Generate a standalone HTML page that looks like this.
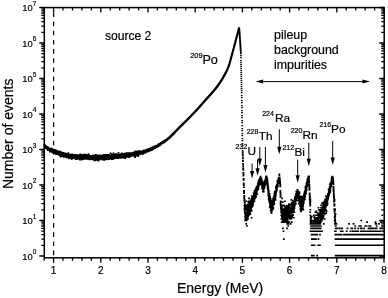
<!DOCTYPE html><html><head><meta charset="utf-8"><title>spectrum</title><style>html,body{margin:0;padding:0;background:#fff}svg{display:block}</style></head><body><svg width="388" height="298" viewBox="0 0 388 298" font-family="&quot;Liberation Sans&quot;, sans-serif" fill="#000">
<rect width="388" height="298" fill="#fff"/>
<path d="M44.2 146.1h.2M44.2 146.4h.2M44.3 144.9h.2M44.3 145.9h.2M44.4 145.9h.2M44.4 146.1h.2M44.4 146.1h.2M44.5 145.3h.2M44.5 145.2h.2M44.6 146.3h.2M44.6 146.2h.2M44.7 145.2h.2M44.7 146.7h.2M44.7 146.2h.2M44.8 145.9h.2M44.8 146.6h.2M44.9 145.8h.2M44.9 147.0h.2M44.9 146.0h.2M45.0 145.6h.2M45.0 147.0h.2M45.1 146.2h.2M45.1 145.7h.2M45.2 146.7h.2M45.2 146.5h.2M45.2 146.6h.2M45.3 147.3h.2M45.3 146.6h.2M45.4 145.8h.2M45.4 146.7h.2M45.4 146.1h.2M45.5 148.3h.2M45.5 146.9h.2M45.6 148.0h.2M45.6 147.5h.2M45.7 146.8h.2M45.7 146.2h.2M45.7 147.2h.2M45.8 146.2h.2M45.8 147.1h.2M45.9 147.2h.2M45.9 147.9h.2M45.9 147.8h.2M46.0 147.5h.2M46.0 147.3h.2M46.1 146.3h.2M46.1 146.3h.2M46.2 146.7h.2M46.2 147.3h.2M46.2 147.1h.2M46.3 146.7h.2M46.3 148.2h.2M46.4 147.5h.2M46.4 147.1h.2M46.4 148.1h.2M46.5 146.7h.2M46.5 147.3h.2M46.6 147.4h.2M46.6 147.5h.2M46.6 147.9h.2M46.7 147.5h.2M46.7 148.0h.2M46.8 148.1h.2M46.8 147.9h.2M46.9 147.1h.2M46.9 148.5h.2M46.9 147.5h.2M47.0 147.4h.2M47.0 148.1h.2M47.1 148.3h.2M47.1 147.8h.2M47.1 148.5h.2M47.2 149.1h.2M47.2 147.3h.2M47.3 149.0h.2M47.3 148.6h.2M47.4 148.7h.2M47.4 148.4h.2M47.4 147.8h.2M47.5 148.6h.2M47.5 148.6h.2M47.6 148.2h.2M47.6 148.8h.2M47.6 148.2h.2M47.7 147.7h.2M47.7 148.2h.2M47.8 147.4h.2M47.8 148.2h.2M47.9 148.2h.2M47.9 150.2h.2M47.9 149.0h.2M48.0 148.1h.2M48.0 149.4h.2M48.1 148.8h.2M48.1 148.2h.2M48.1 148.1h.2M48.2 148.7h.2M48.2 148.8h.2M48.3 148.6h.2M48.3 150.1h.2M48.3 148.8h.2M48.4 149.4h.2M48.4 149.1h.2M48.5 149.8h.2M48.5 150.2h.2M48.6 149.2h.2M48.6 148.7h.2M48.6 148.8h.2M48.7 150.0h.2M48.7 149.6h.2M48.8 149.8h.2M48.8 148.9h.2M48.8 148.6h.2M48.9 148.9h.2M48.9 148.9h.2M49.0 148.2h.2M49.0 149.3h.2M49.1 149.4h.2M49.1 148.7h.2M49.1 150.2h.2M49.2 150.1h.2M49.2 149.3h.2M49.3 148.2h.2M49.3 150.0h.2M49.3 149.4h.2M49.4 149.9h.2M49.4 149.0h.2M49.5 149.2h.2M49.5 149.5h.2M49.6 149.9h.2M49.6 149.8h.2M49.6 150.7h.2M49.7 150.3h.2M49.7 149.3h.2M49.8 151.4h.2M49.8 148.7h.2M49.8 150.3h.2M49.9 149.4h.2M49.9 148.7h.2M50.0 151.6h.2M50.0 150.8h.2M50.1 150.4h.2M50.1 149.8h.2M50.1 149.1h.2M50.2 148.6h.2M50.2 150.2h.2M50.3 149.0h.2M50.3 150.1h.2M50.3 150.2h.2M50.4 149.3h.2M50.4 150.6h.2M50.5 150.9h.2M50.5 149.2h.2M50.5 149.8h.2M50.6 150.0h.2M50.6 149.9h.2M50.7 151.5h.2M50.7 149.7h.2M50.8 148.9h.2M50.8 150.2h.2M50.8 149.8h.2M50.9 150.0h.2M50.9 149.4h.2M51.0 149.8h.2M51.0 151.8h.2M51.0 149.7h.2M51.1 149.6h.2M51.1 151.6h.2M51.2 150.5h.2M51.2 149.7h.2M51.3 149.4h.2M51.3 150.8h.2M51.3 148.6h.2M51.4 150.1h.2M51.4 150.3h.2M51.5 150.1h.2M51.5 150.1h.2M51.5 149.9h.2M51.6 151.2h.2M51.6 150.1h.2M51.7 150.2h.2M51.7 148.5h.2M51.8 150.2h.2M51.8 150.7h.2M51.8 151.0h.2M51.9 150.5h.2M51.9 150.8h.2M52.0 151.6h.2M52.0 151.6h.2M52.0 150.9h.2M52.1 151.0h.2M52.1 149.6h.2M52.2 150.1h.2M52.2 150.7h.2M52.3 150.1h.2M52.3 151.0h.2M52.3 151.6h.2M52.4 152.1h.2M52.4 150.8h.2M52.5 150.5h.2M52.5 150.2h.2M52.5 152.8h.2M52.6 151.6h.2M52.6 150.9h.2M52.7 151.1h.2M52.7 152.5h.2M52.7 151.1h.2M52.8 151.3h.2M52.8 150.4h.2M52.9 151.9h.2M52.9 149.9h.2M53.0 151.9h.2M53.0 149.9h.2M53.0 151.2h.2M53.1 150.5h.2M53.1 151.4h.2M53.2 152.0h.2M53.2 150.3h.2M53.2 151.5h.2M53.3 150.5h.2M53.3 151.9h.2M53.4 151.9h.2M53.4 151.4h.2M53.5 150.3h.2M53.5 151.7h.2M53.5 149.6h.2M53.6 151.3h.2M53.6 150.2h.2M53.7 152.4h.2M53.7 151.6h.2M53.7 150.7h.2M53.8 150.5h.2M53.8 151.7h.2M53.9 149.8h.2M53.9 152.2h.2M54.0 151.2h.2M54.0 150.4h.2M54.0 150.8h.2M54.1 151.2h.2M54.1 150.7h.2M54.2 152.0h.2M54.2 150.9h.2M54.2 152.6h.2M54.3 152.3h.2M54.3 150.8h.2M54.4 150.9h.2M54.4 151.8h.2M54.4 152.4h.2M54.5 151.8h.2M54.5 152.2h.2M54.6 150.5h.2M54.6 149.9h.2M54.7 152.4h.2M54.7 151.5h.2M54.7 151.4h.2M54.8 151.3h.2M54.8 151.5h.2M54.9 151.1h.2M54.9 153.5h.2M54.9 152.2h.2M55.0 152.3h.2M55.0 152.2h.2M55.1 152.9h.2M55.1 152.3h.2M55.2 152.3h.2M55.2 151.6h.2M55.2 151.7h.2M55.3 152.8h.2M55.3 152.9h.2M55.4 153.3h.2M55.4 152.5h.2M55.4 152.5h.2M55.5 152.5h.2M55.5 151.5h.2M55.6 152.0h.2M55.6 151.5h.2M55.7 151.9h.2M55.7 151.8h.2M55.7 151.4h.2M55.8 151.4h.2M55.8 150.2h.2M55.9 152.2h.2M55.9 152.6h.2M55.9 153.6h.2M56.0 151.5h.2M56.0 150.9h.2M56.1 152.2h.2M56.1 152.5h.2M56.2 153.0h.2M56.2 152.3h.2M56.2 154.3h.2M56.3 151.8h.2M56.3 153.0h.2M56.4 152.0h.2M56.4 151.0h.2M56.4 153.8h.2M56.5 152.7h.2M56.5 153.2h.2M56.6 153.3h.2M56.6 151.7h.2M56.6 151.8h.2M56.7 152.0h.2M56.7 152.1h.2M56.8 152.8h.2M56.8 152.4h.2M56.9 151.9h.2M56.9 151.9h.2M56.9 152.9h.2M57.0 152.2h.2M57.0 153.1h.2M57.1 153.8h.2M57.1 151.1h.2M57.1 152.6h.2M57.2 152.7h.2M57.2 153.3h.2M57.3 152.6h.2M57.3 153.1h.2M57.4 152.1h.2M57.4 151.6h.2M57.4 153.2h.2M57.5 153.4h.2M57.5 152.8h.2M57.6 152.7h.2M57.6 153.1h.2M57.6 154.0h.2M57.7 152.6h.2M57.7 152.8h.2M57.8 152.9h.2M57.8 153.4h.2M57.9 152.9h.2M57.9 153.1h.2M57.9 153.6h.2M58.0 152.9h.2M58.0 153.1h.2M58.1 152.7h.2M58.1 153.2h.2M58.1 152.6h.2M58.2 154.3h.2M58.2 153.1h.2M58.3 154.4h.2M58.3 151.8h.2M58.4 153.1h.2M58.4 152.7h.2M58.4 153.3h.2M58.5 152.9h.2M58.5 152.9h.2M58.6 153.4h.2M58.6 154.4h.2M58.6 153.9h.2M58.7 153.0h.2M58.7 152.7h.2M58.8 153.6h.2M58.8 153.8h.2M58.8 153.3h.2M58.9 153.8h.2M58.9 152.9h.2M59.0 155.0h.2M59.0 154.3h.2M59.1 152.6h.2M59.1 153.2h.2M59.1 151.4h.2M59.2 154.2h.2M59.2 152.3h.2M59.3 153.2h.2M59.3 152.0h.2M59.3 152.1h.2M59.4 154.2h.2M59.4 154.0h.2M59.5 153.9h.2M59.5 151.4h.2M59.6 152.9h.2M59.6 154.5h.2M59.6 155.0h.2M59.7 153.1h.2M59.7 153.3h.2M59.8 153.9h.2M59.8 153.3h.2M59.8 155.0h.2M59.9 153.4h.2M59.9 153.3h.2M60.0 153.3h.2M60.0 154.2h.2M60.1 153.5h.2M60.1 154.0h.2M60.1 155.6h.2M60.2 155.7h.2M60.2 153.0h.2M60.3 154.6h.2M60.3 153.1h.2M60.3 154.5h.2M60.4 153.3h.2M60.4 152.6h.2M60.5 151.8h.2M60.5 154.0h.2M60.5 152.3h.2M60.6 153.4h.2M60.6 156.6h.2M60.7 156.0h.2M60.7 153.3h.2M60.8 152.8h.2M60.8 154.1h.2M60.8 154.0h.2M60.9 154.5h.2M60.9 154.6h.2M61.0 152.9h.2M61.0 154.1h.2M61.0 154.5h.2M61.1 153.5h.2M61.1 154.6h.2M61.2 153.7h.2M61.2 154.4h.2M61.3 153.7h.2M61.3 154.2h.2M61.3 155.6h.2M61.4 153.2h.2M61.4 153.4h.2M61.5 154.1h.2M61.5 154.6h.2M61.5 153.0h.2M61.6 155.0h.2M61.6 153.8h.2M61.7 153.7h.2M61.7 153.6h.2M61.8 154.4h.2M61.8 154.6h.2M61.8 152.5h.2M61.9 155.0h.2M61.9 155.9h.2M62.0 155.6h.2M62.0 154.3h.2M62.0 155.0h.2M62.1 153.6h.2M62.1 153.4h.2M62.2 156.0h.2M62.2 156.0h.2M62.3 154.7h.2M62.3 154.2h.2M62.3 155.6h.2M62.4 154.9h.2M62.4 156.1h.2M62.5 153.9h.2M62.5 153.3h.2M62.5 154.3h.2M62.6 154.1h.2M62.6 154.0h.2M62.7 153.4h.2M62.7 153.6h.2M62.7 153.9h.2M62.8 153.7h.2M62.8 155.7h.2M62.9 154.1h.2M62.9 155.2h.2M63.0 154.1h.2M63.0 154.5h.2M63.0 154.5h.2M63.1 154.0h.2M63.1 154.4h.2M63.2 154.9h.2M63.2 152.9h.2M63.2 154.5h.2M63.3 154.2h.2M63.3 154.9h.2M63.4 155.2h.2M63.4 155.3h.2M63.5 154.6h.2M63.5 154.7h.2M63.5 154.1h.2M63.6 155.1h.2M63.6 153.6h.2M63.7 153.9h.2M63.7 156.9h.2M63.7 156.1h.2M63.8 155.2h.2M63.8 154.7h.2M63.9 154.4h.2M63.9 154.5h.2M64.0 155.1h.2M64.0 153.3h.2M64.0 156.1h.2M64.1 155.3h.2M64.1 155.5h.2M64.2 154.8h.2M64.2 154.6h.2M64.2 154.9h.2M64.3 154.5h.2M64.3 155.0h.2M64.4 153.8h.2M64.4 155.5h.2M64.5 155.5h.2M64.5 154.5h.2M64.5 154.7h.2M64.6 154.6h.2M64.6 155.0h.2M64.7 156.3h.2M64.7 154.8h.2M64.7 155.7h.2M64.8 154.4h.2M64.8 154.7h.2M64.9 155.0h.2M64.9 155.5h.2M64.9 154.2h.2M65.0 155.1h.2M65.0 156.4h.2M65.1 154.2h.2M65.1 153.4h.2M65.2 154.2h.2M65.2 154.8h.2M65.2 155.9h.2M65.3 155.4h.2M65.3 154.5h.2M65.4 154.4h.2M65.4 155.1h.2M65.4 154.2h.2M65.5 153.5h.2M65.5 155.1h.2M65.6 154.6h.2M65.6 154.7h.2M65.7 154.6h.2M65.7 154.0h.2M65.7 155.8h.2M65.8 156.2h.2M65.8 155.7h.2M65.9 155.8h.2M65.9 155.9h.2M65.9 154.6h.2M66.0 154.4h.2M66.0 156.1h.2M66.1 157.4h.2M66.1 157.1h.2M66.2 155.4h.2M66.2 155.5h.2M66.2 156.4h.2M66.3 155.3h.2M66.3 154.5h.2M66.4 155.4h.2M66.4 154.9h.2M66.4 157.3h.2M66.5 154.9h.2M66.5 156.0h.2M66.6 155.3h.2M66.6 156.9h.2M66.6 156.2h.2M66.7 156.3h.2M66.7 156.4h.2M66.8 155.4h.2M66.8 155.7h.2M66.9 155.6h.2M66.9 154.4h.2M66.9 155.0h.2M67.0 155.2h.2M67.0 154.9h.2M67.1 155.3h.2M67.1 154.5h.2M67.1 155.0h.2M67.2 155.9h.2M67.2 155.8h.2M67.3 154.9h.2M67.3 156.3h.2M67.4 155.6h.2M67.4 155.6h.2M67.4 155.8h.2M67.5 155.7h.2M67.5 155.2h.2M67.6 154.6h.2M67.6 153.9h.2M67.6 155.2h.2M67.7 155.0h.2M67.7 154.7h.2M67.8 157.1h.2M67.8 156.8h.2M67.9 154.9h.2M67.9 155.3h.2M67.9 156.1h.2M68.0 155.0h.2M68.0 156.3h.2M68.1 156.8h.2M68.1 155.4h.2M68.1 155.3h.2M68.2 155.1h.2M68.2 153.1h.2M68.3 156.1h.2M68.3 154.9h.2M68.4 156.3h.2M68.4 155.8h.2M68.4 155.8h.2M68.5 154.3h.2M68.5 156.0h.2M68.6 157.4h.2M68.6 158.5h.2M68.6 154.6h.2M68.7 155.7h.2M68.7 154.7h.2M68.8 156.1h.2M68.8 156.9h.2M68.8 156.6h.2M68.9 154.7h.2M68.9 156.6h.2M69.0 155.3h.2M69.0 154.8h.2M69.1 157.5h.2M69.1 154.5h.2M69.1 155.6h.2M69.2 155.6h.2M69.2 155.8h.2M69.3 155.0h.2M69.3 156.3h.2M69.3 155.0h.2M69.4 155.7h.2M69.4 155.4h.2M69.5 156.4h.2M69.5 154.7h.2M69.6 155.3h.2M69.6 156.5h.2M69.6 155.9h.2M69.7 156.2h.2M69.7 155.5h.2M69.8 155.2h.2M69.8 157.7h.2M69.8 155.5h.2M69.9 155.0h.2M69.9 155.5h.2M70.0 156.1h.2M70.0 155.2h.2M70.1 156.9h.2M70.1 156.5h.2M70.1 156.7h.2M70.2 157.1h.2M70.2 155.7h.2M70.3 155.8h.2M70.3 155.7h.2M70.3 155.2h.2M70.4 156.5h.2M70.4 156.0h.2M70.5 157.2h.2M70.5 157.0h.2M70.6 157.5h.2M70.6 155.2h.2M70.6 155.8h.2M70.7 157.1h.2M70.7 156.5h.2M70.8 157.2h.2M70.8 158.1h.2M70.8 155.2h.2M70.9 155.8h.2M70.9 154.6h.2M71.0 156.2h.2M71.0 156.3h.2M71.0 156.8h.2M71.1 156.9h.2M71.1 156.7h.2M71.2 157.0h.2M71.2 156.5h.2M71.3 156.0h.2M71.3 156.7h.2M71.3 154.5h.2M71.4 156.5h.2M71.4 155.1h.2M71.5 154.5h.2M71.5 156.7h.2M71.5 155.0h.2M71.6 155.7h.2M71.6 157.2h.2M71.7 156.6h.2M71.7 159.1h.2M71.8 157.0h.2M71.8 155.9h.2M71.8 156.9h.2M71.9 156.3h.2M71.9 156.6h.2M72.0 156.7h.2M72.0 156.4h.2M72.0 156.7h.2M72.1 156.6h.2M72.1 155.7h.2M72.2 154.2h.2M72.2 156.9h.2M72.3 156.3h.2M72.3 156.7h.2M72.3 156.9h.2M72.4 156.0h.2M72.4 156.2h.2M72.5 155.0h.2M72.5 155.2h.2M72.5 156.9h.2M72.6 157.8h.2M72.6 156.1h.2M72.7 155.5h.2M72.7 155.7h.2M72.7 156.3h.2M72.8 156.4h.2M72.8 156.4h.2M72.9 156.6h.2M72.9 156.2h.2M73.0 155.9h.2M73.0 156.7h.2M73.0 157.7h.2M73.1 156.1h.2M73.1 157.1h.2M73.2 156.2h.2M73.2 156.8h.2M73.2 158.1h.2M73.3 156.7h.2M73.3 156.5h.2M73.4 155.7h.2M73.4 155.9h.2M73.5 156.1h.2M73.5 156.2h.2M73.5 155.3h.2M73.6 157.4h.2M73.6 154.8h.2M73.7 154.9h.2M73.7 156.2h.2M73.7 157.2h.2M73.8 155.0h.2M73.8 156.8h.2M73.9 156.3h.2M73.9 156.5h.2M74.0 156.2h.2M74.0 156.9h.2M74.0 156.0h.2M74.1 156.3h.2M74.1 156.8h.2M74.2 155.8h.2M74.2 156.0h.2M74.2 156.9h.2M74.3 156.8h.2M74.3 155.8h.2M74.4 157.9h.2M74.4 156.3h.2M74.5 156.3h.2M74.5 157.8h.2M74.5 157.0h.2M74.6 155.1h.2M74.6 155.8h.2M74.7 157.5h.2M74.7 156.8h.2M74.7 156.9h.2M74.8 157.2h.2M74.8 157.3h.2M74.9 156.7h.2M74.9 156.9h.2M74.9 155.0h.2M75.0 154.7h.2M75.0 156.3h.2M75.1 156.7h.2M75.1 158.0h.2M75.2 157.2h.2M75.2 157.2h.2M75.2 156.4h.2M75.3 154.8h.2M75.3 157.0h.2M75.4 155.1h.2M75.4 156.4h.2M75.4 156.2h.2M75.5 156.6h.2M75.5 159.1h.2M75.6 157.4h.2M75.6 156.9h.2M75.7 156.1h.2M75.7 157.5h.2M75.7 157.0h.2M75.8 157.8h.2M75.8 156.9h.2M75.9 157.4h.2M75.9 155.9h.2M75.9 157.5h.2M76.0 157.6h.2M76.0 156.8h.2M76.1 155.5h.2M76.1 156.6h.2M76.2 156.7h.2M76.2 156.0h.2M76.2 156.6h.2M76.3 155.9h.2M76.3 155.9h.2M76.4 156.6h.2M76.4 158.3h.2M76.4 156.4h.2M76.5 156.0h.2M76.5 155.5h.2M76.6 157.4h.2M76.6 157.6h.2M76.7 156.4h.2M76.7 156.7h.2M76.7 156.6h.2M76.8 157.3h.2M76.8 156.8h.2M76.9 156.8h.2M76.9 159.1h.2M76.9 155.7h.2M77.0 157.2h.2M77.0 158.5h.2M77.1 158.4h.2M77.1 156.8h.2M77.1 158.4h.2M77.2 157.2h.2M77.2 157.9h.2M77.3 157.2h.2M77.3 157.3h.2M77.4 155.0h.2M77.4 156.4h.2M77.4 155.5h.2M77.5 158.1h.2M77.5 157.1h.2M77.6 157.9h.2M77.6 156.3h.2M77.6 155.3h.2M77.7 156.7h.2M77.7 158.5h.2M77.8 157.0h.2M77.8 155.8h.2M77.9 155.3h.2M77.9 157.2h.2M77.9 156.9h.2M78.0 157.9h.2M78.0 158.6h.2M78.1 157.3h.2M78.1 155.6h.2M78.1 157.6h.2M78.2 156.4h.2M78.2 156.6h.2M78.3 157.3h.2M78.3 157.6h.2M78.4 158.6h.2M78.4 157.2h.2M78.4 156.4h.2M78.5 156.1h.2M78.5 156.7h.2M78.6 156.8h.2M78.6 158.5h.2M78.6 158.2h.2M78.7 157.6h.2M78.7 157.4h.2M78.8 158.4h.2M78.8 157.6h.2M78.8 157.2h.2M78.9 156.8h.2M78.9 156.9h.2M79.0 158.3h.2M79.0 157.9h.2M79.1 156.0h.2M79.1 157.9h.2M79.1 156.7h.2M79.2 155.5h.2M79.2 155.4h.2M79.3 158.4h.2M79.3 157.0h.2M79.3 157.4h.2M79.4 157.7h.2M79.4 156.1h.2M79.5 156.8h.2M79.5 155.6h.2M79.6 158.3h.2M79.6 159.4h.2M79.6 157.2h.2M79.7 157.0h.2M79.7 155.6h.2M79.8 157.4h.2M79.8 156.5h.2M79.8 155.7h.2M79.9 159.6h.2M79.9 157.1h.2M80.0 157.6h.2M80.0 158.1h.2M80.1 157.6h.2M80.1 157.2h.2M80.1 154.8h.2M80.2 158.0h.2M80.2 157.4h.2M80.3 155.9h.2M80.3 154.4h.2M80.3 158.4h.2M80.4 156.4h.2M80.4 157.7h.2M80.5 155.4h.2M80.5 156.2h.2M80.6 156.6h.2M80.6 155.8h.2M80.6 156.8h.2M80.7 157.1h.2M80.7 156.5h.2M80.8 158.6h.2M80.8 157.0h.2M80.8 155.9h.2M80.9 159.8h.2M80.9 158.9h.2M81.0 156.4h.2M81.0 156.4h.2M81.0 157.0h.2M81.1 156.4h.2M81.1 157.2h.2M81.2 155.6h.2M81.2 158.2h.2M81.3 155.4h.2M81.3 157.2h.2M81.3 157.8h.2M81.4 156.3h.2M81.4 157.5h.2M81.5 155.2h.2M81.5 157.5h.2M81.5 158.3h.2M81.6 159.2h.2M81.6 156.8h.2M81.7 154.7h.2M81.7 156.2h.2M81.8 157.1h.2M81.8 159.5h.2M81.8 158.5h.2M81.9 156.6h.2M81.9 157.6h.2M82.0 157.1h.2M82.0 157.1h.2M82.0 156.4h.2M82.1 157.7h.2M82.1 156.4h.2M82.2 155.9h.2M82.2 157.2h.2M82.3 156.5h.2M82.3 157.3h.2M82.3 157.6h.2M82.4 156.9h.2M82.4 157.4h.2M82.5 157.9h.2M82.5 157.3h.2M82.5 157.4h.2M82.6 156.1h.2M82.6 155.8h.2M82.7 158.9h.2M82.7 159.1h.2M82.8 157.9h.2M82.8 155.9h.2M82.8 158.4h.2M82.9 158.3h.2M82.9 159.2h.2M83.0 158.0h.2M83.0 157.4h.2M83.0 156.1h.2M83.1 155.2h.2M83.1 157.1h.2M83.2 156.7h.2M83.2 156.5h.2M83.2 157.0h.2M83.3 156.6h.2M83.3 158.9h.2M83.4 156.5h.2M83.4 156.3h.2M83.5 158.8h.2M83.5 158.2h.2M83.5 156.9h.2M83.6 156.7h.2M83.6 156.5h.2M83.7 155.5h.2M83.7 156.4h.2M83.7 154.6h.2M83.8 157.5h.2M83.8 158.1h.2M83.9 158.6h.2M83.9 156.3h.2M84.0 155.7h.2M84.0 157.9h.2M84.0 157.1h.2M84.1 158.5h.2M84.1 155.4h.2M84.2 156.9h.2M84.2 156.1h.2M84.2 158.1h.2M84.3 156.9h.2M84.3 155.8h.2M84.4 156.8h.2M84.4 158.8h.2M84.5 158.0h.2M84.5 157.5h.2M84.5 156.6h.2M84.6 156.8h.2M84.6 156.1h.2M84.7 157.2h.2M84.7 158.5h.2M84.7 156.0h.2M84.8 156.7h.2M84.8 158.8h.2M84.9 157.3h.2M84.9 158.4h.2M84.9 154.6h.2M85.0 157.4h.2M85.0 157.1h.2M85.1 156.1h.2M85.1 158.5h.2M85.2 156.4h.2M85.2 157.3h.2M85.2 156.7h.2M85.3 158.7h.2M85.3 156.6h.2M85.4 158.8h.2M85.4 157.1h.2M85.4 156.7h.2M85.5 156.6h.2M85.5 156.2h.2M85.6 158.9h.2M85.6 155.3h.2M85.7 157.3h.2M85.7 157.0h.2M85.7 156.1h.2M85.8 155.2h.2M85.8 158.0h.2M85.9 157.1h.2M85.9 157.0h.2M85.9 155.7h.2M86.0 156.8h.2M86.0 154.8h.2M86.1 156.3h.2M86.1 157.8h.2M86.2 157.8h.2M86.2 157.3h.2M86.2 157.2h.2M86.3 157.9h.2M86.3 156.9h.2M86.4 156.2h.2M86.4 157.5h.2M86.4 156.1h.2M86.5 156.4h.2M86.5 156.7h.2M86.6 155.6h.2M86.6 155.6h.2M86.7 158.4h.2M86.7 156.9h.2M86.7 156.6h.2M86.8 158.4h.2M86.8 158.8h.2M86.9 157.3h.2M86.9 158.2h.2M86.9 157.4h.2M87.0 158.5h.2M87.0 156.5h.2M87.1 158.4h.2M87.1 158.7h.2M87.1 157.5h.2M87.2 157.1h.2M87.2 158.4h.2M87.3 156.8h.2M87.3 158.5h.2M87.4 155.3h.2M87.4 156.8h.2M87.4 156.7h.2M87.5 157.1h.2M87.5 157.1h.2M87.6 158.9h.2M87.6 156.9h.2M87.6 156.5h.2M87.7 158.2h.2M87.7 157.0h.2M87.8 158.4h.2M87.8 156.3h.2M87.9 157.2h.2M87.9 155.5h.2M87.9 156.3h.2M88.0 157.8h.2M88.0 157.0h.2M88.1 155.2h.2M88.1 155.8h.2M88.1 157.8h.2M88.2 158.3h.2M88.2 157.9h.2M88.3 158.2h.2M88.3 157.8h.2M88.4 154.1h.2M88.4 156.8h.2M88.4 155.6h.2M88.5 158.3h.2M88.5 156.8h.2M88.6 156.3h.2M88.6 159.1h.2M88.6 158.0h.2M88.7 159.0h.2M88.7 158.8h.2M88.8 158.2h.2M88.8 156.5h.2M88.9 156.2h.2M88.9 157.8h.2M88.9 158.4h.2M89.0 155.6h.2M89.0 157.3h.2M89.1 157.6h.2M89.1 155.4h.2M89.1 157.5h.2M89.2 158.7h.2M89.2 156.2h.2M89.3 157.9h.2M89.3 158.9h.2M89.3 156.2h.2M89.4 158.3h.2M89.4 158.0h.2M89.5 156.6h.2M89.5 156.0h.2M89.6 159.5h.2M89.6 156.9h.2M89.6 156.3h.2M89.7 155.9h.2M89.7 157.4h.2M89.8 158.2h.2M89.8 156.8h.2M89.8 158.9h.2M89.9 155.8h.2M89.9 157.8h.2M90.0 158.9h.2M90.0 157.0h.2M90.1 156.1h.2M90.1 156.7h.2M90.1 158.6h.2M90.2 155.7h.2M90.2 156.8h.2M90.3 157.3h.2M90.3 157.5h.2M90.3 156.2h.2M90.4 156.8h.2M90.4 157.3h.2M90.5 157.1h.2M90.5 157.1h.2M90.6 157.2h.2M90.6 157.4h.2M90.6 157.1h.2M90.7 155.8h.2M90.7 158.5h.2M90.8 159.3h.2M90.8 158.2h.2M90.8 156.9h.2M90.9 157.8h.2M90.9 157.3h.2M91.0 156.6h.2M91.0 157.0h.2M91.0 156.9h.2M91.1 156.5h.2M91.1 156.8h.2M91.2 157.9h.2M91.2 157.8h.2M91.3 157.5h.2M91.3 158.5h.2M91.3 157.8h.2M91.4 158.5h.2M91.4 158.1h.2M91.5 159.3h.2M91.5 158.9h.2M91.5 156.0h.2M91.6 159.0h.2M91.6 157.0h.2M91.7 156.8h.2M91.7 156.3h.2M91.8 157.8h.2M91.8 157.1h.2M91.8 157.6h.2M91.9 157.2h.2M91.9 157.1h.2M92.0 156.5h.2M92.0 157.5h.2M92.0 158.0h.2M92.1 158.2h.2M92.1 158.6h.2M92.2 157.4h.2M92.2 156.8h.2M92.3 157.8h.2M92.3 156.9h.2M92.3 156.1h.2M92.4 158.2h.2M92.4 156.2h.2M92.5 157.2h.2M92.5 158.4h.2M92.5 158.3h.2M92.6 157.1h.2M92.6 157.5h.2M92.7 156.7h.2M92.7 159.5h.2M92.8 156.2h.2M92.8 156.2h.2M92.8 158.6h.2M92.9 158.2h.2M92.9 155.3h.2M93.0 156.6h.2M93.0 157.6h.2M93.0 157.8h.2M93.1 157.4h.2M93.1 156.6h.2M93.2 157.7h.2M93.2 156.9h.2M93.2 158.0h.2M93.3 159.6h.2M93.3 157.3h.2M93.4 158.0h.2M93.4 156.1h.2M93.5 157.1h.2M93.5 156.7h.2M93.5 158.8h.2M93.6 156.6h.2M93.6 159.3h.2M93.7 156.4h.2M93.7 157.2h.2M93.7 156.4h.2M93.8 155.7h.2M93.8 156.2h.2M93.9 158.4h.2M93.9 158.6h.2M94.0 157.1h.2M94.0 157.1h.2M94.0 157.0h.2M94.1 158.5h.2M94.1 158.6h.2M94.2 157.4h.2M94.2 155.7h.2M94.2 158.5h.2M94.3 157.0h.2M94.3 156.9h.2M94.4 157.8h.2M94.4 160.4h.2M94.5 156.8h.2M94.5 159.6h.2M94.5 157.6h.2M94.6 159.1h.2M94.6 158.3h.2M94.7 156.4h.2M94.7 159.7h.2M94.7 158.9h.2M94.8 158.2h.2M94.8 158.4h.2M94.9 157.4h.2M94.9 157.6h.2M95.0 157.3h.2M95.0 157.4h.2M95.0 157.4h.2M95.1 155.6h.2M95.1 158.5h.2M95.2 157.2h.2M95.2 157.6h.2M95.2 156.6h.2M95.3 160.5h.2M95.3 158.3h.2M95.4 157.0h.2M95.4 157.5h.2M95.4 156.1h.2M95.5 159.2h.2M95.5 154.9h.2M95.6 157.0h.2M95.6 157.8h.2M95.7 158.3h.2M95.7 158.5h.2M95.7 158.2h.2M95.8 157.4h.2M95.8 158.4h.2M95.9 157.0h.2M95.9 158.0h.2M95.9 156.8h.2M96.0 158.4h.2M96.0 157.3h.2M96.1 158.3h.2M96.1 156.2h.2M96.2 157.5h.2M96.2 157.1h.2M96.2 155.6h.2M96.3 157.2h.2M96.3 158.2h.2M96.4 157.6h.2M96.4 157.9h.2M96.4 156.7h.2M96.5 155.4h.2M96.5 155.5h.2M96.6 157.5h.2M96.6 157.4h.2M96.7 156.2h.2M96.7 156.6h.2M96.7 159.9h.2M96.8 158.3h.2M96.8 157.9h.2M96.9 158.2h.2M96.9 157.3h.2M96.9 156.9h.2M97.0 158.7h.2M97.0 156.5h.2M97.1 157.4h.2M97.1 156.6h.2M97.1 155.4h.2M97.2 157.9h.2M97.2 159.5h.2M97.3 157.9h.2M97.3 157.5h.2M97.4 157.9h.2M97.4 157.6h.2M97.4 158.5h.2M97.5 156.8h.2M97.5 155.8h.2M97.6 156.6h.2M97.6 158.4h.2M97.6 157.3h.2M97.7 156.9h.2M97.7 158.5h.2M97.8 157.5h.2M97.8 158.3h.2M97.9 155.6h.2M97.9 156.4h.2M97.9 157.2h.2M98.0 159.6h.2M98.0 156.7h.2M98.1 158.6h.2M98.1 156.4h.2M98.1 156.0h.2M98.2 156.1h.2M98.2 157.3h.2M98.3 158.4h.2M98.3 157.0h.2M98.4 157.0h.2M98.4 160.8h.2M98.4 158.2h.2M98.5 156.6h.2M98.5 157.8h.2M98.6 156.0h.2M98.6 157.3h.2M98.6 156.8h.2M98.7 156.8h.2M98.7 156.8h.2M98.8 155.9h.2M98.8 157.7h.2M98.9 158.4h.2M98.9 158.9h.2M98.9 157.2h.2M99.0 158.7h.2M99.0 158.5h.2M99.1 157.1h.2M99.1 157.7h.2M99.1 157.6h.2M99.2 155.5h.2M99.2 157.0h.2M99.3 157.9h.2M99.3 157.4h.2M99.3 158.5h.2M99.4 157.2h.2M99.4 156.8h.2M99.5 155.8h.2M99.5 156.9h.2M99.6 157.2h.2M99.6 157.0h.2M99.6 157.1h.2M99.7 157.8h.2M99.7 159.4h.2M99.8 157.9h.2M99.8 156.9h.2M99.8 156.7h.2M99.9 157.2h.2M99.9 157.6h.2M100.0 158.0h.2M100.0 157.7h.2M100.1 158.8h.2M100.1 155.2h.2M100.1 157.7h.2M100.2 157.2h.2M100.2 156.9h.2M100.3 158.4h.2M100.3 158.5h.2M100.3 158.1h.2M100.4 157.4h.2M100.4 156.6h.2M100.5 158.1h.2M100.5 158.0h.2M100.6 158.3h.2M100.6 157.1h.2M100.6 157.2h.2M100.7 156.5h.2M100.7 156.0h.2M100.8 156.8h.2M100.8 157.6h.2M100.8 157.9h.2M100.9 157.1h.2M100.9 157.5h.2M101.0 156.9h.2M101.0 156.4h.2M101.1 158.0h.2M101.1 156.7h.2M101.1 157.2h.2M101.2 158.9h.2M101.2 156.4h.2M101.3 157.4h.2M101.3 158.1h.2M101.3 156.7h.2M101.4 156.3h.2M101.4 158.4h.2M101.5 157.6h.2M101.5 158.8h.2M101.5 157.7h.2M101.6 157.1h.2M101.6 157.2h.2M101.7 157.4h.2M101.7 155.8h.2M101.8 156.5h.2M101.8 157.0h.2M101.8 157.0h.2M101.9 157.3h.2M101.9 158.0h.2M102.0 158.3h.2M102.0 157.5h.2M102.0 156.7h.2M102.1 158.0h.2M102.1 159.5h.2M102.2 156.6h.2M102.2 157.6h.2M102.3 156.5h.2M102.3 157.1h.2M102.3 158.5h.2M102.4 158.5h.2M102.4 157.8h.2M102.5 159.7h.2M102.5 155.2h.2M102.5 157.9h.2M102.6 157.7h.2M102.6 158.8h.2M102.7 157.2h.2M102.7 156.5h.2M102.8 155.6h.2M102.8 157.8h.2M102.8 155.7h.2M102.9 156.9h.2M102.9 158.8h.2M103.0 156.0h.2M103.0 157.9h.2M103.0 156.7h.2M103.1 156.8h.2M103.1 157.6h.2M103.2 157.7h.2M103.2 156.5h.2M103.2 158.0h.2M103.3 158.3h.2M103.3 156.0h.2M103.4 157.4h.2M103.4 155.6h.2M103.5 158.8h.2M103.5 157.4h.2M103.5 157.2h.2M103.6 158.3h.2M103.6 155.8h.2M103.7 157.3h.2M103.7 159.2h.2M103.7 156.7h.2M103.8 158.9h.2M103.8 157.1h.2M103.9 156.8h.2M103.9 154.7h.2M104.0 157.8h.2M104.0 157.2h.2M104.0 157.9h.2M104.1 158.0h.2M104.1 156.5h.2M104.2 156.1h.2M104.2 156.4h.2M104.2 160.0h.2M104.3 156.4h.2M104.3 157.4h.2M104.4 158.5h.2M104.4 158.2h.2M104.5 159.6h.2M104.5 156.7h.2M104.5 157.4h.2M104.6 157.1h.2M104.6 158.1h.2M104.7 158.3h.2M104.7 156.6h.2M104.7 156.4h.2M104.8 157.3h.2M104.8 157.4h.2M104.9 156.6h.2M104.9 155.3h.2M105.0 156.9h.2M105.0 157.3h.2M105.0 157.6h.2M105.1 156.7h.2M105.1 157.5h.2M105.2 157.0h.2M105.2 156.6h.2M105.2 157.9h.2M105.3 155.9h.2M105.3 155.0h.2M105.4 158.0h.2M105.4 156.3h.2M105.4 159.0h.2M105.5 156.4h.2M105.5 159.1h.2M105.6 155.8h.2M105.6 156.2h.2M105.7 159.0h.2M105.7 157.8h.2M105.7 159.3h.2M105.8 155.1h.2M105.8 155.5h.2M105.9 157.0h.2M105.9 158.4h.2M105.9 157.0h.2M106.0 157.0h.2M106.0 156.0h.2M106.1 154.9h.2M106.1 156.0h.2M106.2 156.0h.2M106.2 157.2h.2M106.2 157.4h.2M106.3 156.2h.2M106.3 157.1h.2M106.4 157.6h.2M106.4 158.4h.2M106.4 158.4h.2M106.5 157.9h.2M106.5 158.4h.2M106.6 158.5h.2M106.6 157.4h.2M106.7 158.4h.2M106.7 157.1h.2M106.7 157.1h.2M106.8 156.9h.2M106.8 158.6h.2M106.9 156.5h.2M106.9 158.4h.2M106.9 157.8h.2M107.0 156.8h.2M107.0 158.1h.2M107.1 154.7h.2M107.1 156.8h.2M107.2 157.0h.2M107.2 155.8h.2M107.2 159.3h.2M107.3 155.9h.2M107.3 158.2h.2M107.4 158.0h.2M107.4 159.4h.2M107.4 156.1h.2M107.5 157.2h.2M107.5 158.8h.2M107.6 157.3h.2M107.6 155.9h.2M107.6 158.1h.2M107.7 156.9h.2M107.7 158.2h.2M107.8 157.4h.2M107.8 155.1h.2M107.9 157.1h.2M107.9 157.8h.2M107.9 155.8h.2M108.0 159.0h.2M108.0 157.1h.2M108.1 156.3h.2M108.1 158.8h.2M108.1 156.4h.2M108.2 154.7h.2M108.2 155.4h.2M108.3 158.1h.2M108.3 156.5h.2M108.4 157.7h.2M108.4 157.6h.2M108.4 155.3h.2M108.5 156.9h.2M108.5 157.1h.2M108.6 157.1h.2M108.6 158.3h.2M108.6 158.5h.2M108.7 157.4h.2M108.7 156.8h.2M108.8 157.1h.2M108.8 155.4h.2M108.9 156.3h.2M108.9 157.6h.2M108.9 157.3h.2M109.0 155.0h.2M109.0 155.3h.2M109.1 156.3h.2M109.1 158.2h.2M109.1 157.9h.2M109.2 157.4h.2M109.2 156.6h.2M109.3 156.7h.2M109.3 156.4h.2M109.3 159.1h.2M109.4 156.9h.2M109.4 155.9h.2M109.5 156.5h.2M109.5 157.0h.2M109.6 157.4h.2M109.6 157.4h.2M109.6 158.1h.2M109.7 157.1h.2M109.7 155.7h.2M109.8 157.0h.2M109.8 155.4h.2M109.8 157.3h.2M109.9 157.5h.2M109.9 155.8h.2M110.0 158.2h.2M110.0 157.4h.2M110.1 158.4h.2M110.1 157.0h.2M110.1 158.0h.2M110.2 157.8h.2M110.2 157.8h.2M110.3 157.6h.2M110.3 156.2h.2M110.3 155.7h.2M110.4 153.3h.2M110.4 156.6h.2M110.5 155.7h.2M110.5 157.9h.2M110.6 156.7h.2M110.6 157.2h.2M110.6 156.8h.2M110.7 156.6h.2M110.7 157.3h.2M110.8 157.4h.2M110.8 157.7h.2M110.8 157.4h.2M110.9 156.5h.2M110.9 158.5h.2M111.0 155.2h.2M111.0 155.8h.2M111.1 157.8h.2M111.1 155.8h.2M111.1 156.4h.2M111.2 158.0h.2M111.2 157.8h.2M111.3 156.5h.2M111.3 157.7h.2M111.3 156.7h.2M111.4 157.3h.2M111.4 155.3h.2M111.5 158.2h.2M111.5 155.4h.2M111.5 157.6h.2M111.6 156.6h.2M111.6 154.7h.2M111.7 158.0h.2M111.7 158.2h.2M111.8 158.0h.2M111.8 159.2h.2M111.8 157.5h.2M111.9 154.3h.2M111.9 157.6h.2M112.0 157.2h.2M112.0 156.0h.2M112.0 156.2h.2M112.1 159.0h.2M112.1 156.3h.2M112.2 155.0h.2M112.2 155.2h.2M112.3 158.6h.2M112.3 156.5h.2M112.3 155.5h.2M112.4 155.9h.2M112.4 157.5h.2M112.5 156.4h.2M112.5 156.4h.2M112.5 157.3h.2M112.6 156.6h.2M112.6 156.6h.2M112.7 157.5h.2M112.7 157.1h.2M112.8 157.4h.2M112.8 155.2h.2M112.8 156.5h.2M112.9 155.7h.2M112.9 156.4h.2M113.0 155.7h.2M113.0 157.2h.2M113.0 156.5h.2M113.1 158.0h.2M113.1 156.4h.2M113.2 156.5h.2M113.2 158.5h.2M113.3 158.6h.2M113.3 157.9h.2M113.3 156.2h.2M113.4 157.6h.2M113.4 157.2h.2M113.5 158.9h.2M113.5 153.4h.2M113.5 157.1h.2M113.6 158.1h.2M113.6 158.3h.2M113.7 155.6h.2M113.7 156.9h.2M113.7 156.5h.2M113.8 156.4h.2M113.8 156.9h.2M113.9 156.1h.2M113.9 154.4h.2M114.0 157.2h.2M114.0 156.7h.2M114.0 156.0h.2M114.1 156.3h.2M114.1 155.3h.2M114.2 156.3h.2M114.2 157.1h.2M114.2 155.8h.2M114.3 158.2h.2M114.3 156.6h.2M114.4 156.3h.2M114.4 154.7h.2M114.5 157.3h.2M114.5 156.8h.2M114.5 156.7h.2M114.6 158.0h.2M114.6 156.8h.2M114.7 157.0h.2M114.7 157.1h.2M114.7 156.4h.2M114.8 154.8h.2M114.8 157.1h.2M114.9 155.9h.2M114.9 156.4h.2M115.0 156.9h.2M115.0 155.9h.2M115.0 155.2h.2M115.1 155.8h.2M115.1 156.3h.2M115.2 156.0h.2M115.2 157.0h.2M115.2 155.6h.2M115.3 156.2h.2M115.3 156.7h.2M115.4 157.1h.2M115.4 156.2h.2M115.4 157.8h.2M115.5 157.0h.2M115.5 158.0h.2M115.6 155.0h.2M115.6 154.9h.2M115.7 156.1h.2M115.7 157.5h.2M115.7 156.6h.2M115.8 154.7h.2M115.8 155.7h.2M115.9 155.3h.2M115.9 154.0h.2M115.9 154.5h.2M116.0 155.3h.2M116.0 156.0h.2M116.1 156.8h.2M116.1 156.4h.2M116.2 155.6h.2M116.2 155.3h.2M116.2 156.0h.2M116.3 156.3h.2M116.3 155.7h.2M116.4 154.4h.2M116.4 155.8h.2M116.4 157.9h.2M116.5 156.3h.2M116.5 156.1h.2M116.6 155.2h.2M116.6 157.3h.2M116.7 156.9h.2M116.7 157.4h.2M116.7 154.8h.2M116.8 156.1h.2M116.8 155.5h.2M116.9 155.4h.2M116.9 156.4h.2M116.9 158.2h.2M117.0 154.5h.2M117.0 158.1h.2M117.1 156.1h.2M117.1 155.8h.2M117.2 156.5h.2M117.2 156.0h.2M117.2 156.1h.2M117.3 156.0h.2M117.3 155.8h.2M117.4 158.0h.2M117.4 157.9h.2M117.4 155.1h.2M117.5 157.5h.2M117.5 156.0h.2M117.6 154.7h.2M117.6 155.9h.2M117.6 157.4h.2M117.7 156.1h.2M117.7 156.3h.2M117.8 156.3h.2M117.8 155.7h.2M117.9 156.8h.2M117.9 155.9h.2M117.9 154.9h.2M118.0 156.5h.2M118.0 155.6h.2M118.1 154.7h.2M118.1 155.6h.2M118.1 156.6h.2M118.2 158.3h.2M118.2 157.5h.2M118.3 155.7h.2M118.3 156.3h.2M118.4 156.1h.2M118.4 152.7h.2M118.4 155.5h.2M118.5 156.6h.2M118.5 154.6h.2M118.6 154.6h.2M118.6 156.0h.2M118.6 155.5h.2M118.7 155.7h.2M118.7 156.2h.2M118.8 157.0h.2M118.8 154.8h.2M118.9 155.1h.2M118.9 156.8h.2M118.9 155.7h.2M119.0 156.7h.2M119.0 157.1h.2M119.1 155.5h.2M119.1 156.0h.2M119.1 156.0h.2M119.2 155.8h.2M119.2 155.4h.2M119.3 155.3h.2M119.3 156.7h.2M119.4 155.9h.2M119.4 155.3h.2M119.4 157.2h.2M119.5 155.7h.2M119.5 157.1h.2M119.6 156.0h.2M119.6 155.2h.2M119.6 155.7h.2M119.7 155.9h.2M119.7 155.9h.2M119.8 156.9h.2M119.8 154.8h.2M119.8 157.0h.2M119.9 157.7h.2M119.9 156.3h.2M120.0 156.7h.2M120.0 155.5h.2M120.1 156.2h.2M120.1 156.9h.2M120.1 157.0h.2M120.2 157.0h.2M120.2 157.5h.2M120.3 156.0h.2M120.3 154.3h.2M120.3 156.8h.2M120.4 156.7h.2M120.4 156.2h.2M120.5 156.1h.2M120.5 155.9h.2M120.6 154.6h.2M120.6 156.0h.2M120.6 155.9h.2M120.7 155.9h.2M120.7 156.9h.2M120.8 156.8h.2M120.8 158.0h.2M120.8 156.5h.2M120.9 156.6h.2M120.9 155.9h.2M121.0 154.8h.2M121.0 157.9h.2M121.1 155.1h.2M121.1 154.1h.2M121.1 155.8h.2M121.2 155.7h.2M121.2 154.1h.2M121.3 155.1h.2M121.3 155.3h.2M121.3 156.6h.2M121.4 156.3h.2M121.4 155.0h.2M121.5 154.8h.2M121.5 155.6h.2M121.5 154.4h.2M121.6 154.2h.2M121.6 157.5h.2M121.7 155.9h.2M121.7 156.1h.2M121.8 155.3h.2M121.8 153.2h.2M121.8 156.4h.2M121.9 156.4h.2M121.9 154.9h.2M122.0 156.5h.2M122.0 156.0h.2M122.0 154.5h.2M122.1 154.2h.2M122.1 154.0h.2M122.2 154.5h.2M122.2 155.8h.2M122.3 155.6h.2M122.3 154.3h.2M122.3 156.0h.2M122.4 154.8h.2M122.4 156.1h.2M122.5 154.6h.2M122.5 154.8h.2M122.5 156.7h.2M122.6 155.9h.2M122.6 156.0h.2M122.7 154.7h.2M122.7 155.8h.2M122.8 157.6h.2M122.8 155.5h.2M122.8 155.3h.2M122.9 156.7h.2M122.9 154.2h.2M123.0 154.4h.2M123.0 156.8h.2M123.0 155.4h.2M123.1 157.8h.2M123.1 156.3h.2M123.2 156.7h.2M123.2 155.6h.2M123.3 155.3h.2M123.3 155.2h.2M123.3 155.9h.2M123.4 155.9h.2M123.4 155.0h.2M123.5 155.9h.2M123.5 154.0h.2M123.5 155.5h.2M123.6 155.5h.2M123.6 154.8h.2M123.7 155.7h.2M123.7 154.4h.2M123.7 154.6h.2M123.8 155.1h.2M123.8 156.5h.2M123.9 155.5h.2M123.9 155.6h.2M124.0 155.1h.2M124.0 155.1h.2M124.0 155.5h.2M124.1 155.4h.2M124.1 155.4h.2M124.2 156.1h.2M124.2 155.5h.2M124.2 155.9h.2M124.3 155.3h.2M124.3 156.5h.2M124.4 153.6h.2M124.4 154.3h.2M124.5 155.0h.2M124.5 155.8h.2M124.5 154.8h.2M124.6 155.6h.2M124.6 154.3h.2M124.7 155.1h.2M124.7 155.3h.2M124.7 157.1h.2M124.8 156.0h.2M124.8 155.0h.2M124.9 156.4h.2M124.9 155.4h.2M125.0 154.4h.2M125.0 153.8h.2M125.0 155.7h.2M125.1 158.1h.2M125.1 155.2h.2M125.2 154.6h.2M125.2 156.7h.2M125.2 154.0h.2M125.3 155.3h.2M125.3 153.7h.2M125.4 155.2h.2M125.4 155.0h.2M125.5 156.1h.2M125.5 154.5h.2M125.5 154.9h.2M125.6 155.8h.2M125.6 154.6h.2M125.7 155.6h.2M125.7 153.6h.2M125.7 154.6h.2M125.8 155.1h.2M125.8 155.3h.2M125.9 153.4h.2M125.9 155.0h.2M125.9 154.6h.2M126.0 156.0h.2M126.0 154.4h.2M126.1 155.0h.2M126.1 155.8h.2M126.2 156.0h.2M126.2 154.1h.2M126.2 155.0h.2M126.3 154.5h.2M126.3 154.4h.2M126.4 153.6h.2M126.4 153.8h.2M126.4 155.4h.2M126.5 155.3h.2M126.5 156.9h.2M126.6 155.0h.2M126.6 154.8h.2M126.7 156.5h.2M126.7 155.0h.2M126.7 155.0h.2M126.8 155.1h.2M126.8 154.9h.2M126.9 156.1h.2M126.9 155.0h.2M126.9 153.0h.2M127.0 155.1h.2M127.0 155.5h.2M127.1 155.2h.2M127.1 153.6h.2M127.2 156.3h.2M127.2 153.2h.2M127.2 155.5h.2M127.3 154.5h.2M127.3 154.3h.2M127.4 155.7h.2M127.4 155.2h.2M127.4 154.2h.2M127.5 155.1h.2M127.5 156.4h.2M127.6 154.5h.2M127.6 156.0h.2M127.6 154.5h.2M127.7 155.0h.2M127.7 156.3h.2M127.8 154.1h.2M127.8 154.8h.2M127.9 153.8h.2M127.9 154.8h.2M127.9 155.5h.2M128.0 156.7h.2M128.0 154.9h.2M128.1 155.9h.2M128.1 155.4h.2M128.1 156.9h.2M128.2 156.6h.2M128.2 154.8h.2M128.3 154.6h.2M128.3 153.0h.2M128.4 153.7h.2M128.4 155.8h.2M128.4 154.0h.2M128.5 155.1h.2M128.5 156.5h.2M128.6 154.3h.2M128.6 155.6h.2M128.6 155.8h.2M128.7 155.8h.2M128.7 154.9h.2M128.8 155.2h.2M128.8 155.2h.2M128.9 154.8h.2M128.9 154.2h.2M128.9 155.4h.2M129.0 155.3h.2M129.0 154.7h.2M129.1 154.5h.2M129.1 154.2h.2M129.1 153.5h.2M129.2 157.1h.2M129.2 153.7h.2M129.3 154.4h.2M129.3 153.8h.2M129.4 155.6h.2M129.4 154.6h.2M129.4 153.4h.2M129.5 153.3h.2M129.5 153.6h.2M129.6 154.4h.2M129.6 155.5h.2M129.6 154.8h.2M129.7 156.5h.2M129.7 155.0h.2M129.8 155.9h.2M129.8 155.0h.2M129.8 155.0h.2M129.9 154.2h.2M129.9 154.1h.2M130.0 154.3h.2M130.0 154.3h.2M130.1 154.4h.2M130.1 153.2h.2M130.1 154.8h.2M130.2 155.1h.2M130.2 155.5h.2M130.3 154.5h.2M130.3 153.9h.2M130.3 153.0h.2M130.4 154.8h.2M130.4 153.8h.2M130.5 154.8h.2M130.5 153.8h.2M130.6 155.7h.2M130.6 154.2h.2M130.6 154.0h.2M130.7 156.2h.2M130.7 154.8h.2M130.8 155.4h.2M130.8 154.4h.2M130.8 154.2h.2M130.9 154.4h.2M130.9 153.9h.2M131.0 154.3h.2M131.0 154.0h.2M131.1 154.7h.2M131.1 153.9h.2M131.1 155.6h.2M131.2 153.8h.2M131.2 155.1h.2M131.3 154.7h.2M131.3 154.3h.2M131.3 154.2h.2M131.4 153.5h.2M131.4 154.8h.2M131.5 154.2h.2M131.5 155.5h.2M131.6 155.7h.2M131.6 153.0h.2M131.6 154.6h.2M131.7 153.8h.2M131.7 154.4h.2M131.8 155.6h.2M131.8 153.6h.2M131.8 153.7h.2M131.9 153.6h.2M131.9 153.0h.2M132.0 154.5h.2M132.0 154.3h.2M132.0 154.9h.2M132.1 154.7h.2M132.1 155.0h.2M132.2 155.1h.2M132.2 154.8h.2M132.3 154.2h.2M132.3 155.0h.2M132.3 154.9h.2M132.4 155.0h.2M132.4 155.6h.2M132.5 155.0h.2M132.5 154.5h.2M132.5 154.0h.2M132.6 153.4h.2M132.6 153.6h.2M132.7 154.4h.2M132.7 154.7h.2M132.8 154.5h.2M132.8 154.3h.2M132.8 155.3h.2M132.9 153.8h.2M132.9 154.3h.2M133.0 154.4h.2M133.0 155.1h.2M133.0 153.1h.2M133.1 152.8h.2M133.1 155.2h.2M133.2 152.7h.2M133.2 154.5h.2M133.3 153.6h.2M133.3 155.7h.2M133.3 154.1h.2M133.4 153.3h.2M133.4 154.2h.2M133.5 153.2h.2M133.5 154.0h.2M133.5 153.2h.2M133.6 152.4h.2M133.6 154.9h.2M133.7 154.0h.2M133.7 155.0h.2M133.8 155.8h.2M133.8 155.0h.2M133.8 153.7h.2M133.9 153.3h.2M133.9 153.5h.2M134.0 153.9h.2M134.0 154.2h.2M134.0 154.8h.2M134.1 154.1h.2M134.1 154.3h.2M134.2 156.0h.2M134.2 153.1h.2M134.2 154.5h.2M134.3 155.3h.2M134.3 153.6h.2M134.4 153.7h.2M134.4 152.4h.2M134.5 154.5h.2M134.5 154.8h.2M134.5 153.1h.2M134.6 154.3h.2M134.6 153.0h.2M134.7 153.5h.2M134.7 155.4h.2M134.7 155.0h.2M134.8 155.1h.2M134.8 152.8h.2M134.9 153.3h.2M134.9 153.4h.2M135.0 155.1h.2M135.0 153.7h.2M135.0 157.1h.2M135.1 153.9h.2M135.1 154.0h.2M135.2 152.9h.2M135.2 153.5h.2M135.2 154.8h.2M135.3 153.9h.2M135.3 154.9h.2M135.4 154.2h.2M135.4 154.5h.2M135.5 151.3h.2M135.5 154.5h.2M135.5 154.3h.2M135.6 153.8h.2M135.6 152.2h.2M135.7 154.7h.2M135.7 152.7h.2M135.7 153.0h.2M135.8 154.5h.2M135.8 154.1h.2M135.9 152.1h.2M135.9 155.5h.2M135.9 155.0h.2M136.0 155.6h.2M136.0 154.5h.2M136.1 153.7h.2M136.1 154.7h.2M136.2 153.4h.2M136.2 153.5h.2M136.2 153.2h.2M136.3 153.9h.2M136.3 153.8h.2M136.4 154.3h.2M136.4 152.7h.2M136.4 153.6h.2M136.5 152.7h.2M136.5 154.4h.2M136.6 153.6h.2M136.6 153.7h.2M136.7 154.6h.2M136.7 154.0h.2M136.7 155.1h.2M136.8 154.4h.2M136.8 151.7h.2M136.9 153.5h.2M136.9 154.8h.2M136.9 153.0h.2M137.0 152.6h.2M137.0 151.8h.2M137.1 153.0h.2M137.1 152.7h.2M137.2 153.3h.2M137.2 154.2h.2M137.2 153.3h.2M137.3 153.7h.2M137.3 154.6h.2M137.4 151.9h.2M137.4 153.6h.2M137.4 154.3h.2M137.5 153.8h.2M137.5 152.6h.2M137.6 153.6h.2M137.6 154.0h.2M137.7 152.3h.2M137.7 154.0h.2M137.7 152.7h.2M137.8 153.3h.2M137.8 153.8h.2M137.9 152.4h.2M137.9 152.7h.2M137.9 152.6h.2M138.0 153.3h.2M138.0 153.4h.2M138.1 156.1h.2M138.1 153.6h.2M138.1 153.5h.2M138.2 152.5h.2M138.2 151.2h.2M138.3 153.2h.2M138.3 151.1h.2M138.4 153.3h.2M138.4 152.2h.2M138.4 152.2h.2M138.5 154.7h.2M138.5 151.7h.2M138.6 154.1h.2M138.6 153.3h.2M138.6 153.9h.2M138.7 153.7h.2M138.7 154.1h.2M138.8 153.4h.2M138.8 151.8h.2M138.9 154.1h.2M138.9 152.2h.2M138.9 152.7h.2M139.0 152.4h.2M139.0 152.6h.2M139.1 152.3h.2M139.1 152.4h.2M139.1 153.9h.2M139.2 154.3h.2M139.2 152.1h.2M139.3 152.5h.2M139.3 151.6h.2M139.4 152.9h.2M139.4 153.1h.2M139.4 153.7h.2M139.5 154.5h.2M139.5 152.7h.2M139.6 151.6h.2M139.6 153.0h.2M139.6 152.2h.2M139.7 152.2h.2M139.7 154.2h.2M139.8 152.6h.2M139.8 153.8h.2M139.9 152.7h.2M139.9 152.3h.2M139.9 153.0h.2M140.0 152.9h.2M140.0 151.9h.2M140.1 151.1h.2M140.1 153.6h.2M140.1 153.1h.2M140.2 153.4h.2M140.2 153.6h.2M140.3 152.3h.2M140.3 153.2h.2M140.3 151.8h.2M140.4 151.7h.2M140.4 152.8h.2M140.5 153.5h.2M140.5 152.6h.2M140.6 152.7h.2M140.6 153.2h.2M140.6 151.6h.2M140.7 152.7h.2M140.7 153.5h.2M140.8 152.1h.2M140.8 153.8h.2M140.8 151.7h.2M140.9 152.7h.2M140.9 151.4h.2M141.0 152.5h.2M141.0 153.8h.2M141.1 153.1h.2M141.1 152.3h.2M141.1 152.9h.2M141.2 152.7h.2M141.2 152.1h.2M141.3 153.7h.2M141.3 152.9h.2M141.3 153.4h.2M141.4 152.4h.2M141.4 151.9h.2M141.5 152.5h.2M141.5 153.2h.2M141.6 152.8h.2M141.6 152.8h.2M141.6 152.1h.2M141.7 152.0h.2M141.7 152.1h.2M141.8 151.8h.2M141.8 153.1h.2M141.8 153.2h.2M141.9 153.5h.2M141.9 151.7h.2M142.0 152.2h.2M142.0 153.1h.2M142.0 151.7h.2M142.1 152.6h.2M142.1 152.7h.2M142.2 153.0h.2M142.2 152.1h.2M142.3 152.0h.2M142.3 152.0h.2M142.3 152.4h.2M142.4 152.4h.2M142.4 152.3h.2M142.5 152.5h.2M142.5 154.2h.2M142.5 152.5h.2M142.6 152.5h.2M142.6 151.9h.2M142.7 152.4h.2M142.7 152.3h.2M142.8 152.4h.2M142.8 152.8h.2M142.8 153.4h.2M142.9 152.6h.2M142.9 152.0h.2M143.0 151.9h.2M143.0 151.1h.2M143.0 150.8h.2M143.1 152.0h.2M143.1 151.8h.2M143.2 152.3h.2M143.2 151.9h.2M143.3 152.7h.2M143.3 152.3h.2M143.3 151.9h.2M143.4 151.4h.2M143.4 152.4h.2M143.5 152.3h.2M143.5 151.2h.2M143.5 152.0h.2M143.6 151.6h.2M143.6 151.1h.2M143.7 151.7h.2M143.7 152.1h.2M143.8 150.8h.2M143.8 152.0h.2M143.8 151.5h.2M143.9 152.4h.2M143.9 150.4h.2M144.0 152.1h.2M144.0 150.5h.2M144.0 152.0h.2M144.1 151.9h.2M144.1 152.7h.2M144.2 152.5h.2M144.2 151.6h.2M144.2 151.0h.2M144.3 152.1h.2M144.3 151.6h.2M144.4 150.9h.2M144.4 151.6h.2M144.5 152.0h.2M144.5 151.5h.2M144.5 151.6h.2M144.6 151.8h.2M144.6 150.9h.2M144.7 152.9h.2M144.7 150.3h.2M144.7 151.3h.2M144.8 152.3h.2M144.8 151.1h.2M144.9 151.4h.2M144.9 150.6h.2M145.0 150.8h.2M145.0 151.5h.2M145.0 150.9h.2M145.1 150.3h.2M145.1 150.2h.2M145.2 151.0h.2M145.2 151.3h.2M145.2 151.8h.2M145.3 151.0h.2M145.3 150.8h.2M145.4 151.1h.2M145.4 152.7h.2M145.5 151.5h.2M145.5 151.6h.2M145.5 151.1h.2M145.6 151.3h.2M145.6 151.2h.2M145.7 151.3h.2M145.7 150.6h.2M145.7 151.7h.2M145.8 151.0h.2M145.8 151.7h.2M145.9 150.6h.2M145.9 150.8h.2M146.0 150.9h.2M146.0 150.4h.2M146.0 150.6h.2M146.1 150.2h.2M146.1 152.0h.2M146.2 150.9h.2M146.2 151.5h.2M146.2 150.0h.2M146.3 150.6h.2M146.3 151.1h.2M146.4 150.3h.2M146.4 151.0h.2M146.4 150.8h.2M146.5 151.0h.2M146.5 150.1h.2M146.6 150.8h.2M146.6 149.9h.2M146.7 151.3h.2M146.7 150.7h.2M146.7 151.4h.2M146.8 150.1h.2M146.8 150.8h.2M146.9 151.4h.2M146.9 150.2h.2M146.9 150.1h.2M147.0 150.7h.2M147.0 151.1h.2M147.1 150.4h.2M147.1 149.5h.2M147.2 151.2h.2M147.2 151.8h.2M147.2 150.6h.2M147.3 151.5h.2M147.3 151.7h.2M147.4 150.4h.2M147.4 150.2h.2M147.4 149.9h.2M147.5 150.2h.2M147.5 150.0h.2M147.6 150.4h.2M147.6 149.4h.2M147.7 150.6h.2M147.7 150.8h.2M147.7 149.3h.2M147.8 149.9h.2M147.8 150.4h.2M147.9 150.2h.2M147.9 150.7h.2M147.9 150.9h.2M148.0 151.5h.2M148.0 151.4h.2M148.1 149.9h.2M148.1 150.5h.2M148.1 150.7h.2M148.2 150.6h.2M148.2 149.8h.2M148.3 149.2h.2M148.3 150.2h.2M148.4 150.8h.2M148.4 150.5h.2M148.4 150.3h.2M148.5 149.7h.2M148.5 150.0h.2M148.6 149.6h.2M148.6 150.9h.2M148.6 149.8h.2M148.7 148.9h.2M148.7 149.7h.2M148.8 150.2h.2M148.8 149.7h.2M148.9 149.3h.2M148.9 149.7h.2M148.9 149.2h.2M149.0 150.9h.2M149.0 149.7h.2M149.1 149.7h.2M149.1 149.6h.2M149.1 149.8h.2M149.2 149.9h.2M149.2 149.6h.2M149.3 150.6h.2M149.3 150.1h.2M149.4 149.9h.2M149.4 149.5h.2M149.4 149.7h.2M149.5 150.1h.2M149.5 149.1h.2M149.6 149.5h.2M149.6 149.6h.2M149.6 149.3h.2M149.7 149.5h.2M149.7 148.8h.2M149.8 149.7h.2M149.8 150.2h.2M149.9 149.3h.2M149.9 149.2h.2M149.9 149.0h.2M150.0 149.1h.2M150.0 149.5h.2M150.1 148.5h.2M150.1 149.8h.2M150.1 149.8h.2M150.2 148.9h.2M150.2 149.8h.2M150.3 148.6h.2M150.3 149.9h.2M150.3 149.2h.2M150.4 149.2h.2M150.4 149.6h.2M150.5 150.4h.2M150.5 149.1h.2M150.6 149.0h.2M150.6 149.2h.2M150.6 149.5h.2M150.7 150.0h.2M150.7 149.5h.2M150.8 150.2h.2M150.8 148.1h.2M150.8 149.3h.2M150.9 148.3h.2M150.9 149.1h.2M151.0 148.1h.2M151.0 149.4h.2M151.1 149.4h.2M151.1 149.5h.2M151.1 148.9h.2M151.2 149.5h.2M151.2 149.8h.2M151.3 148.0h.2M151.3 148.1h.2M151.3 149.3h.2M151.4 148.3h.2M151.4 150.2h.2M151.5 148.7h.2M151.5 147.6h.2M151.6 147.6h.2M151.6 148.3h.2M151.6 148.1h.2M151.7 148.6h.2M151.7 147.8h.2M151.8 148.9h.2M151.8 150.0h.2M151.8 148.0h.2M151.9 148.5h.2M151.9 148.6h.2M152.0 148.2h.2M152.0 148.2h.2M152.1 149.3h.2M152.1 148.4h.2M152.1 148.9h.2M152.2 148.6h.2M152.2 147.8h.2M152.3 148.5h.2M152.3 148.8h.2M152.3 148.3h.2M152.4 148.4h.2M152.4 148.3h.2M152.5 147.8h.2M152.5 148.3h.2M152.5 148.5h.2M152.6 148.4h.2M152.6 148.8h.2M152.7 147.4h.2M152.7 147.8h.2M152.8 149.2h.2M152.8 148.2h.2M152.8 147.5h.2M152.9 149.0h.2M152.9 148.3h.2M153.0 147.1h.2M153.0 147.8h.2M153.0 147.6h.2M153.1 148.6h.2M153.1 147.1h.2M153.2 147.7h.2M153.2 147.2h.2M153.3 148.5h.2M153.3 148.2h.2M153.3 148.4h.2M153.4 147.7h.2M153.4 148.4h.2M153.5 147.8h.2M153.5 147.0h.2M153.5 147.4h.2M153.6 148.1h.2M153.6 147.5h.2M153.7 148.3h.2M153.7 147.3h.2M153.8 148.3h.2M153.8 147.3h.2M153.8 147.1h.2M153.9 148.3h.2M153.9 147.1h.2M154.0 146.9h.2M154.0 146.7h.2M154.0 146.8h.2M154.1 147.2h.2M154.1 147.1h.2M154.2 147.8h.2M154.2 146.4h.2M154.2 147.4h.2M154.3 146.9h.2M154.3 147.0h.2M154.4 147.3h.2M154.4 147.9h.2M154.5 147.0h.2M154.5 147.2h.2M154.5 147.8h.2M154.6 146.4h.2M154.6 147.0h.2M154.7 147.4h.2M154.7 147.5h.2M154.7 146.5h.2M154.8 147.3h.2M154.8 147.3h.2M154.9 148.1h.2M154.9 147.2h.2M155.0 147.4h.2M155.0 146.6h.2M155.0 146.3h.2M155.1 146.4h.2M155.1 147.7h.2M155.2 146.8h.2M155.2 146.2h.2M155.2 147.0h.2M155.3 147.0h.2M155.3 146.9h.2M155.4 147.6h.2M155.4 147.0h.2M155.5 146.9h.2M155.5 146.7h.2M155.5 146.7h.2M155.6 146.7h.2M155.6 146.9h.2M155.7 145.7h.2M155.7 146.0h.2M155.7 146.3h.2M155.8 146.5h.2M155.8 145.9h.2M155.9 147.0h.2M155.9 146.2h.2M156.0 146.2h.2M156.0 146.6h.2M156.0 147.3h.2M156.1 147.2h.2M156.1 145.8h.2M156.2 147.0h.2M156.2 146.1h.2M156.2 146.5h.2M156.3 146.6h.2M156.3 146.2h.2M156.4 145.7h.2M156.4 145.9h.2M156.4 145.6h.2M156.5 146.7h.2M156.5 146.5h.2M156.6 145.6h.2M156.6 146.2h.2M156.7 146.3h.2M156.7 146.8h.2M156.7 146.3h.2M156.8 146.3h.2M156.8 145.8h.2M156.9 146.1h.2M156.9 146.8h.2M156.9 146.9h.2M157.0 145.5h.2M157.0 146.6h.2M157.1 146.6h.2M157.1 146.5h.2M157.2 146.1h.2M157.2 145.7h.2M157.2 145.8h.2M157.3 146.1h.2M157.3 146.0h.2M157.4 146.1h.2M157.4 145.9h.2M157.4 146.0h.2M157.5 145.6h.2M157.5 146.1h.2M157.6 145.8h.2M157.6 145.5h.2M157.7 146.0h.2M157.7 145.8h.2M157.7 145.3h.2M157.8 145.6h.2M157.8 145.6h.2M157.9 145.6h.2M157.9 145.4h.2M157.9 146.6h.2M158.0 145.3h.2M158.0 145.5h.2M158.1 144.6h.2M158.1 146.0h.2M158.2 144.8h.2M158.2 145.3h.2M158.2 145.4h.2M158.3 145.2h.2M158.3 145.2h.2M158.4 145.7h.2M158.4 145.0h.2M158.4 144.9h.2M158.5 145.6h.2M158.5 144.8h.2M158.6 145.0h.2M158.6 144.8h.2M158.6 144.8h.2M158.7 144.9h.2M158.7 144.2h.2M158.8 144.9h.2M158.8 145.5h.2M158.9 144.5h.2M158.9 145.5h.2M158.9 144.8h.2M159.0 144.9h.2M159.0 145.7h.2M159.1 145.4h.2M159.1 143.8h.2M159.1 145.0h.2M159.2 145.6h.2M159.2 145.1h.2M159.3 144.8h.2M159.3 144.2h.2M159.4 145.2h.2M159.4 144.6h.2M159.4 144.6h.2M159.5 144.6h.2M159.5 144.1h.2M159.6 144.5h.2M159.6 145.3h.2M159.6 144.4h.2M159.7 144.7h.2M159.7 144.5h.2M159.8 144.1h.2M159.8 145.2h.2M159.9 144.3h.2M159.9 144.2h.2M159.9 144.7h.2M160.0 145.0h.2M160.0 143.7h.2M160.1 143.8h.2M160.1 144.7h.2M160.1 144.3h.2M160.2 144.4h.2M160.2 144.1h.2M160.3 144.5h.2M160.3 143.7h.2M160.3 143.9h.2M160.4 143.5h.2M160.4 143.9h.2M160.5 143.2h.2M160.5 144.2h.2M160.6 143.5h.2M160.6 143.5h.2M160.6 143.7h.2M160.7 143.5h.2M160.7 143.8h.2M160.8 144.1h.2M160.8 143.7h.2M160.8 143.3h.2M160.9 144.4h.2M160.9 142.9h.2M161.0 144.0h.2M161.0 143.2h.2M161.1 143.9h.2M161.1 143.2h.2M161.1 143.7h.2M161.2 143.3h.2M161.2 143.3h.2M161.3 143.3h.2M161.3 143.1h.2M161.3 143.3h.2M161.4 143.3h.2M161.4 142.7h.2M161.5 143.3h.2M161.5 143.2h.2M161.6 142.9h.2M161.6 143.4h.2M161.6 143.2h.2M161.7 143.0h.2M161.7 143.0h.2M161.8 143.0h.2M161.8 143.1h.2M161.8 142.8h.2M161.9 142.7h.2M161.9 143.4h.2M162.0 143.1h.2M162.0 142.8h.2M162.1 142.7h.2M162.1 142.5h.2M162.1 142.6h.2M162.2 142.9h.2M162.2 143.0h.2M162.3 142.5h.2M162.3 142.9h.2M162.3 142.9h.2M162.4 142.3h.2M162.4 142.8h.2M162.5 142.7h.2M162.5 142.4h.2M162.5 143.2h.2M162.6 141.6h.2M162.6 141.9h.2M162.7 141.7h.2M162.7 142.4h.2M162.8 142.3h.2M162.8 142.0h.2M162.8 142.2h.2M162.9 142.1h.2M162.9 142.4h.2M163.0 142.5h.2M163.0 141.7h.2M163.0 142.0h.2M163.1 142.1h.2M163.1 142.3h.2M163.2 141.3h.2M163.2 142.2h.2M163.3 142.6h.2M163.3 141.8h.2M163.3 142.7h.2M163.4 141.5h.2M163.4 142.1h.2M163.5 141.9h.2M163.5 141.8h.2M163.5 141.9h.2M163.6 142.2h.2M163.6 141.6h.2M163.7 141.7h.2M163.7 142.0h.2M163.8 141.5h.2M163.8 141.5h.2M163.8 141.9h.2M163.9 141.6h.2M163.9 142.1h.2M164.0 142.4h.2M164.0 141.3h.2M164.0 141.5h.2M164.1 141.1h.2M164.1 141.4h.2M164.2 141.3h.2M164.2 141.3h.2M164.3 141.2h.2M164.3 141.2h.2M164.3 141.7h.2M164.4 141.2h.2M164.4 141.9h.2M164.5 141.2h.2M164.5 140.6h.2M164.5 140.6h.2M164.6 140.7h.2M164.6 141.4h.2M164.7 140.9h.2M164.7 141.4h.2M164.7 140.8h.2M164.8 141.1h.2M164.8 141.2h.2M164.9 140.9h.2M164.9 140.7h.2M165.0 141.4h.2M165.0 141.0h.2M165.0 140.8h.2M165.1 140.8h.2M165.1 141.1h.2M165.2 140.9h.2M165.2 141.0h.2M165.2 140.5h.2M165.3 140.6h.2M165.3 140.3h.2M165.4 140.9h.2M165.4 140.9h.2M165.5 140.6h.2M165.5 140.3h.2M165.5 140.5h.2M165.6 140.6h.2M165.6 141.0h.2M165.7 140.6h.2M165.7 140.4h.2M165.7 140.1h.2M165.8 140.8h.2M165.8 140.3h.2M165.9 140.3h.2M165.9 139.7h.2M166.0 140.0h.2M166.0 140.7h.2M166.0 140.4h.2M166.1 140.3h.2M166.1 140.4h.2M166.2 140.3h.2M166.2 140.5h.2M166.2 140.2h.2M166.3 140.3h.2M166.3 140.1h.2M166.4 140.2h.2M166.4 139.9h.2M166.4 140.0h.2M166.5 139.9h.2M166.5 140.0h.2M166.6 140.2h.2M166.6 139.9h.2M166.7 139.5h.2M166.7 139.8h.2M166.7 139.7h.2M166.8 139.6h.2M166.8 139.7h.2M166.9 139.8h.2M166.9 139.7h.2M166.9 139.8h.2M167.0 139.8h.2M167.0 139.5h.2M167.1 139.6h.2M167.1 139.7h.2M167.2 139.4h.2M167.2 139.2h.2M167.2 139.4h.2M167.3 139.5h.2M167.3 138.8h.2M167.4 139.2h.2M167.4 139.4h.2M167.4 139.0h.2M167.5 138.8h.2M167.5 139.5h.2M167.6 139.4h.2M167.6 139.1h.2M167.7 138.9h.2M167.7 139.3h.2M167.7 138.7h.2M167.8 138.9h.2M167.8 138.5h.2M167.9 138.8h.2M167.9 138.7h.2M167.9 138.6h.2M168.0 138.9h.2M168.0 139.0h.2M168.1 138.8h.2M168.1 139.0h.2M168.2 138.9h.2M168.2 138.6h.2M168.2 138.5h.2M168.3 138.3h.2M168.3 138.2h.2M168.4 138.6h.2M168.4 138.7h.2M168.4 138.0h.2M168.5 138.3h.2M168.5 138.3h.2M168.6 138.6h.2M168.6 138.5h.2M168.6 138.0h.2M168.7 138.3h.2M168.7 137.8h.2M168.8 138.3h.2M168.8 137.7h.2M168.9 138.3h.2M168.9 138.3h.2M168.9 138.0h.2M169.0 138.1h.2M169.0 138.0h.2M169.1 137.7h.2M169.1 137.6h.2M169.1 138.0h.2M169.2 137.5h.2M169.2 137.4h.2M169.3 137.4h.2M169.3 137.6h.2M169.4 137.7h.2M169.4 137.5h.2M169.4 137.4h.2M169.5 137.6h.2M169.5 137.7h.2M169.6 137.3h.2M169.6 137.3h.2M169.6 137.3h.2M169.7 137.5h.2M169.7 137.6h.2M169.8 137.3h.2M169.8 137.1h.2M169.9 136.9h.2M169.9 137.2h.2M169.9 137.4h.2M170.0 137.2h.2M170.0 137.1h.2M170.1 136.8h.2M170.1 137.2h.2M170.1 137.0h.2M170.2 137.0h.2M170.2 136.8h.2M170.3 136.8h.2M170.3 136.9h.2M170.4 136.5h.2M170.4 136.4h.2M170.4 136.4h.2M170.5 136.4h.2M170.5 136.3h.2M170.6 136.4h.2M170.6 136.4h.2M170.6 136.7h.2M170.7 136.3h.2M170.7 136.2h.2M170.8 136.4h.2M170.8 136.0h.2M170.8 136.2h.2M170.9 136.3h.2M170.9 135.9h.2M171.0 136.2h.2M171.0 135.9h.2M171.1 136.2h.2M171.1 136.2h.2M171.1 135.8h.2M171.2 136.0h.2M171.2 135.9h.2M171.3 135.8h.2M171.3 135.7h.2M171.3 135.4h.2M171.4 135.7h.2M171.4 135.6h.2M171.5 135.6h.2M171.5 135.2h.2M171.6 135.5h.2M171.6 135.6h.2M171.6 135.5h.2M171.7 135.1h.2M171.7 135.3h.2M171.8 134.9h.2M171.8 135.4h.2M171.8 135.1h.2M171.9 135.2h.2M171.9 135.1h.2M172.0 135.0h.2M172.0 134.9h.2M172.1 135.0h.2M172.1 134.9h.2M172.1 135.0h.2M172.2 134.9h.2M172.2 134.7h.2M172.3 134.6h.2M172.3 134.7h.2M172.3 134.4h.2M172.4 134.8h.2M172.4 134.8h.2M172.5 134.4h.2M172.5 134.5h.2M172.5 134.6h.2M172.6 134.2h.2M172.6 134.4h.2M172.7 134.0h.2M172.7 134.6h.2M172.8 134.4h.2M172.8 134.1h.2M172.8 134.0h.2M172.9 133.9h.2M172.9 134.2h.2M173.0 134.1h.2M173.0 133.9h.2M173.0 133.8h.2M173.1 134.0h.2M173.1 133.9h.2M173.2 134.1h.2M173.2 133.6h.2M173.3 133.9h.2M173.3 133.6h.2M173.3 133.6h.2M173.4 133.6h.2M173.4 133.6h.2M173.5 133.4h.2M173.5 133.4h.2M173.5 133.6h.2M173.6 133.4h.2M173.6 133.3h.2M173.7 133.5h.2M173.7 133.2h.2M173.8 133.1h.2M173.8 133.0h.2M173.8 133.2h.2M173.9 133.6h.2M173.9 133.0h.2M174.0 132.9h.2M174.0 133.0h.2M174.0 132.9h.2M174.1 133.0h.2M174.1 133.0h.2M174.2 132.7h.2M174.2 132.6h.2M174.3 132.7h.2M174.3 132.8h.2M174.3 132.9h.2M174.4 132.5h.2M174.4 132.5h.2M174.5 132.3h.2M174.5 132.5h.2M174.5 132.5h.2M174.6 132.5h.2M174.6 132.2h.2M174.7 132.0h.2M174.7 132.4h.2M174.7 132.3h.2M174.8 132.2h.2M174.8 132.0h.2M174.9 132.2h.2M174.9 131.9h.2M175.0 131.9h.2M175.0 131.9h.2M175.0 131.8h.2M175.1 132.0h.2M175.1 131.9h.2M175.2 131.6h.2M175.2 131.7h.2M175.2 131.8h.2M175.3 131.7h.2M175.3 131.7h.2M175.4 131.4h.2M175.4 131.6h.2M175.5 131.4h.2M175.5 131.3h.2M175.5 131.4h.2M175.6 131.1h.2M175.6 131.3h.2M175.7 131.2h.2M175.7 131.1h.2M175.7 131.2h.2M175.8 131.3h.2M175.8 131.0h.2M175.9 131.1h.2M175.9 131.1h.2M176.0 131.1h.2M176.0 130.8h.2M176.0 130.6h.2M176.1 130.8h.2M176.1 130.8h.2M176.2 130.7h.2M176.2 130.6h.2M176.2 130.6h.2M176.3 130.7h.2M176.3 130.5h.2M176.4 130.6h.2M176.4 130.6h.2M176.5 130.5h.2M176.5 130.5h.2M176.5 130.4h.2M176.6 130.3h.2M176.6 130.2h.2M176.7 130.3h.2M176.7 130.2h.2M176.7 130.2h.2M176.8 130.1h.2M176.8 129.9h.2M176.9 130.0h.2M176.9 130.1h.2M176.9 129.8h.2M177.0 129.8h.2M177.0 129.8h.2M177.1 130.0h.2M177.1 129.8h.2M177.2 129.7h.2M177.2 129.7h.2M177.2 129.6h.2M177.3 129.4h.2M177.3 129.6h.2M177.4 129.5h.2M177.4 129.4h.2M177.4 129.5h.2M177.5 129.4h.2M177.5 129.3h.2M177.6 129.3h.2M177.6 129.2h.2M177.7 129.1h.2M177.7 129.3h.2M177.7 129.2h.2M177.8 129.1h.2M177.8 129.0h.2M177.9 128.9h.2M177.9 128.8h.2M177.9 128.7h.2M178.0 128.6h.2M178.0 128.9h.2M178.1 128.8h.2M178.1 128.5h.2M178.2 128.6h.2M178.2 128.6h.2M178.2 128.6h.2M178.3 128.6h.2M178.3 128.3h.2M178.4 128.4h.2M178.4 128.5h.2M178.4 128.3h.2M178.5 128.3h.2M178.5 128.2h.2M178.6 128.2h.2M178.6 128.2h.2M178.6 128.2h.2M178.7 128.1h.2M178.7 128.1h.2M178.8 128.1h.2M178.8 128.0h.2M178.9 128.1h.2M178.9 127.9h.2M178.9 127.9h.2M179.0 127.7h.2M179.0 127.7h.2M179.1 127.8h.2M179.1 127.7h.2M179.1 127.6h.2M179.2 127.7h.2M179.2 127.4h.2M179.3 127.4h.2M179.3 127.4h.2M179.4 127.5h.2M179.4 127.3h.2M179.4 127.4h.2M179.5 127.5h.2M179.5 127.3h.2M179.6 127.1h.2M179.6 127.2h.2M179.6 127.2h.2M179.7 127.0h.2M179.7 127.0h.2M179.8 127.0h.2M179.8 126.9h.2M179.9 127.0h.2M179.9 126.9h.2M179.9 127.0h.2M180.0 126.7h.2M180.0 126.8h.2M180.1 126.6h.2M180.1 126.8h.2M180.1 126.7h.2M180.2 126.5h.2M180.2 126.7h.2M180.3 126.5h.2M180.3 126.5h.2M180.4 126.2h.2M180.4 126.4h.2M180.4 126.3h.2M180.5 126.3h.2M180.5 126.3h.2M180.6 126.3h.2M180.6 126.2h.2M180.6 126.2h.2M180.7 126.1h.2M180.7 126.2h.2M180.8 126.0h.2M180.8 126.0h.2M180.8 126.0h.2M180.9 125.9h.2M180.9 125.8h.2M181.0 126.0h.2M181.0 125.7h.2M181.1 125.8h.2M181.1 125.7h.2M181.1 125.6h.2M181.2 125.6h.2M181.2 125.7h.2M181.3 125.5h.2M181.3 125.6h.2M181.3 125.4h.2M181.4 125.4h.2M181.4 125.2h.2M181.5 125.4h.2M181.5 125.3h.2M181.6 125.2h.2M181.6 125.3h.2M181.6 125.2h.2M181.7 125.3h.2M181.7 125.2h.2M181.8 125.2h.2M181.8 125.0h.2M181.8 125.1h.2M181.9 124.9h.2M181.9 124.9h.2M182.0 125.1h.2M182.0 124.8h.2M182.1 124.7h.2M182.1 124.7h.2M182.1 124.6h.2M182.2 124.7h.2M182.2 124.6h.2M182.3 124.6h.2M182.3 124.5h.2M182.3 124.4h.2M182.4 124.3h.2M182.4 124.3h.2M182.5 124.4h.2M182.5 124.5h.2M182.6 124.4h.2M182.6 124.2h.2M182.6 124.3h.2M182.7 124.0h.2M182.7 124.2h.2M182.8 124.1h.2M182.8 124.0h.2M182.8 124.0h.2M182.9 124.0h.2M182.9 123.8h.2M183.0 123.8h.2M183.0 123.7h.2M183.0 123.7h.2M183.1 123.7h.2M183.1 123.8h.2M183.2 123.7h.2M183.2 123.7h.2M183.3 123.6h.2M183.3 123.5h.2M183.3 123.5h.2M183.4 123.4h.2M183.4 123.4h.2M183.5 123.3h.2M183.5 123.3h.2M183.5 123.4h.2M183.6 123.3h.2M183.6 123.2h.2M183.7 123.1h.2M183.7 123.2h.2M183.8 123.2h.2M183.8 123.0h.2M183.8 123.0h.2M183.9 122.9h.2M183.9 122.9h.2M184.0 122.9h.2M184.0 122.9h.2M184.0 122.8h.2M184.1 122.8h.2M184.1 122.7h.2M184.2 122.8h.2M184.2 122.6h.2M184.3 122.6h.2M184.3 122.6h.2M184.3 122.5h.2M184.4 122.5h.2M184.4 122.4h.2M184.5 122.4h.2M184.5 122.4h.2M184.5 122.3h.2M184.6 122.3h.2M184.6 122.3h.2M184.7 122.2h.2M184.7 122.1h.2M184.7 122.2h.2M184.8 122.1h.2M184.8 122.1h.2M184.9 122.0h.2M184.9 122.0h.2M185.0 121.8h.2M185.0 121.9h.2M185.0 121.8h.2M185.1 121.7h.2M185.1 121.7h.2M185.2 121.7h.2M185.2 121.6h.2M185.2 121.6h.2M185.3 121.5h.2M185.3 121.6h.2M185.4 121.5h.2M185.4 121.4h.2M185.5 121.4h.2M185.5 121.3h.2M185.5 121.3h.2M185.6 121.3h.2M185.6 121.2h.2M185.7 121.2h.2M185.7 121.2h.2M185.7 121.1h.2M185.8 121.2h.2M185.8 121.1h.2M185.9 121.0h.2M185.9 121.1h.2M186.0 120.9h.2M186.0 120.9h.2M186.0 120.8h.2M186.1 120.8h.2M186.1 120.8h.2M186.2 120.8h.2M186.2 120.7h.2M186.2 120.7h.2M186.3 120.6h.2M186.3 120.6h.2M186.4 120.5h.2M186.4 120.4h.2M186.5 120.4h.2M186.5 120.4h.2M186.5 120.4h.2M186.6 120.3h.2M186.6 120.2h.2M186.7 120.1h.2M186.7 120.2h.2M186.7 120.2h.2M186.8 120.1h.2M186.8 120.1h.2M186.9 120.0h.2M186.9 120.0h.2M186.9 120.0h.2M187.0 119.9h.2M187.0 119.8h.2M187.1 119.8h.2M187.1 119.7h.2M187.2 119.7h.2M187.2 119.7h.2M187.2 119.6h.2M187.3 119.6h.2M187.3 119.6h.2M187.4 119.6h.2M187.4 119.5h.2M187.4 119.5h.2M187.5 119.4h.2M187.5 119.4h.2M187.6 119.4h.2M187.6 119.3h.2M187.7 119.3h.2M187.7 119.2h.2M187.7 119.2h.2M187.8 119.1h.2M187.8 119.1h.2M187.9 119.0h.2M187.9 119.0h.2M187.9 119.0h.2M188.0 119.0h.2M188.0 118.8h.2M188.1 118.7h.2M188.1 118.8h.2M188.2 118.7h.2M188.2 118.6h.2M188.2 118.6h.2M188.3 118.6h.2M188.3 118.6h.2M188.4 118.5h.2M188.4 118.5h.2M188.4 118.5h.2M188.5 118.4h.2M188.5 118.3h.2M188.6 118.3h.2M188.6 118.3h.2M188.7 118.2h.2M188.7 118.1h.2M188.7 118.1h.2M188.8 118.1h.2M188.8 118.1h.2M188.9 118.0h.2M188.9 117.9h.2M188.9 117.9h.2M189.0 117.9h.2M189.0 117.9h.2M189.1 117.9h.2M189.1 117.8h.2M189.1 117.7h.2M189.2 117.6h.2M189.2 117.7h.2M189.3 117.6h.2M189.3 117.5h.2M189.4 117.5h.2M189.4 117.5h.2M189.4 117.4h.2M189.5 117.4h.2M189.5 117.3h.2M189.6 117.3h.2M189.6 117.2h.2M189.6 117.2h.2M189.7 117.2h.2M189.7 117.2h.2M189.8 117.1h.2M189.8 117.1h.2M189.9 117.0h.2M189.9 116.9h.2M189.9 116.9h.2M190.0 117.0h.2M190.0 116.8h.2M190.1 116.8h.2M190.1 116.7h.2M190.1 116.7h.2M190.2 116.7h.2M190.2 116.6h.2M190.3 116.6h.2M190.3 116.6h.2M190.4 116.5h.2M190.4 116.5h.2M190.4 116.4h.2M190.5 116.4h.2M190.5 116.3h.2M190.6 116.3h.2M190.6 116.2h.2M190.6 116.2h.2M190.7 116.2h.2M190.7 116.1h.2M190.8 116.1h.2M190.8 116.0h.2M190.8 116.0h.2M190.9 116.0h.2M190.9 115.9h.2M191.0 115.9h.2M191.0 115.8h.2M191.1 115.8h.2M191.1 115.8h.2M191.1 115.7h.2M191.2 115.7h.2M191.2 115.6h.2M191.3 115.6h.2M191.3 115.6h.2M191.3 115.5h.2M191.4 115.4h.2M191.4 115.4h.2M191.5 115.3h.2M191.5 115.3h.2M191.6 115.3h.2M191.6 115.3h.2M191.6 115.2h.2M191.7 115.2h.2M191.7 115.1h.2M191.8 115.1h.2M191.8 115.0h.2M191.8 115.0h.2M191.9 115.0h.2M191.9 114.9h.2M192.0 114.8h.2M192.0 114.8h.2M192.1 114.8h.2M192.1 114.7h.2M192.1 114.7h.2M192.2 114.6h.2M192.2 114.5h.2M192.3 114.6h.2M192.3 114.5h.2M192.3 114.4h.2M192.4 114.5h.2M192.4 114.4h.2M192.5 114.4h.2M192.5 114.3h.2M192.6 114.2h.2M192.6 114.2h.2M192.6 114.2h.2M192.7 114.1h.2M192.7 114.1h.2M192.8 114.0h.2M192.8 114.0h.2M192.8 113.9h.2M192.9 113.9h.2M192.9 113.9h.2M193.0 113.8h.2M193.0 113.8h.2M193.0 113.7h.2M193.1 113.7h.2M193.1 113.7h.2M193.2 113.6h.2M193.2 113.5h.2M193.3 113.5h.2M193.3 113.4h.2M193.3 113.4h.2M193.4 113.4h.2M193.4 113.4h.2M193.5 113.3h.2M193.5 113.3h.2M193.5 113.2h.2M193.6 113.2h.2M193.6 113.1h.2M193.7 113.0h.2M193.7 113.0h.2M193.8 113.0h.2M193.8 112.9h.2M193.8 112.9h.2M193.9 112.9h.2M193.9 112.8h.2M194.0 112.8h.2M194.0 112.7h.2M194.0 112.7h.2M194.1 112.6h.2M194.1 112.6h.2M194.2 112.5h.2M194.2 112.5h.2M194.3 112.4h.2M194.3 112.4h.2M194.3 112.4h.2M194.4 112.3h.2M194.4 112.3h.2M194.5 112.3h.2M194.5 112.2h.2M194.5 112.2h.2M194.6 112.1h.2M194.6 112.1h.2M194.7 112.0h.2M194.7 112.0h.2M194.8 111.9h.2M194.8 111.9h.2M194.8 111.8h.2M194.9 111.8h.2M194.9 111.8h.2M195.0 111.7h.2M195.0 111.7h.2M195.0 111.6h.2M195.1 111.6h.2M195.1 111.6h.2M195.2 111.5h.2M195.2 111.4h.2M195.2 111.4h.2M195.3 111.4h.2M195.3 111.3h.2M195.4 111.3h.2M195.4 111.2h.2M195.5 111.2h.2M195.5 111.1h.2M195.5 111.1h.2M195.6 111.1h.2M195.6 111.0h.2M195.7 110.9h.2M195.7 110.9h.2M195.7 110.9h.2M195.8 110.8h.2M195.8 110.8h.2M195.9 110.7h.2M195.9 110.7h.2M196.0 110.7h.2M196.0 110.6h.2M196.0 110.5h.2M196.1 110.5h.2M196.1 110.5h.2M196.2 110.4h.2M196.2 110.4h.2M196.2 110.3h.2M196.3 110.3h.2M196.3 110.2h.2M196.4 110.2h.2M196.4 110.2h.2M196.5 110.1h.2M196.5 110.1h.2M196.5 110.0h.2M196.6 110.0h.2M196.6 109.9h.2M196.7 109.9h.2M196.7 109.8h.2M196.7 109.8h.2M196.8 109.8h.2M196.8 109.7h.2M196.9 109.7h.2M196.9 109.6h.2M196.9 109.5h.2M197.0 109.5h.2M197.0 109.5h.2M197.1 109.4h.2M197.1 109.4h.2M197.2 109.3h.2M197.2 109.3h.2M197.2 109.2h.2M197.3 109.2h.2M197.3 109.1h.2M197.4 109.1h.2M197.4 109.0h.2M197.4 109.0h.2M197.5 108.9h.2M197.5 108.9h.2M197.6 108.9h.2M197.6 108.8h.2M197.7 108.8h.2M197.7 108.7h.2M197.7 108.7h.2M197.8 108.6h.2M197.8 108.6h.2M197.9 108.6h.2M197.9 108.5h.2M197.9 108.4h.2M198.0 108.4h.2M198.0 108.4h.2M198.1 108.3h.2M198.1 108.3h.2M198.2 108.2h.2M198.2 108.2h.2M198.2 108.2h.2M198.3 108.1h.2M198.3 108.0h.2M198.4 108.0h.2M198.4 108.0h.2M198.4 107.9h.2M198.5 107.9h.2M198.5 107.8h.2M198.6 107.8h.2M198.6 107.7h.2M198.7 107.7h.2M198.7 107.6h.2M198.7 107.6h.2M198.8 107.6h.2M198.8 107.5h.2M198.9 107.4h.2M198.9 107.4h.2M198.9 107.3h.2M199.0 107.3h.2M199.0 107.3h.2M199.1 107.2h.2M199.1 107.2h.2M199.1 107.1h.2M199.2 107.1h.2M199.2 107.0h.2M199.3 107.0h.2M199.3 106.9h.2M199.4 106.9h.2M199.4 106.9h.2M199.4 106.8h.2M199.5 106.8h.2M199.5 106.7h.2M199.6 106.7h.2M199.6 106.6h.2M199.6 106.6h.2M199.7 106.5h.2M199.7 106.5h.2M199.8 106.4h.2M199.8 106.4h.2M199.9 106.3h.2M199.9 106.3h.2M199.9 106.2h.2M200.0 106.2h.2M200.0 106.1h.2M200.1 106.1h.2M200.1 106.1h.2M200.1 106.0h.2M200.2 105.9h.2M200.2 105.9h.2M200.3 105.9h.2M200.3 105.8h.2M200.4 105.8h.2M200.4 105.7h.2M200.4 105.7h.2M200.5 105.7h.2M200.5 105.6h.2M200.6 105.6h.2M200.6 105.5h.2M200.6 105.4h.2M200.7 105.4h.2M200.7 105.4h.2M200.8 105.3h.2M200.8 105.3h.2M200.9 105.2h.2M200.9 105.2h.2M200.9 105.1h.2M201.0 105.1h.2M201.0 105.0h.2M201.1 105.0h.2M201.1 104.9h.2M201.1 104.9h.2M201.2 104.8h.2M201.2 104.8h.2M201.3 104.7h.2M201.3 104.7h.2M201.3 104.7h.2M201.4 104.6h.2M201.4 104.6h.2M201.5 104.5h.2M201.5 104.5h.2M201.6 104.4h.2M201.6 104.4h.2M201.6 104.3h.2M201.7 104.3h.2M201.7 104.2h.2M201.8 104.2h.2M201.8 104.1h.2M201.8 104.1h.2M201.9 104.0h.2M201.9 104.0h.2M202.0 103.9h.2M202.0 103.9h.2M202.1 103.8h.2M202.1 103.8h.2M202.1 103.8h.2M202.2 103.7h.2M202.2 103.7h.2M202.3 103.6h.2M202.3 103.6h.2M202.3 103.5h.2M202.4 103.5h.2M202.4 103.4h.2M202.5 103.4h.2M202.5 103.3h.2M202.6 103.3h.2M202.6 103.2h.2M202.6 103.2h.2M202.7 103.1h.2M202.7 103.1h.2M202.8 103.1h.2M202.8 103.0h.2M202.8 103.0h.2M202.9 102.9h.2M202.9 102.9h.2M203.0 102.8h.2M203.0 102.8h.2M203.0 102.7h.2M203.1 102.7h.2M203.1 102.6h.2M203.2 102.6h.2M203.2 102.5h.2M203.3 102.5h.2M203.3 102.4h.2M203.3 102.4h.2M203.4 102.3h.2M203.4 102.3h.2M203.5 102.3h.2M203.5 102.2h.2M203.5 102.2h.2M203.6 102.1h.2M203.6 102.1h.2M203.7 102.0h.2M203.7 102.0h.2M203.8 101.9h.2M203.8 101.9h.2M203.8 101.8h.2M203.9 101.8h.2M203.9 101.7h.2M204.0 101.7h.2M204.0 101.6h.2M204.0 101.6h.2M204.1 101.5h.2M204.1 101.5h.2M204.2 101.4h.2M204.2 101.4h.2M204.3 101.3h.2M204.3 101.3h.2M204.3 101.3h.2M204.4 101.2h.2M204.4 101.2h.2M204.5 101.1h.2M204.5 101.1h.2M204.5 101.0h.2M204.6 101.0h.2M204.6 100.9h.2M204.7 100.9h.2M204.7 100.8h.2M204.8 100.8h.2M204.8 100.7h.2M204.8 100.7h.2M204.9 100.6h.2M204.9 100.6h.2M205.0 100.6h.2M205.0 100.5h.2M205.0 100.5h.2M205.1 100.4h.2M205.1 100.4h.2M205.2 100.3h.2M205.2 100.3h.2M205.2 100.2h.2M205.3 100.2h.2M205.3 100.1h.2M205.4 100.1h.2M205.4 100.0h.2M205.5 100.0h.2M205.5 99.9h.2M205.5 99.9h.2M205.6 99.8h.2M205.6 99.8h.2M205.7 99.7h.2M205.7 99.7h.2M205.7 99.6h.2M205.8 99.6h.2M205.8 99.6h.2M205.9 99.5h.2M205.9 99.5h.2M206.0 99.4h.2M206.0 99.4h.2M206.0 99.3h.2M206.1 99.3h.2M206.1 99.2h.2M206.2 99.2h.2M206.2 99.1h.2M206.2 99.1h.2M206.3 99.0h.2M206.3 99.0h.2M206.4 98.9h.2M206.4 98.9h.2M206.5 98.9h.2M206.5 98.8h.2M206.5 98.8h.2M206.6 98.7h.2M206.6 98.7h.2M206.7 98.6h.2M206.7 98.6h.2M206.7 98.5h.2M206.8 98.5h.2M206.8 98.5h.2M206.9 98.4h.2M206.9 98.3h.2M207.0 98.3h.2M207.0 98.3h.2M207.0 98.2h.2M207.1 98.2h.2M207.1 98.1h.2M207.2 98.1h.2M207.2 98.0h.2M207.2 98.0h.2M207.3 97.9h.2M207.3 97.9h.2M207.4 97.8h.2M207.4 97.8h.2M207.4 97.8h.2M207.5 97.7h.2M207.5 97.7h.2M207.6 97.6h.2M207.6 97.6h.2M207.7 97.5h.2M207.7 97.5h.2M207.7 97.4h.2M207.8 97.4h.2M207.8 97.4h.2M207.9 97.3h.2M207.9 97.3h.2M207.9 97.2h.2M208.0 97.2h.2M208.0 97.1h.2M208.1 97.1h.2M208.1 97.0h.2M208.2 97.0h.2M208.2 96.9h.2M208.2 96.9h.2M208.3 96.8h.2M208.3 96.8h.2M208.4 96.8h.2M208.4 96.7h.2M208.4 96.7h.2M208.5 96.6h.2M208.5 96.6h.2M208.6 96.5h.2M208.6 96.5h.2M208.7 96.4h.2M208.7 96.4h.2M208.7 96.3h.2M208.8 96.3h.2M208.8 96.2h.2M208.9 96.2h.2M208.9 96.2h.2M208.9 96.1h.2M209.0 96.1h.2M209.0 96.0h.2M209.1 96.0h.2M209.1 95.9h.2M209.1 95.9h.2M209.2 95.8h.2M209.2 95.8h.2M209.3 95.7h.2M209.3 95.7h.2M209.4 95.7h.2M209.4 95.6h.2M209.4 95.6h.2M209.5 95.5h.2M209.5 95.5h.2M209.6 95.4h.2M209.6 95.4h.2M209.6 95.3h.2M209.7 95.3h.2M209.7 95.2h.2M209.8 95.2h.2M209.8 95.2h.2M209.9 95.1h.2M209.9 95.1h.2M209.9 95.0h.2M210.0 95.0h.2M210.0 94.9h.2M210.1 94.9h.2M210.1 94.8h.2M210.1 94.8h.2M210.2 94.7h.2M210.2 94.7h.2M210.3 94.6h.2M210.3 94.6h.2M210.4 94.6h.2M210.4 94.5h.2M210.4 94.5h.2M210.5 94.4h.2M210.5 94.4h.2M210.6 94.3h.2M210.6 94.3h.2M210.6 94.2h.2M210.7 94.2h.2M210.7 94.1h.2M210.8 94.1h.2M210.8 94.1h.2M210.9 94.0h.2M210.9 94.0h.2M210.9 93.9h.2M211.0 93.9h.2M211.0 93.8h.2M211.1 93.8h.2M211.1 93.7h.2M211.1 93.7h.2M211.2 93.6h.2M211.2 93.6h.2M211.3 93.5h.2M211.3 93.5h.2M211.3 93.5h.2M211.4 93.4h.2M211.4 93.4h.2M211.5 93.3h.2M211.5 93.3h.2M211.6 93.2h.2M211.6 93.2h.2M211.6 93.1h.2M211.7 93.1h.2M211.7 93.0h.2M211.8 93.0h.2M211.8 92.9h.2M211.8 92.9h.2M211.9 92.8h.2M211.9 92.8h.2M212.0 92.8h.2M212.0 92.7h.2M212.1 92.7h.2M212.1 92.6h.2M212.1 92.6h.2M212.2 92.5h.2M212.2 92.5h.2M212.3 92.4h.2M212.3 92.4h.2M212.3 92.3h.2M212.4 92.3h.2M212.4 92.2h.2M212.5 92.2h.2M212.5 92.1h.2M212.6 92.1h.2M212.6 92.0h.2M212.6 92.0h.2M212.7 91.9h.2M212.7 91.9h.2M212.8 91.8h.2M212.8 91.8h.2M212.8 91.8h.2M212.9 91.7h.2M212.9 91.7h.2M213.0 91.6h.2M213.0 91.6h.2M213.1 91.5h.2M213.1 91.5h.2M213.1 91.4h.2M213.2 91.4h.2M213.2 91.3h.2M213.3 91.3h.2M213.3 91.2h.2M213.3 91.2h.2M213.4 91.1h.2M213.4 91.1h.2M213.5 91.0h.2M213.5 91.0h.2M213.5 90.9h.2M213.6 90.9h.2M213.6 90.8h.2M213.7 90.8h.2M213.7 90.7h.2M213.8 90.7h.2M213.8 90.6h.2M213.8 90.6h.2M213.9 90.5h.2M213.9 90.5h.2M214.0 90.4h.2M214.0 90.4h.2M214.0 90.3h.2M214.1 90.3h.2M214.1 90.2h.2M214.2 90.2h.2M214.2 90.1h.2M214.3 90.1h.2M214.3 90.0h.2M214.3 90.0h.2M214.4 89.9h.2M214.4 89.9h.2M214.5 89.8h.2M214.5 89.8h.2M214.5 89.7h.2M214.6 89.7h.2M214.6 89.6h.2M214.7 89.6h.2M214.7 89.5h.2M214.8 89.5h.2M214.8 89.4h.2M214.8 89.4h.2M214.9 89.3h.2M214.9 89.3h.2M215.0 89.2h.2M215.0 89.2h.2M215.0 89.1h.2M215.1 89.1h.2M215.1 89.0h.2M215.2 89.0h.2M215.2 88.9h.2M215.2 88.9h.2M215.3 88.8h.2M215.3 88.8h.2M215.4 88.7h.2M215.4 88.7h.2M215.5 88.6h.2M215.5 88.6h.2M215.5 88.5h.2M215.6 88.5h.2M215.6 88.4h.2M215.7 88.4h.2M215.7 88.3h.2M215.7 88.3h.2M215.8 88.2h.2M215.8 88.1h.2M215.9 88.1h.2M215.9 88.0h.2M216.0 88.0h.2M216.0 87.9h.2M216.0 87.9h.2M216.1 87.8h.2M216.1 87.8h.2M216.2 87.7h.2M216.2 87.7h.2M216.2 87.6h.2M216.3 87.6h.2M216.3 87.5h.2M216.4 87.5h.2M216.4 87.4h.2M216.5 87.3h.2M216.5 87.3h.2M216.5 87.2h.2M216.6 87.2h.2M216.6 87.1h.2M216.7 87.1h.2M216.7 87.0h.2M216.7 87.0h.2M216.8 86.9h.2M216.8 86.9h.2M216.9 86.8h.2M216.9 86.8h.2M217.0 86.7h.2M217.0 86.6h.2M217.0 86.6h.2M217.1 86.5h.2M217.1 86.5h.2M217.2 86.4h.2M217.2 86.4h.2M217.2 86.3h.2M217.3 86.3h.2M217.3 86.2h.2M217.4 86.1h.2M217.4 86.1h.2M217.4 86.0h.2M217.5 86.0h.2M217.5 85.9h.2M217.6 85.9h.2M217.6 85.8h.2M217.7 85.7h.2M217.7 85.7h.2M217.7 85.6h.2M217.8 85.6h.2M217.8 85.5h.2M217.9 85.5h.2M217.9 85.4h.2M217.9 85.4h.2M218.0 85.3h.2M218.0 85.2h.2M218.1 85.2h.2M218.1 85.1h.2M218.2 85.1h.2M218.2 85.0h.2M218.2 84.9h.2M218.3 84.9h.2M218.3 84.8h.2M218.4 84.8h.2M218.4 84.7h.2M218.4 84.7h.2M218.5 84.6h.2M218.5 84.5h.2M218.6 84.5h.2M218.6 84.4h.2M218.7 84.4h.2M218.7 84.3h.2M218.7 84.2h.2M218.8 84.2h.2M218.8 84.1h.2M218.9 84.1h.2M218.9 84.0h.2M218.9 83.9h.2M219.0 83.9h.2M219.0 83.8h.2M219.1 83.8h.2M219.1 83.7h.2M219.2 83.6h.2M219.2 83.6h.2M219.2 83.5h.2M219.3 83.5h.2M219.3 83.4h.2M219.4 83.3h.2M219.4 83.3h.2M219.4 83.2h.2M219.5 83.2h.2M219.5 83.1h.2M219.6 83.0h.2M219.6 83.0h.2M219.6 82.9h.2M219.7 82.9h.2M219.7 82.8h.2M219.8 82.7h.2M219.8 82.7h.2M219.9 82.6h.2M219.9 82.5h.2M219.9 82.5h.2M220.0 82.4h.2M220.0 82.4h.2M220.1 82.3h.2M220.1 82.2h.2M220.1 82.2h.2M220.2 82.1h.2M220.2 82.0h.2M220.3 82.0h.2M220.3 81.9h.2M220.4 81.8h.2M220.4 81.8h.2M220.4 81.7h.2M220.5 81.7h.2M220.5 81.6h.2M220.6 81.5h.2M220.6 81.5h.2M220.6 81.4h.2M220.7 81.3h.2M220.7 81.3h.2M220.8 81.2h.2M220.8 81.1h.2M220.9 81.1h.2M220.9 81.0h.2M220.9 80.9h.2M221.0 80.9h.2M221.0 80.8h.2M221.1 80.8h.2M221.1 80.7h.2M221.1 80.6h.2M221.2 80.6h.2M221.2 80.5h.2M221.3 80.4h.2M221.3 80.4h.2M221.3 80.3h.2M221.4 80.2h.2M221.4 80.2h.2M221.5 80.1h.2M221.5 80.0h.2M221.6 80.0h.2M221.6 79.9h.2M221.6 79.8h.2M221.7 79.7h.2M221.7 79.7h.2M221.8 79.6h.2M221.8 79.5h.2M221.8 79.5h.2M221.9 79.4h.2M221.9 79.3h.2M222.0 79.3h.2M222.0 79.2h.2M222.1 79.1h.2M222.1 79.1h.2M222.1 79.0h.2M222.2 78.9h.2M222.2 78.9h.2M222.3 78.8h.2M222.3 78.7h.2M222.3 78.7h.2M222.4 78.6h.2M222.4 78.5h.2M222.5 78.4h.2M222.5 78.4h.2M222.6 78.3h.2M222.6 78.2h.2M222.6 78.2h.2M222.7 78.1h.2M222.7 78.0h.2M222.8 78.0h.2M222.8 77.9h.2M222.8 77.8h.2M222.9 77.7h.2M222.9 77.7h.2M223.0 77.6h.2M223.0 77.5h.2M223.1 77.5h.2M223.1 77.4h.2M223.1 77.3h.2M223.2 77.2h.2M223.2 77.2h.2M223.3 77.1h.2M223.3 77.0h.2M223.3 76.9h.2M223.4 76.9h.2M223.4 76.8h.2M223.5 76.7h.2M223.5 76.7h.2M223.5 76.6h.2M223.6 76.5h.2M223.6 76.4h.2M223.7 76.4h.2M223.7 76.3h.2M223.8 76.2h.2M223.8 76.1h.2M223.8 76.1h.2M223.9 76.0h.2M223.9 75.9h.2M224.0 75.8h.2M224.0 75.8h.2M224.0 75.7h.2M224.1 75.6h.2M224.1 75.5h.2M224.2 75.5h.2M224.2 75.4h.2M224.3 75.3h.2M224.3 75.2h.2M224.3 75.2h.2M224.4 75.1h.2M224.4 75.0h.2M224.5 74.9h.2M224.5 74.9h.2M224.5 74.8h.2M224.6 74.7h.2M224.6 74.6h.2M224.7 74.6h.2M224.7 74.5h.2M224.8 74.4h.2M224.8 74.3h.2M224.8 74.2h.2M224.9 74.2h.2M224.9 74.1h.2M225.0 74.0h.2M225.0 73.9h.2M225.0 73.9h.2M225.1 73.8h.2M225.1 73.7h.2M225.2 73.6h.2M225.2 73.5h.2M225.3 73.5h.2M225.3 73.4h.2M225.3 73.3h.2M225.4 73.2h.2M225.4 73.1h.2M225.5 73.1h.2M225.5 73.0h.2M225.5 72.9h.2M225.6 72.8h.2M225.6 72.7h.2M225.7 72.7h.2M225.7 72.6h.2M225.7 72.5h.2M225.8 72.4h.2M225.8 72.3h.2M225.9 72.3h.2M225.9 72.2h.2M226.0 72.1h.2M226.0 72.0h.2M226.0 71.9h.2M226.1 71.9h.2M226.1 71.8h.2M226.2 71.7h.2M226.2 71.6h.2M226.2 71.5h.2M226.3 71.4h.2M226.3 71.4h.2M226.4 71.3h.2M226.4 71.2h.2M226.5 71.1h.2M226.5 71.0h.2M226.5 70.9h.2M226.6 70.8h.2M226.6 70.8h.2M226.7 70.7h.2M226.7 70.6h.2M226.7 70.5h.2M226.8 70.4h.2M226.8 70.3h.2M226.9 70.2h.2M226.9 70.1h.2M227.0 70.1h.2M227.0 70.0h.2M227.0 69.9h.2M227.1 69.8h.2M227.1 69.7h.2M227.2 69.6h.2M227.2 69.5h.2M227.2 69.4h.2M227.3 69.3h.2M227.3 69.2h.2M227.4 69.1h.2M227.4 69.0h.2M227.4 68.9h.2M227.5 68.9h.2M227.5 68.8h.2M227.6 68.7h.2M227.6 68.6h.2M227.7 68.5h.2M227.7 68.4h.2M227.7 68.3h.2M227.8 68.2h.2M227.8 68.1h.2M227.9 68.0h.2M227.9 67.9h.2M227.9 67.8h.2M228.0 67.7h.2M228.0 67.6h.2M228.1 67.4h.2M228.1 67.3h.2M228.2 67.2h.2M228.2 67.1h.2M228.2 67.0h.2M228.3 66.9h.2M228.3 66.8h.2M228.4 66.7h.2M228.4 66.6h.2M228.4 66.5h.2M228.5 66.4h.2M228.5 66.2h.2M228.6 66.1h.2M228.6 66.0h.2M228.7 65.9h.2M228.7 65.8h.2M228.7 65.7h.2M228.8 65.5h.2M228.8 65.4h.2M228.9 65.3h.2M228.9 65.1h.2M228.9 65.0h.2M229.0 64.9h.2M229.0 64.8h.2M229.1 64.6h.2M229.1 64.5h.2M229.2 64.4h.2M229.2 64.2h.2M229.2 64.1h.2M229.3 64.0h.2M229.3 63.8h.2M229.4 63.7h.2M229.4 63.5h.2M229.4 63.4h.2M229.5 63.3h.2M229.5 63.1h.2M229.6 63.0h.2M229.6 62.8h.2M229.6 62.7h.2M229.7 62.6h.2M229.7 62.4h.2M229.8 62.3h.2M229.8 62.1h.2M229.9 62.0h.2M229.9 61.8h.2M229.9 61.7h.2M230.0 61.6h.2M230.0 61.4h.2M230.1 61.3h.2M230.1 61.1h.2M230.1 61.0h.2M230.2 60.8h.2M230.2 60.7h.2M230.3 60.5h.2M230.3 60.4h.2M230.4 60.2h.2M230.4 60.1h.2M230.4 59.9h.2M230.5 59.8h.2M230.5 59.6h.2M230.6 59.5h.2M230.6 59.3h.2M230.6 59.2h.2M230.7 59.0h.2M230.7 58.9h.2M230.8 58.7h.2M230.8 58.6h.2M230.9 58.4h.2M230.9 58.2h.2M230.9 58.1h.2M231.0 57.9h.2M231.0 57.8h.2M231.1 57.6h.2M231.1 57.5h.2M231.1 57.3h.2M231.2 57.2h.2M231.2 57.0h.2M231.3 56.9h.2M231.3 56.7h.2M231.4 56.6h.2M231.4 56.4h.2M231.4 56.3h.2M231.5 56.1h.2M231.5 55.9h.2M231.6 55.8h.2M231.6 55.6h.2M231.6 55.5h.2M231.7 55.3h.2M231.7 55.2h.2M231.8 55.0h.2M231.8 54.9h.2M231.8 54.7h.2M231.9 54.6h.2M231.9 54.4h.2M232.0 54.3h.2M232.0 54.1h.2M232.1 53.9h.2M232.1 53.8h.2M232.1 53.6h.2M232.2 53.5h.2M232.2 53.3h.2M232.3 53.2h.2M232.3 53.0h.2M232.3 52.9h.2M232.4 52.7h.2M232.4 52.6h.2M232.5 52.4h.2M232.5 52.3h.2M232.6 52.1h.2M232.6 51.9h.2M232.6 51.8h.2M232.7 51.6h.2M232.7 51.5h.2M232.8 51.3h.2M232.8 51.2h.2M232.8 51.0h.2M232.9 50.9h.2M232.9 50.7h.2M233.0 50.5h.2M233.0 50.4h.2M233.1 50.2h.2M233.1 50.1h.2M233.1 49.9h.2M233.2 49.8h.2M233.2 49.6h.2M233.3 49.5h.2M233.3 49.3h.2M233.3 49.2h.2M233.4 49.0h.2M233.4 48.8h.2M233.5 48.7h.2M233.5 48.5h.2M233.5 48.4h.2M233.6 48.2h.2M233.6 48.1h.2M233.7 47.9h.2M233.7 47.8h.2M233.8 47.6h.2M233.8 47.4h.2M233.8 47.3h.2M233.9 47.1h.2M233.9 47.0h.2M234.0 46.8h.2M234.0 46.7h.2M234.0 46.5h.2M234.1 46.4h.2M234.1 46.2h.2M234.2 46.0h.2M234.2 45.9h.2M234.3 45.7h.2M234.3 45.6h.2M234.3 45.4h.2M234.4 45.3h.2M234.4 45.1h.2M234.5 44.9h.2M234.5 44.8h.2M234.5 44.6h.2M234.6 44.5h.2M234.6 44.3h.2M234.7 44.2h.2M234.7 44.0h.2M234.8 43.8h.2M234.8 43.7h.2M234.8 43.5h.2M234.9 43.4h.2M234.9 43.2h.2M235.0 43.1h.2M235.0 42.9h.2M235.0 42.7h.2M235.1 42.6h.2M235.1 42.4h.2M235.2 42.3h.2M235.2 42.1h.2M235.3 42.0h.2M235.3 41.8h.2M235.3 41.6h.2M235.4 41.5h.2M235.4 41.3h.2M235.5 41.2h.2M235.5 41.0h.2M235.5 40.9h.2M235.6 40.7h.2M235.6 40.5h.2M235.7 40.4h.2M235.7 40.2h.2M235.7 40.1h.2M235.8 39.9h.2M235.8 39.8h.2M235.9 39.6h.2M235.9 39.4h.2M236.0 39.3h.2M236.0 39.1h.2M236.0 39.0h.2M236.1 38.8h.2M236.1 38.7h.2M236.2 38.5h.2M236.2 38.4h.2M236.2 38.2h.2M236.3 38.0h.2M236.3 37.9h.2M236.4 37.7h.2M236.4 37.6h.2M236.5 37.4h.2M236.5 37.3h.2M236.5 37.1h.2M236.6 37.0h.2M236.6 36.8h.2M236.7 36.6h.2M236.7 36.5h.2M236.7 36.3h.2M236.8 36.2h.2M236.8 36.0h.2M236.9 35.9h.2M236.9 35.7h.2M237.0 35.5h.2M237.0 35.4h.2M237.0 35.2h.2M237.1 35.1h.2M237.1 34.9h.2M237.2 34.8h.2M237.2 34.6h.2M237.2 34.4h.2M237.3 34.3h.2M237.3 34.1h.2M237.4 34.0h.2M237.4 33.8h.2M237.5 33.7h.2M237.5 33.5h.2M237.5 33.4h.2M237.6 33.2h.2M237.6 33.1h.2M237.7 32.9h.2M237.7 32.7h.2M237.7 32.6h.2M237.8 32.4h.2M237.8 32.3h.2M237.9 32.1h.2M237.9 32.0h.2M237.9 31.8h.2M238.0 31.7h.2M238.0 31.5h.2M238.1 31.4h.2M238.1 31.2h.2M238.2 31.1h.2M238.2 30.9h.2M238.2 30.7h.2M238.3 30.6h.2M238.3 30.4h.2M238.4 30.3h.2M238.4 30.1h.2M238.4 30.0h.2M238.5 29.8h.2M238.5 29.7h.2M238.6 29.5h.2M238.6 29.4h.2M238.7 29.2h.2M238.7 29.1h.2M238.7 28.9h.2M238.8 28.8h.2M238.8 28.6h.2M238.9 28.5h.2M238.9 28.3h.2M238.9 28.2h.2M239.0 28.1h.2M239.0 28.2h.2M239.1 28.6h.2M239.1 29.0h.2M239.2 29.3h.2M239.2 29.7h.2M239.2 30.0h.2M239.3 30.4h.2M239.3 30.8h.2M239.4 31.1h.2M239.4 31.5h.2M239.4 32.2h.2M239.5 32.8h.2M239.5 33.5h.2M239.6 34.2h.2M239.6 34.8h.2M239.6 35.5h.2M239.7 36.1h.2M239.7 36.8h.2M239.8 37.5h.2M239.8 38.1h.2M239.9 38.8h.2M239.9 39.4h.2M239.9 40.1h.2M240.0 40.8h.2M240.0 41.4h.2M240.1 42.1h.2M240.1 42.8h.2M240.1 43.4h.2M240.2 44.0h.2M240.2 44.7h.2M240.3 45.4h.2M240.3 46.1h.2M240.4 46.7h.2M240.4 47.4h.2M240.4 48.0h.2M240.5 48.7h.2M240.5 49.4h.2M242.6 152.0h.2M242.6 152.5h.2M242.6 154.2h.2M242.7 155.8h.2M242.7 155.6h.2M242.8 158.4h.2M242.8 157.8h.2M242.8 160.7h.2M242.9 161.1h.2M242.9 163.8h.2M243.0 164.8h.2M243.0 164.8h.2M243.1 166.6h.2M243.1 168.6h.2M243.1 169.3h.2M243.2 169.9h.2M243.2 172.8h.2M243.3 172.8h.2M243.3 175.8h.2M243.3 175.2h.2M243.4 174.2h.2M243.4 179.0h.2M243.5 179.4h.2M243.5 178.7h.2M243.6 179.9h.2M243.6 183.3h.2M243.6 185.0h.2M243.7 185.2h.2M243.7 184.7h.2M243.8 184.4h.2M243.8 187.3h.2M243.8 190.9h.2M243.9 192.6h.2M243.9 191.2h.2M244.0 190.9h.2M244.0 191.9h.2M244.0 193.1h.2M244.1 196.6h.2M244.1 198.0h.2M244.2 200.8h.2M244.2 195.7h.2M244.3 200.3h.2M244.3 196.3h.2M244.3 198.7h.2M244.4 199.5h.2M244.4 205.8h.2M244.5 202.6h.2M244.5 205.2h.2M244.5 209.1h.2M244.6 207.7h.2M244.6 210.6h.2M244.7 207.7h.2M244.7 202.6h.2M244.8 204.6h.2M244.8 209.1h.2M244.8 213.3h.2M244.9 209.1h.2M244.9 206.4h.2M245.0 205.8h.2M245.0 216.5h.2M245.0 209.8h.2M245.1 220.5h.2M245.1 212.3h.2M245.2 215.3h.2M245.2 208.3h.2M245.3 217.7h.2M245.3 208.3h.2M245.3 209.8h.2M245.4 219.0h.2M245.4 209.1h.2M245.5 213.3h.2M245.5 220.5h.2M245.5 212.3h.2M245.6 217.7h.2M245.6 207.7h.2M245.7 213.3h.2M245.7 214.2h.2M245.7 209.8h.2M245.8 213.3h.2M245.8 213.3h.2M245.9 219.0h.2M245.9 209.8h.2M246.0 208.3h.2M246.0 205.2h.2M246.0 216.5h.2M246.1 223.9h.2M246.1 207.0h.2M246.2 214.2h.2M246.2 201.2h.2M246.2 209.1h.2M246.3 208.3h.2M246.3 207.7h.2M246.4 216.5h.2M246.4 209.8h.2M246.5 214.2h.2M246.5 205.2h.2M246.5 217.7h.2M246.6 214.2h.2M246.6 220.5h.2M246.7 209.1h.2M246.7 216.5h.2M246.7 207.7h.2M246.8 219.0h.2M246.8 215.3h.2M246.9 206.4h.2M246.9 226.0h.2M247.0 215.3h.2M247.0 205.8h.2M247.0 208.3h.2M247.1 209.8h.2M247.1 209.8h.2M247.2 211.4h.2M247.2 209.1h.2M247.2 208.3h.2M247.3 208.3h.2M247.3 206.4h.2M247.4 210.6h.2M247.4 217.7h.2M247.5 214.2h.2M247.5 210.6h.2M247.5 212.3h.2M247.6 212.3h.2M247.6 216.5h.2M247.7 213.3h.2M247.7 209.1h.2M247.7 208.3h.2M247.8 210.6h.2M247.8 204.6h.2M247.9 219.0h.2M247.9 209.8h.2M247.9 215.3h.2M248.0 207.7h.2M248.0 205.8h.2M248.1 209.8h.2M248.1 216.5h.2M248.2 209.1h.2M248.2 215.3h.2M248.2 208.3h.2M248.3 212.3h.2M248.3 202.6h.2M248.4 207.0h.2M248.4 208.3h.2M248.4 206.4h.2M248.5 215.3h.2M248.5 209.1h.2M248.6 209.8h.2M248.6 201.2h.2M248.7 214.2h.2M248.7 209.8h.2M248.7 202.1h.2M248.8 211.4h.2M248.8 215.3h.2M248.9 209.1h.2M248.9 213.3h.2M248.9 198.4h.2M249.0 205.2h.2M249.0 211.4h.2M249.1 209.1h.2M249.1 207.7h.2M249.2 214.2h.2M249.2 213.3h.2M249.2 207.0h.2M249.3 210.6h.2M249.3 211.4h.2M249.4 212.3h.2M249.4 204.6h.2M249.4 209.8h.2M249.5 208.3h.2M249.5 205.8h.2M249.6 209.1h.2M249.6 211.4h.2M249.7 213.3h.2M249.7 207.0h.2M249.7 214.2h.2M249.8 205.2h.2M249.8 207.7h.2M249.9 213.3h.2M249.9 214.2h.2M249.9 209.1h.2M250.0 213.3h.2M250.0 207.7h.2M250.1 209.8h.2M250.1 209.1h.2M250.1 203.1h.2M250.2 214.2h.2M250.2 203.1h.2M250.3 209.8h.2M250.3 209.8h.2M250.4 207.0h.2M250.4 201.6h.2M250.4 211.4h.2M250.5 208.3h.2M250.5 204.1h.2M250.6 202.1h.2M250.6 205.2h.2M250.6 200.3h.2M250.7 202.1h.2M250.7 204.1h.2M250.8 209.1h.2M250.8 205.8h.2M250.9 204.6h.2M250.9 208.3h.2M250.9 204.6h.2M251.0 205.2h.2M251.0 209.8h.2M251.1 205.2h.2M251.1 207.7h.2M251.1 203.1h.2M251.2 204.6h.2M251.2 200.3h.2M251.3 207.0h.2M251.3 201.6h.2M251.4 217.7h.2M251.4 207.0h.2M251.4 210.6h.2M251.5 199.1h.2M251.5 202.1h.2M251.6 202.1h.2M251.6 210.6h.2M251.6 206.4h.2M251.7 203.6h.2M251.7 196.0h.2M251.8 205.2h.2M251.8 205.2h.2M251.8 207.0h.2M251.9 202.6h.2M251.9 205.8h.2M252.0 201.6h.2M252.0 203.6h.2M252.1 200.8h.2M252.1 197.7h.2M252.1 198.7h.2M252.2 197.7h.2M252.2 203.6h.2M252.3 206.4h.2M252.3 201.6h.2M252.3 199.9h.2M252.4 198.7h.2M252.4 199.9h.2M252.5 198.7h.2M252.5 200.8h.2M252.6 203.1h.2M252.6 198.0h.2M252.6 196.3h.2M252.7 203.6h.2M252.7 205.2h.2M252.8 203.1h.2M252.8 201.2h.2M252.8 201.2h.2M252.9 205.2h.2M252.9 202.1h.2M253.0 199.9h.2M253.0 202.1h.2M253.1 202.1h.2M253.1 203.1h.2M253.1 198.0h.2M253.2 198.4h.2M253.2 200.8h.2M253.3 196.0h.2M253.3 201.6h.2M253.3 200.8h.2M253.4 198.7h.2M253.4 200.8h.2M253.5 201.2h.2M253.5 201.2h.2M253.6 199.9h.2M253.6 195.7h.2M253.6 193.1h.2M253.7 196.3h.2M253.7 199.1h.2M253.8 195.1h.2M253.8 197.3h.2M253.8 195.1h.2M253.9 198.4h.2M253.9 197.3h.2M254.0 195.7h.2M254.0 196.6h.2M254.0 199.5h.2M254.1 197.7h.2M254.1 194.8h.2M254.2 193.4h.2M254.2 195.7h.2M254.3 198.7h.2M254.3 201.2h.2M254.3 190.9h.2M254.4 195.7h.2M254.4 197.0h.2M254.5 194.5h.2M254.5 194.5h.2M254.5 193.4h.2M254.6 195.7h.2M254.6 198.0h.2M254.7 195.7h.2M254.7 194.2h.2M254.8 191.6h.2M254.8 195.4h.2M254.8 198.4h.2M254.9 198.4h.2M254.9 192.6h.2M255.0 194.2h.2M255.0 191.9h.2M255.0 195.7h.2M255.1 192.6h.2M255.1 196.0h.2M255.2 194.2h.2M255.2 194.8h.2M255.3 194.8h.2M255.3 191.2h.2M255.3 191.9h.2M255.4 193.7h.2M255.4 193.7h.2M255.5 189.4h.2M255.5 195.7h.2M255.5 193.4h.2M255.6 191.2h.2M255.6 193.7h.2M255.7 197.3h.2M255.7 191.9h.2M255.8 191.4h.2M255.8 196.6h.2M255.8 192.4h.2M255.9 188.6h.2M255.9 192.9h.2M256.0 191.9h.2M256.0 193.1h.2M256.0 189.0h.2M256.1 196.3h.2M256.1 190.3h.2M256.2 190.7h.2M256.2 193.9h.2M256.2 189.9h.2M256.3 191.2h.2M256.3 188.2h.2M256.4 188.8h.2M256.4 192.4h.2M256.5 188.6h.2M256.5 192.4h.2M256.5 186.6h.2M256.6 189.2h.2M256.6 189.0h.2M256.7 190.3h.2M256.7 190.3h.2M256.7 191.9h.2M256.8 189.0h.2M256.8 190.1h.2M256.9 186.6h.2M256.9 189.2h.2M257.0 190.1h.2M257.0 189.4h.2M257.0 190.3h.2M257.1 187.7h.2M257.1 189.2h.2M257.2 194.2h.2M257.2 188.4h.2M257.2 187.7h.2M257.3 186.3h.2M257.3 188.6h.2M257.4 186.6h.2M257.4 188.4h.2M257.5 189.2h.2M257.5 186.8h.2M257.5 186.8h.2M257.6 187.9h.2M257.6 187.5h.2M257.7 187.7h.2M257.7 184.0h.2M257.7 188.1h.2M257.8 189.6h.2M257.8 186.5h.2M257.9 185.8h.2M257.9 186.1h.2M257.9 187.5h.2M258.0 187.0h.2M258.0 187.5h.2M258.1 183.3h.2M258.1 186.3h.2M258.2 187.7h.2M258.2 184.5h.2M258.2 184.1h.2M258.3 182.4h.2M258.3 189.0h.2M258.4 184.0h.2M258.4 184.5h.2M258.4 182.1h.2M258.5 185.5h.2M258.5 186.1h.2M258.6 182.3h.2M258.6 180.3h.2M258.7 182.1h.2M258.7 181.0h.2M258.7 181.8h.2M258.8 184.4h.2M258.8 185.5h.2M258.9 181.1h.2M258.9 183.8h.2M258.9 182.8h.2M259.0 182.7h.2M259.0 181.8h.2M259.1 184.2h.2M259.1 180.0h.2M259.2 183.7h.2M259.2 182.3h.2M259.2 181.0h.2M259.3 180.4h.2M259.3 182.3h.2M259.4 181.8h.2M259.4 183.0h.2M259.4 183.0h.2M259.5 181.2h.2M259.5 180.3h.2M259.6 183.1h.2M259.6 181.4h.2M259.7 179.0h.2M259.7 182.2h.2M259.7 179.8h.2M259.8 178.3h.2M259.8 180.7h.2M259.9 184.5h.2M259.9 181.1h.2M259.9 179.5h.2M260.0 181.1h.2M260.0 178.5h.2M260.1 180.1h.2M260.1 180.5h.2M260.1 179.0h.2M260.2 179.1h.2M260.2 180.3h.2M260.3 179.8h.2M260.3 179.9h.2M260.4 182.7h.2M260.4 176.5h.2M260.4 180.3h.2M260.5 179.2h.2M260.5 177.9h.2M260.6 178.7h.2M260.6 181.1h.2M260.6 178.0h.2M260.7 178.2h.2M260.7 178.4h.2M260.8 179.7h.2M260.8 182.1h.2M260.9 180.0h.2M260.9 179.0h.2M260.9 180.3h.2M261.0 179.6h.2M261.0 182.6h.2M261.1 180.0h.2M261.1 181.9h.2M261.1 179.8h.2M261.2 180.5h.2M261.2 179.5h.2M261.3 178.4h.2M261.3 180.5h.2M261.4 183.0h.2M261.4 180.6h.2M261.4 182.3h.2M261.5 180.8h.2M261.5 182.7h.2M261.6 182.2h.2M261.6 184.7h.2M261.6 180.0h.2M261.7 184.8h.2M261.7 180.0h.2M261.8 182.7h.2M261.8 182.3h.2M261.9 184.7h.2M261.9 181.9h.2M261.9 184.1h.2M262.0 185.5h.2M262.0 186.1h.2M262.1 184.5h.2M262.1 188.2h.2M262.1 182.6h.2M262.2 186.3h.2M262.2 187.5h.2M262.3 186.0h.2M262.3 186.6h.2M262.3 184.8h.2M262.4 184.2h.2M262.4 184.5h.2M262.5 189.0h.2M262.5 184.7h.2M262.6 184.4h.2M262.6 187.0h.2M262.6 184.0h.2M262.7 185.6h.2M262.7 187.3h.2M262.8 186.8h.2M262.8 186.3h.2M262.8 191.6h.2M262.9 185.3h.2M262.9 188.6h.2M263.0 186.1h.2M263.0 186.0h.2M263.1 187.7h.2M263.1 188.8h.2M263.1 184.2h.2M263.2 189.4h.2M263.2 186.8h.2M263.3 184.5h.2M263.3 190.5h.2M263.3 187.9h.2M263.4 187.9h.2M263.4 188.8h.2M263.5 187.7h.2M263.5 188.1h.2M263.6 191.6h.2M263.6 187.0h.2M263.6 185.3h.2M263.7 186.8h.2M263.7 187.1h.2M263.8 183.3h.2M263.8 186.1h.2M263.8 184.0h.2M263.9 182.8h.2M263.9 187.5h.2M264.0 184.0h.2M264.0 185.5h.2M264.0 183.8h.2M264.1 182.6h.2M264.1 186.0h.2M264.2 186.6h.2M264.2 188.4h.2M264.3 182.1h.2M264.3 181.6h.2M264.3 187.7h.2M264.4 185.5h.2M264.4 182.8h.2M264.5 185.6h.2M264.5 184.1h.2M264.5 183.0h.2M264.6 181.1h.2M264.6 184.0h.2M264.7 185.8h.2M264.7 183.1h.2M264.8 185.2h.2M264.8 185.0h.2M264.8 183.5h.2M264.9 181.9h.2M264.9 182.7h.2M265.0 183.1h.2M265.0 181.4h.2M265.0 183.1h.2M265.1 181.2h.2M265.1 180.5h.2M265.2 184.2h.2M265.2 184.5h.2M265.3 180.7h.2M265.3 182.7h.2M265.3 181.0h.2M265.4 181.6h.2M265.4 181.2h.2M265.5 178.7h.2M265.5 181.0h.2M265.5 179.7h.2M265.6 179.8h.2M265.6 179.3h.2M265.7 179.6h.2M265.7 180.4h.2M265.8 178.1h.2M265.8 178.7h.2M265.8 180.4h.2M265.9 178.1h.2M265.9 179.2h.2M266.0 178.1h.2M266.0 180.0h.2M266.0 176.5h.2M266.1 178.1h.2M266.1 178.3h.2M266.2 176.8h.2M266.2 176.7h.2M266.2 178.2h.2M266.3 179.2h.2M266.3 176.5h.2M266.4 180.0h.2M266.4 179.7h.2M266.5 177.2h.2M266.5 176.3h.2M266.5 181.0h.2M266.6 180.1h.2M266.6 182.2h.2M266.7 178.5h.2M266.7 179.2h.2M266.7 180.5h.2M266.8 178.5h.2M266.8 178.1h.2M266.9 181.6h.2M266.9 181.6h.2M267.0 180.0h.2M267.0 179.6h.2M267.0 180.8h.2M267.1 179.9h.2M267.1 183.0h.2M267.2 178.7h.2M267.2 184.4h.2M267.2 182.7h.2M267.3 180.6h.2M267.3 181.9h.2M267.4 182.8h.2M267.4 180.7h.2M267.5 185.2h.2M267.5 187.3h.2M267.5 185.5h.2M267.6 186.0h.2M267.6 188.1h.2M267.7 189.0h.2M267.7 184.8h.2M267.7 186.0h.2M267.8 183.7h.2M267.8 184.5h.2M267.9 187.3h.2M267.9 187.7h.2M268.0 189.9h.2M268.0 187.5h.2M268.0 186.5h.2M268.1 187.3h.2M268.1 192.1h.2M268.2 188.6h.2M268.2 195.4h.2M268.2 189.4h.2M268.3 195.1h.2M268.3 192.4h.2M268.4 193.7h.2M268.4 194.5h.2M268.4 191.9h.2M268.5 190.7h.2M268.5 196.0h.2M268.6 190.9h.2M268.6 198.7h.2M268.7 191.2h.2M268.7 197.0h.2M268.7 193.1h.2M268.8 194.5h.2M268.8 198.7h.2M268.9 199.5h.2M268.9 198.7h.2M268.9 200.3h.2M269.0 197.7h.2M269.0 193.9h.2M269.1 199.1h.2M269.1 198.7h.2M269.2 202.1h.2M269.2 195.7h.2M269.2 199.5h.2M269.3 197.7h.2M269.3 199.5h.2M269.4 195.7h.2M269.4 197.0h.2M269.4 199.5h.2M269.5 201.2h.2M269.5 193.7h.2M269.6 198.4h.2M269.6 200.8h.2M269.7 200.8h.2M269.7 197.7h.2M269.7 207.0h.2M269.8 202.6h.2M269.8 207.0h.2M269.9 201.6h.2M269.9 196.6h.2M269.9 201.2h.2M270.0 203.6h.2M270.0 206.4h.2M270.1 197.7h.2M270.1 204.1h.2M270.1 204.6h.2M270.2 201.6h.2M270.2 207.7h.2M270.3 204.1h.2M270.3 204.6h.2M270.4 205.2h.2M270.4 205.2h.2M270.4 199.9h.2M270.5 204.1h.2M270.5 206.4h.2M270.6 204.6h.2M270.6 203.6h.2M270.6 199.1h.2M270.7 202.1h.2M270.7 210.6h.2M270.8 205.8h.2M270.8 201.6h.2M270.9 204.6h.2M270.9 207.0h.2M270.9 204.6h.2M271.0 209.8h.2M271.0 206.4h.2M271.1 208.3h.2M271.1 204.6h.2M271.1 212.3h.2M271.2 203.6h.2M271.2 205.8h.2M271.3 200.8h.2M271.3 212.3h.2M271.4 213.3h.2M271.4 207.0h.2M271.4 210.6h.2M271.5 202.6h.2M271.5 202.1h.2M271.6 211.4h.2M271.6 201.2h.2M271.6 204.6h.2M271.7 206.4h.2M271.7 205.2h.2M271.8 203.1h.2M271.8 205.2h.2M271.9 202.1h.2M271.9 203.1h.2M271.9 207.7h.2M272.0 205.8h.2M272.0 203.6h.2M272.1 207.0h.2M272.1 203.6h.2M272.1 203.6h.2M272.2 209.8h.2M272.2 205.2h.2M272.3 206.4h.2M272.3 204.6h.2M272.3 205.8h.2M272.4 201.2h.2M272.4 204.1h.2M272.5 200.8h.2M272.5 208.3h.2M272.6 209.1h.2M272.6 202.6h.2M272.6 201.2h.2M272.7 206.4h.2M272.7 203.6h.2M272.8 200.8h.2M272.8 204.6h.2M272.8 209.1h.2M272.9 198.7h.2M272.9 202.6h.2M273.0 200.3h.2M273.0 204.1h.2M273.1 201.2h.2M273.1 202.6h.2M273.1 199.5h.2M273.2 200.3h.2M273.2 201.6h.2M273.3 208.3h.2M273.3 207.7h.2M273.3 204.6h.2M273.4 204.6h.2M273.4 203.6h.2M273.5 199.9h.2M273.5 201.2h.2M273.6 197.3h.2M273.6 202.1h.2M273.6 197.0h.2M273.7 198.7h.2M273.7 203.6h.2M273.8 202.1h.2M273.8 200.3h.2M273.8 198.7h.2M273.9 203.6h.2M273.9 198.7h.2M274.0 201.6h.2M274.0 202.1h.2M274.1 204.1h.2M274.1 199.5h.2M274.1 196.0h.2M274.2 198.4h.2M274.2 197.7h.2M274.3 197.3h.2M274.3 195.1h.2M274.3 195.4h.2M274.4 196.3h.2M274.4 193.1h.2M274.5 193.7h.2M274.5 199.5h.2M274.5 193.1h.2M274.6 193.1h.2M274.6 199.5h.2M274.7 192.1h.2M274.7 198.0h.2M274.8 191.4h.2M274.8 193.9h.2M274.8 198.4h.2M274.9 197.0h.2M274.9 195.4h.2M275.0 197.0h.2M275.0 197.0h.2M275.0 192.1h.2M275.1 199.1h.2M275.1 198.0h.2M275.2 193.7h.2M275.2 198.4h.2M275.3 196.3h.2M275.3 194.2h.2M275.3 194.2h.2M275.4 199.9h.2M275.4 194.8h.2M275.5 193.9h.2M275.5 194.2h.2M275.5 192.6h.2M275.6 193.7h.2M275.6 192.1h.2M275.7 192.4h.2M275.7 195.7h.2M275.8 192.4h.2M275.8 192.6h.2M275.8 187.3h.2M275.9 191.6h.2M275.9 191.4h.2M276.0 188.6h.2M276.0 187.1h.2M276.0 192.1h.2M276.1 188.6h.2M276.1 191.9h.2M276.2 189.9h.2M276.2 186.3h.2M276.2 189.0h.2M276.3 190.3h.2M276.3 191.2h.2M276.4 186.5h.2M276.4 187.9h.2M276.5 188.1h.2M276.5 188.8h.2M276.5 189.6h.2M276.6 185.8h.2M276.6 186.5h.2M276.7 188.8h.2M276.7 187.0h.2M276.7 188.4h.2M276.8 185.0h.2M276.8 190.3h.2M276.9 187.1h.2M276.9 186.6h.2M277.0 184.8h.2M277.0 184.7h.2M277.0 187.1h.2M277.1 186.5h.2M277.1 185.6h.2M277.2 185.3h.2M277.2 186.8h.2M277.2 187.5h.2M277.3 184.2h.2M277.3 181.2h.2M277.4 184.2h.2M277.4 184.7h.2M277.5 183.7h.2M277.5 182.6h.2M277.5 180.6h.2M277.6 186.1h.2M277.6 183.4h.2M277.7 184.4h.2M277.7 185.5h.2M277.7 184.5h.2M277.8 182.7h.2M277.8 183.1h.2M277.9 182.4h.2M277.9 180.7h.2M278.0 182.4h.2M278.0 182.4h.2M278.0 180.7h.2M278.1 180.5h.2M278.1 182.2h.2M278.2 181.8h.2M278.2 180.8h.2M278.2 182.4h.2M278.3 182.3h.2M278.3 179.3h.2M278.4 180.6h.2M278.4 181.1h.2M278.4 179.1h.2M278.5 180.3h.2M278.5 180.3h.2M278.6 178.0h.2M278.6 181.4h.2M278.7 177.9h.2M278.7 182.7h.2M278.7 180.7h.2M278.8 178.5h.2M278.8 179.8h.2M278.9 177.7h.2M278.9 180.0h.2M278.9 180.0h.2M279.0 177.7h.2M279.0 180.6h.2M279.1 177.9h.2M279.1 179.2h.2M279.2 174.4h.2M279.2 179.0h.2M279.2 178.7h.2M279.3 175.4h.2M279.3 179.8h.2M279.4 178.7h.2M279.4 178.3h.2M279.4 178.4h.2M279.5 182.1h.2M279.5 177.5h.2M279.6 179.2h.2M279.6 178.9h.2M279.7 179.2h.2M279.7 178.6h.2M279.7 181.2h.2M279.8 181.4h.2M279.8 180.8h.2M279.9 181.4h.2M279.9 183.0h.2M279.9 183.3h.2M280.0 182.8h.2M280.0 182.1h.2M280.1 185.8h.2M280.1 184.4h.2M280.2 186.5h.2M280.2 184.4h.2M280.2 191.6h.2M280.3 190.7h.2M280.3 192.1h.2M280.4 195.1h.2M280.4 193.7h.2M280.4 197.0h.2M280.5 196.3h.2M280.5 203.6h.2M280.6 202.6h.2M280.6 201.2h.2M280.6 205.2h.2M280.7 205.2h.2M280.7 201.2h.2M280.8 205.2h.2M280.8 208.3h.2M280.9 206.4h.2M280.9 207.0h.2M280.9 206.4h.2M281.0 208.3h.2M281.0 209.8h.2M281.1 212.3h.2M281.1 207.7h.2M281.1 215.3h.2M281.2 212.3h.2M281.2 206.4h.2M281.3 219.0h.2M281.3 210.6h.2M281.4 208.3h.2M281.4 209.8h.2M281.4 209.1h.2M281.5 215.3h.2M281.5 206.4h.2M281.6 210.6h.2M281.6 215.3h.2M281.6 213.3h.2M281.7 222.1h.2M281.7 216.5h.2M281.8 206.4h.2M281.8 216.5h.2M281.9 209.8h.2M281.9 206.4h.2M281.9 222.1h.2M282.0 210.6h.2M282.0 198.4h.2M282.1 213.3h.2M282.1 215.3h.2M282.1 217.7h.2M282.2 213.3h.2M282.2 214.2h.2M282.3 211.4h.2M282.3 208.3h.2M282.3 217.7h.2M282.4 214.2h.2M282.4 214.2h.2M282.5 210.6h.2M282.5 209.8h.2M282.6 220.5h.2M282.6 205.2h.2M282.6 213.3h.2M282.7 210.6h.2M282.7 202.1h.2M282.8 228.4h.2M282.8 215.3h.2M282.8 211.4h.2M282.9 215.3h.2M282.9 216.5h.2M283.0 217.7h.2M283.0 216.5h.2M283.1 214.2h.2M283.1 219.0h.2M283.1 215.3h.2M283.2 213.3h.2M283.2 211.4h.2M283.3 209.1h.2M283.3 220.5h.2M283.3 214.2h.2M283.4 222.1h.2M283.4 231.2h.2M283.5 212.3h.2M283.5 220.5h.2M283.6 209.8h.2M283.6 215.3h.2M283.6 217.7h.2M283.7 217.7h.2M283.7 239.1h.2M283.8 214.2h.2M283.8 215.3h.2M283.8 211.4h.2M283.9 205.2h.2M283.9 222.1h.2M284.0 214.2h.2M284.0 220.5h.2M284.1 211.4h.2M284.1 222.1h.2M284.1 215.3h.2M284.2 209.1h.2M284.2 219.0h.2M284.3 210.6h.2M284.3 216.5h.2M284.3 206.4h.2M284.4 206.4h.2M284.4 212.3h.2M284.5 211.4h.2M284.5 220.5h.2M284.5 222.1h.2M284.6 209.1h.2M284.6 214.2h.2M284.7 215.3h.2M284.7 219.0h.2M284.8 201.2h.2M284.8 209.8h.2M284.8 216.5h.2M284.9 220.5h.2M284.9 212.3h.2M285.0 209.1h.2M285.0 217.7h.2M285.0 213.3h.2M285.1 213.3h.2M285.1 214.2h.2M285.2 208.3h.2M285.2 206.4h.2M285.3 215.3h.2M285.3 211.4h.2M285.3 209.1h.2M285.4 210.6h.2M285.4 207.7h.2M285.5 211.4h.2M285.5 213.3h.2M285.5 210.6h.2M285.6 206.4h.2M285.6 220.5h.2M285.7 212.3h.2M285.7 214.2h.2M285.8 222.1h.2M285.8 209.1h.2M285.8 219.0h.2M285.9 209.1h.2M285.9 219.0h.2M286.0 217.7h.2M286.0 213.3h.2M286.0 215.3h.2M286.1 220.5h.2M286.1 208.3h.2M286.2 209.8h.2M286.2 207.0h.2M286.3 209.8h.2M286.3 216.5h.2M286.3 217.7h.2M286.4 212.3h.2M286.4 212.3h.2M286.5 214.2h.2M286.5 219.0h.2M286.5 210.6h.2M286.6 209.8h.2M286.6 217.7h.2M286.7 205.8h.2M286.7 208.3h.2M286.7 215.3h.2M286.8 211.4h.2M286.8 217.7h.2M286.9 228.4h.2M286.9 209.8h.2M287.0 214.2h.2M287.0 211.4h.2M287.0 209.8h.2M287.1 216.5h.2M287.1 223.9h.2M287.2 222.1h.2M287.2 214.2h.2M287.2 211.4h.2M287.3 209.1h.2M287.3 219.0h.2M287.4 214.2h.2M287.4 213.3h.2M287.5 219.0h.2M287.5 217.7h.2M287.5 209.8h.2M287.6 220.5h.2M287.6 207.7h.2M287.7 207.0h.2M287.7 215.3h.2M287.7 210.6h.2M287.8 214.2h.2M287.8 215.3h.2M287.9 216.5h.2M287.9 207.7h.2M288.0 210.6h.2M288.0 211.4h.2M288.0 212.3h.2M288.1 226.0h.2M288.1 210.6h.2M288.2 222.1h.2M288.2 207.7h.2M288.2 207.0h.2M288.3 212.3h.2M288.3 213.3h.2M288.4 223.9h.2M288.4 215.3h.2M288.4 209.1h.2M288.5 217.7h.2M288.5 205.2h.2M288.6 212.3h.2M288.6 213.3h.2M288.7 209.1h.2M288.7 210.6h.2M288.7 215.3h.2M288.8 213.3h.2M288.8 205.2h.2M288.9 207.7h.2M288.9 222.1h.2M288.9 205.8h.2M289.0 204.1h.2M289.0 210.6h.2M289.1 214.2h.2M289.1 216.5h.2M289.2 217.7h.2M289.2 210.6h.2M289.2 208.3h.2M289.3 210.6h.2M289.3 209.8h.2M289.4 208.3h.2M289.4 217.7h.2M289.4 209.8h.2M289.5 207.0h.2M289.5 215.3h.2M289.6 213.3h.2M289.6 210.6h.2M289.7 206.4h.2M289.7 214.2h.2M289.7 216.5h.2M289.8 211.4h.2M289.8 207.7h.2M289.9 219.0h.2M289.9 208.3h.2M289.9 213.3h.2M290.0 216.5h.2M290.0 212.3h.2M290.1 212.3h.2M290.1 210.6h.2M290.2 210.6h.2M290.2 210.6h.2M290.2 213.3h.2M290.3 211.4h.2M290.3 209.1h.2M290.4 217.7h.2M290.4 213.3h.2M290.4 211.4h.2M290.5 219.0h.2M290.5 212.3h.2M290.6 223.9h.2M290.6 212.3h.2M290.6 204.6h.2M290.7 209.8h.2M290.7 211.4h.2M290.8 219.0h.2M290.8 211.4h.2M290.9 219.0h.2M290.9 213.3h.2M290.9 217.7h.2M291.0 211.4h.2M291.0 209.8h.2M291.1 215.3h.2M291.1 210.6h.2M291.1 212.3h.2M291.2 216.5h.2M291.2 210.6h.2M291.3 199.9h.2M291.3 208.3h.2M291.4 210.6h.2M291.4 222.1h.2M291.4 215.3h.2M291.5 211.4h.2M291.5 212.3h.2M291.6 210.6h.2M291.6 202.6h.2M291.6 209.1h.2M291.7 208.3h.2M291.7 222.1h.2M291.8 207.0h.2M291.8 209.8h.2M291.9 216.5h.2M291.9 204.1h.2M291.9 207.0h.2M292.0 204.6h.2M292.0 212.3h.2M292.1 206.4h.2M292.1 206.4h.2M292.1 217.7h.2M292.2 216.5h.2M292.2 212.3h.2M292.3 212.3h.2M292.3 208.3h.2M292.4 209.8h.2M292.4 202.6h.2M292.4 210.6h.2M292.5 205.8h.2M292.5 209.8h.2M292.6 214.2h.2M292.6 217.7h.2M292.6 205.8h.2M292.7 205.8h.2M292.7 203.6h.2M292.8 200.8h.2M292.8 200.8h.2M292.8 217.7h.2M292.9 215.3h.2M292.9 207.7h.2M293.0 204.6h.2M293.0 210.6h.2M293.1 205.2h.2M293.1 204.6h.2M293.1 204.6h.2M293.2 202.6h.2M293.2 208.3h.2M293.3 204.1h.2M293.3 211.4h.2M293.3 204.6h.2M293.4 208.3h.2M293.4 207.0h.2M293.5 203.1h.2M293.5 201.2h.2M293.6 205.8h.2M293.6 207.7h.2M293.6 217.7h.2M293.7 211.4h.2M293.7 209.8h.2M293.8 207.7h.2M293.8 207.0h.2M293.8 202.1h.2M293.9 201.6h.2M293.9 207.0h.2M294.0 205.8h.2M294.0 204.6h.2M294.1 201.2h.2M294.1 202.1h.2M294.1 209.1h.2M294.2 208.3h.2M294.2 212.3h.2M294.3 206.4h.2M294.3 208.3h.2M294.3 205.8h.2M294.4 204.6h.2M294.4 206.4h.2M294.5 205.2h.2M294.5 201.2h.2M294.5 205.8h.2M294.6 198.7h.2M294.6 199.1h.2M294.7 198.4h.2M294.7 202.6h.2M294.8 204.1h.2M294.8 201.6h.2M294.8 202.1h.2M294.9 203.1h.2M294.9 199.5h.2M295.0 201.2h.2M295.0 196.6h.2M295.0 204.6h.2M295.1 202.6h.2M295.1 199.5h.2M295.2 199.9h.2M295.2 199.1h.2M295.3 200.8h.2M295.3 202.1h.2M295.3 199.1h.2M295.4 201.2h.2M295.4 200.3h.2M295.5 202.1h.2M295.5 203.1h.2M295.5 198.7h.2M295.6 197.3h.2M295.6 204.1h.2M295.7 199.1h.2M295.7 197.0h.2M295.8 199.1h.2M295.8 199.1h.2M295.8 200.3h.2M295.9 194.5h.2M295.9 198.0h.2M296.0 196.0h.2M296.0 196.0h.2M296.0 195.1h.2M296.1 198.0h.2M296.1 193.9h.2M296.2 198.4h.2M296.2 191.6h.2M296.3 200.3h.2M296.3 196.3h.2M296.3 196.0h.2M296.4 197.7h.2M296.4 198.7h.2M296.5 195.7h.2M296.5 198.7h.2M296.5 199.5h.2M296.6 193.7h.2M296.6 191.9h.2M296.7 195.7h.2M296.7 196.0h.2M296.7 196.3h.2M296.8 193.9h.2M296.8 196.3h.2M296.9 193.4h.2M296.9 197.3h.2M297.0 195.4h.2M297.0 197.7h.2M297.0 193.7h.2M297.1 192.9h.2M297.1 195.1h.2M297.2 196.6h.2M297.2 196.3h.2M297.2 194.8h.2M297.3 196.3h.2M297.3 189.9h.2M297.4 192.1h.2M297.4 192.6h.2M297.5 190.1h.2M297.5 193.4h.2M297.5 194.2h.2M297.6 192.6h.2M297.6 197.0h.2M297.7 193.1h.2M297.7 198.0h.2M297.7 194.8h.2M297.8 194.2h.2M297.8 197.3h.2M297.9 196.0h.2M297.9 191.2h.2M298.0 194.2h.2M298.0 200.8h.2M298.0 191.9h.2M298.1 197.3h.2M298.1 193.7h.2M298.2 197.3h.2M298.2 197.7h.2M298.2 195.4h.2M298.3 197.7h.2M298.3 194.5h.2M298.4 194.5h.2M298.4 195.7h.2M298.5 194.8h.2M298.5 192.4h.2M298.5 194.5h.2M298.6 193.4h.2M298.6 196.6h.2M298.7 195.7h.2M298.7 203.6h.2M298.7 199.1h.2M298.8 193.7h.2M298.8 199.9h.2M298.9 198.0h.2M298.9 198.7h.2M298.9 197.7h.2M299.0 197.0h.2M299.0 196.6h.2M299.1 196.3h.2M299.1 197.0h.2M299.2 201.2h.2M299.2 192.1h.2M299.2 198.4h.2M299.3 197.3h.2M299.3 200.8h.2M299.4 200.3h.2M299.4 193.4h.2M299.4 202.1h.2M299.5 199.9h.2M299.5 196.6h.2M299.6 199.9h.2M299.6 201.6h.2M299.7 203.6h.2M299.7 201.2h.2M299.7 200.3h.2M299.8 200.3h.2M299.8 203.1h.2M299.9 200.8h.2M299.9 205.8h.2M299.9 199.9h.2M300.0 201.6h.2M300.0 199.9h.2M300.1 205.8h.2M300.1 200.8h.2M300.2 201.6h.2M300.2 206.4h.2M300.2 200.8h.2M300.3 200.8h.2M300.3 209.1h.2M300.4 197.0h.2M300.4 202.1h.2M300.4 199.5h.2M300.5 205.2h.2M300.5 197.7h.2M300.6 196.3h.2M300.6 204.1h.2M300.7 203.6h.2M300.7 207.7h.2M300.7 211.4h.2M300.8 206.4h.2M300.8 202.1h.2M300.9 199.9h.2M300.9 203.1h.2M300.9 208.3h.2M301.0 201.2h.2M301.0 207.0h.2M301.1 210.6h.2M301.1 205.8h.2M301.1 202.1h.2M301.2 209.1h.2M301.2 207.0h.2M301.3 199.9h.2M301.3 202.6h.2M301.4 203.6h.2M301.4 207.7h.2M301.4 205.2h.2M301.5 201.2h.2M301.5 205.8h.2M301.6 203.1h.2M301.6 204.6h.2M301.6 204.1h.2M301.7 202.1h.2M301.7 204.6h.2M301.8 198.7h.2M301.8 198.4h.2M301.9 201.6h.2M301.9 201.6h.2M301.9 209.8h.2M302.0 203.6h.2M302.0 206.4h.2M302.1 204.6h.2M302.1 206.4h.2M302.1 203.1h.2M302.2 196.6h.2M302.2 200.8h.2M302.3 198.7h.2M302.3 203.6h.2M302.4 202.6h.2M302.4 199.9h.2M302.4 204.6h.2M302.5 205.8h.2M302.5 204.1h.2M302.6 209.1h.2M302.6 206.4h.2M302.6 205.2h.2M302.7 202.1h.2M302.7 205.2h.2M302.8 206.4h.2M302.8 205.2h.2M302.8 203.1h.2M302.9 208.3h.2M302.9 199.9h.2M303.0 201.6h.2M303.0 204.1h.2M303.1 198.7h.2M303.1 198.7h.2M303.1 204.6h.2M303.2 201.6h.2M303.2 209.8h.2M303.3 201.2h.2M303.3 202.1h.2M303.3 197.3h.2M303.4 199.5h.2M303.4 199.9h.2M303.5 201.2h.2M303.5 203.1h.2M303.6 197.7h.2M303.6 199.9h.2M303.6 202.1h.2M303.7 202.1h.2M303.7 199.5h.2M303.8 199.5h.2M303.8 197.0h.2M303.8 200.3h.2M303.9 194.5h.2M303.9 195.7h.2M304.0 196.3h.2M304.0 196.3h.2M304.1 198.4h.2M304.1 194.8h.2M304.1 196.3h.2M304.2 197.3h.2M304.2 197.3h.2M304.3 196.3h.2M304.3 193.4h.2M304.3 199.1h.2M304.4 195.4h.2M304.4 197.7h.2M304.5 196.3h.2M304.5 199.1h.2M304.6 191.9h.2M304.6 194.8h.2M304.6 194.2h.2M304.7 193.7h.2M304.7 194.8h.2M304.8 199.5h.2M304.8 196.0h.2M304.8 196.3h.2M304.9 195.7h.2M304.9 191.6h.2M305.0 193.4h.2M305.0 192.4h.2M305.0 195.1h.2M305.1 190.5h.2M305.1 196.6h.2M305.2 192.6h.2M305.2 191.6h.2M305.3 187.7h.2M305.3 191.9h.2M305.3 190.5h.2M305.4 186.5h.2M305.4 192.9h.2M305.5 190.5h.2M305.5 192.6h.2M305.5 187.9h.2M305.6 190.3h.2M305.6 188.8h.2M305.7 191.2h.2M305.7 189.4h.2M305.8 188.1h.2M305.8 187.9h.2M305.8 192.1h.2M305.9 187.5h.2M305.9 190.3h.2M306.0 186.1h.2M306.0 193.7h.2M306.0 188.4h.2M306.1 189.0h.2M306.1 188.1h.2M306.2 185.8h.2M306.2 187.3h.2M306.3 190.7h.2M306.3 187.5h.2M306.3 186.6h.2M306.4 186.8h.2M306.4 183.5h.2M306.5 185.6h.2M306.5 187.0h.2M306.5 189.6h.2M306.6 185.0h.2M306.6 187.0h.2M306.7 183.3h.2M306.7 186.6h.2M306.8 184.5h.2M306.8 184.2h.2M306.8 183.7h.2M306.9 182.2h.2M306.9 183.5h.2M307.0 186.5h.2M307.0 184.5h.2M307.0 183.4h.2M307.1 183.4h.2M307.1 182.2h.2M307.2 183.4h.2M307.2 179.8h.2M307.2 183.0h.2M307.3 181.0h.2M307.3 184.4h.2M307.4 183.4h.2M307.4 183.7h.2M307.5 183.4h.2M307.5 180.7h.2M307.5 184.7h.2M307.6 185.5h.2M307.6 182.2h.2M307.7 180.4h.2M307.7 182.3h.2M307.7 178.7h.2M307.8 180.5h.2M307.8 178.2h.2M307.9 179.4h.2M307.9 179.7h.2M308.0 178.7h.2M308.0 178.0h.2M308.0 179.8h.2M308.1 178.5h.2M308.1 179.6h.2M308.2 179.1h.2M308.2 182.1h.2M308.2 180.6h.2M308.3 179.0h.2M308.3 177.4h.2M308.4 177.8h.2M308.4 178.7h.2M308.5 177.4h.2M308.5 176.3h.2M308.5 179.3h.2M308.6 178.4h.2M308.6 181.7h.2M308.7 177.5h.2M308.7 179.1h.2M308.7 179.2h.2M308.8 179.1h.2M308.8 180.8h.2M308.9 178.2h.2M308.9 178.4h.2M308.9 176.4h.2M309.0 181.2h.2M309.0 181.7h.2M309.1 184.5h.2M309.1 182.7h.2M309.2 185.3h.2M309.2 187.7h.2M309.2 189.0h.2M309.3 186.3h.2M309.3 187.5h.2M309.4 189.0h.2M309.4 189.9h.2M309.4 194.8h.2M309.5 188.2h.2M309.5 193.4h.2M309.6 193.7h.2M309.6 199.1h.2M309.7 197.3h.2M309.7 195.4h.2M309.7 199.9h.2M309.8 198.0h.2M309.8 197.0h.2M309.9 199.5h.2M309.9 201.6h.2M309.9 201.6h.2M310.0 203.6h.2M310.0 202.6h.2M310.1 205.8h.2M310.1 212.3h.2M310.2 199.1h.2M310.2 204.1h.2M310.2 209.8h.2M310.3 209.8h.2M310.3 215.3h.2M310.4 231.2h.2M310.4 201.2h.2M310.4 223.9h.2M310.5 217.7h.2M310.5 220.5h.2M310.6 222.1h.2M310.6 222.1h.2M310.7 231.2h.2M310.7 219.0h.2M310.7 231.2h.2M310.8 223.9h.2M310.8 216.5h.2M310.9 217.7h.2M310.9 223.9h.2M310.9 228.4h.2M311.0 231.2h.2M311.0 226.0h.2M311.1 216.5h.2M311.1 228.4h.2M311.1 220.5h.2M311.2 228.4h.2M311.2 222.1h.2M311.3 220.5h.2M311.3 228.4h.2M311.4 226.0h.2M311.4 216.5h.2M311.4 220.5h.2M311.5 234.6h.2M311.5 228.4h.2M311.6 222.1h.2M311.6 234.6h.2M311.6 231.2h.2M311.7 216.5h.2M311.7 255.6h.2M311.8 239.1h.2M311.8 245.3h.2M311.9 220.5h.2M311.9 234.6h.2M311.9 231.2h.2M312.0 226.0h.2M312.0 228.4h.2M312.1 239.1h.2M312.1 228.4h.2M312.1 255.6h.2M312.2 255.6h.2M312.2 226.0h.2M312.3 239.1h.2M312.3 226.0h.2M312.4 245.3h.2M312.4 226.0h.2M312.4 223.9h.2M312.5 228.4h.2M312.5 223.9h.2M312.6 226.0h.2M312.6 234.6h.2M312.6 231.2h.2M312.7 226.0h.2M312.7 255.6h.2M312.8 231.2h.2M312.8 231.2h.2M312.9 223.9h.2M312.9 231.2h.2M312.9 228.4h.2M313.0 255.6h.2M313.0 231.2h.2M313.1 245.3h.2M313.1 231.2h.2M313.1 239.1h.2M313.2 239.1h.2M313.2 231.2h.2M313.3 234.6h.2M313.3 255.6h.2M313.3 234.6h.2M313.4 226.0h.2M313.4 255.6h.2M313.5 231.2h.2M313.5 228.4h.2M313.6 222.1h.2M313.6 222.1h.2M313.6 220.5h.2M313.7 255.6h.2M313.7 234.6h.2M313.8 222.1h.2M313.8 215.3h.2M313.8 222.1h.2M313.9 223.9h.2M313.9 223.9h.2M314.0 231.2h.2M314.0 217.7h.2M314.1 220.5h.2M314.1 223.9h.2M314.1 239.1h.2M314.2 228.4h.2M314.2 228.4h.2M314.3 226.0h.2M314.3 239.1h.2M314.3 216.5h.2M314.4 226.0h.2M314.4 228.4h.2M314.5 245.3h.2M314.5 226.0h.2M314.6 231.2h.2M314.6 239.1h.2M314.6 231.2h.2M314.7 223.9h.2M314.7 228.4h.2M314.8 219.0h.2M314.8 222.1h.2M314.8 239.1h.2M314.9 226.0h.2M314.9 219.0h.2M315.0 226.0h.2M315.0 222.1h.2M315.0 226.0h.2M315.1 220.5h.2M315.2 219.0h.2M315.2 234.6h.2M315.3 212.3h.2M315.3 228.4h.2M315.3 223.9h.2M315.4 239.1h.2M315.4 223.9h.2M315.5 217.7h.2M315.5 219.0h.2M315.5 234.6h.2M315.6 217.7h.2M315.6 231.2h.2M315.7 223.9h.2M315.7 234.6h.2M315.8 228.4h.2M315.8 231.2h.2M315.8 239.1h.2M315.9 215.3h.2M315.9 231.2h.2M316.0 219.0h.2M316.0 234.6h.2M316.0 231.2h.2M316.1 222.1h.2M316.1 220.5h.2M316.2 222.1h.2M316.2 211.4h.2M316.3 217.7h.2M316.3 223.9h.2M316.3 222.1h.2M316.4 222.1h.2M316.4 212.3h.2M316.5 228.4h.2M316.5 217.7h.2M316.5 217.7h.2M316.6 234.6h.2M316.6 228.4h.2M316.7 231.2h.2M316.7 226.0h.2M316.8 223.9h.2M316.8 231.2h.2M316.8 226.0h.2M316.9 222.1h.2M316.9 217.7h.2M317.0 215.3h.2M317.0 255.6h.2M317.0 222.1h.2M317.1 222.1h.2M317.1 223.9h.2M317.2 234.6h.2M317.2 231.2h.2M317.2 226.0h.2M317.3 215.3h.2M317.3 223.9h.2M317.4 223.9h.2M317.4 223.9h.2M317.5 219.0h.2M317.5 219.0h.2M317.5 220.5h.2M317.6 217.7h.2M317.6 223.9h.2M317.7 213.3h.2M317.7 220.5h.2M317.7 226.0h.2M317.8 222.1h.2M317.8 219.0h.2M317.9 228.4h.2M317.9 217.7h.2M318.0 215.3h.2M318.0 245.3h.2M318.0 214.2h.2M318.1 231.2h.2M318.1 222.1h.2M318.2 223.9h.2M318.2 214.2h.2M318.2 219.0h.2M318.3 216.5h.2M318.3 239.1h.2M318.4 219.0h.2M318.4 207.7h.2M318.5 223.9h.2M318.5 226.0h.2M318.5 226.0h.2M318.6 217.7h.2M318.6 231.2h.2M318.7 226.0h.2M318.7 217.7h.2M318.7 209.8h.2M318.8 220.5h.2M318.8 217.7h.2M318.9 231.2h.2M318.9 217.7h.2M319.0 223.9h.2M319.0 220.5h.2M319.0 209.8h.2M319.1 217.7h.2M319.1 223.9h.2M319.2 228.4h.2M319.2 220.5h.2M319.2 217.7h.2M319.3 220.5h.2M319.3 217.7h.2M319.4 213.3h.2M319.4 223.9h.2M319.4 226.0h.2M319.5 222.1h.2M319.5 226.0h.2M319.6 215.3h.2M319.6 214.2h.2M319.7 209.8h.2M319.7 226.0h.2M319.7 210.6h.2M319.8 245.3h.2M319.8 220.5h.2M319.9 214.2h.2M319.9 234.6h.2M319.9 220.5h.2M320.0 220.5h.2M320.0 223.9h.2M320.1 216.5h.2M320.1 220.5h.2M320.2 212.3h.2M320.2 217.7h.2M320.2 211.4h.2M320.3 216.5h.2M320.3 211.4h.2M320.4 222.1h.2M320.4 215.3h.2M320.4 219.0h.2M320.5 214.2h.2M320.5 216.5h.2M320.6 214.2h.2M320.6 228.4h.2M320.7 216.5h.2M320.7 226.0h.2M320.7 231.2h.2M320.8 222.1h.2M320.8 215.3h.2M320.9 207.7h.2M320.9 217.7h.2M320.9 213.3h.2M321.0 212.3h.2M321.0 205.2h.2M321.1 215.3h.2M321.1 217.7h.2M321.1 209.8h.2M321.2 216.5h.2M321.2 214.2h.2M321.3 213.3h.2M321.3 213.3h.2M321.4 216.5h.2M321.4 216.5h.2M321.4 215.3h.2M321.5 214.2h.2M321.5 205.2h.2M321.6 207.7h.2M321.6 212.3h.2M321.6 219.0h.2M321.7 211.4h.2M321.7 220.5h.2M321.8 211.4h.2M321.8 231.2h.2M321.9 217.7h.2M321.9 213.3h.2M321.9 214.2h.2M322.0 216.5h.2M322.0 203.1h.2M322.1 209.1h.2M322.1 213.3h.2M322.1 211.4h.2M322.2 207.7h.2M322.2 213.3h.2M322.3 211.4h.2M322.3 211.4h.2M322.4 215.3h.2M322.4 207.0h.2M322.4 219.0h.2M322.5 213.3h.2M322.5 211.4h.2M322.6 210.6h.2M322.6 208.3h.2M322.6 213.3h.2M322.7 213.3h.2M322.7 212.3h.2M322.8 212.3h.2M322.8 208.3h.2M322.9 207.7h.2M322.9 215.3h.2M322.9 212.3h.2M323.0 208.3h.2M323.0 211.4h.2M323.1 206.4h.2M323.1 216.5h.2M323.1 216.5h.2M323.2 208.3h.2M323.2 217.7h.2M323.3 204.1h.2M323.3 202.6h.2M323.3 216.5h.2M323.4 212.3h.2M323.4 210.6h.2M323.5 215.3h.2M323.5 209.8h.2M323.6 223.9h.2M323.6 213.3h.2M323.6 203.1h.2M323.7 206.4h.2M323.7 203.6h.2M323.8 203.1h.2M323.8 211.4h.2M323.8 205.2h.2M323.9 207.7h.2M323.9 204.1h.2M324.0 205.2h.2M324.0 205.8h.2M324.1 210.6h.2M324.1 210.6h.2M324.1 207.7h.2M324.2 209.1h.2M324.2 204.1h.2M324.3 202.6h.2M324.3 203.1h.2M324.3 201.6h.2M324.4 202.1h.2M324.4 207.7h.2M324.5 205.8h.2M324.5 204.1h.2M324.6 219.0h.2M324.6 209.8h.2M324.6 213.3h.2M324.7 214.2h.2M324.7 208.3h.2M324.8 209.1h.2M324.8 206.4h.2M324.8 207.0h.2M324.9 209.8h.2M324.9 213.3h.2M325.0 206.4h.2M325.0 200.8h.2M325.1 202.6h.2M325.1 199.5h.2M325.1 205.2h.2M325.2 204.6h.2M325.2 208.3h.2M325.3 205.8h.2M325.3 207.7h.2M325.3 206.4h.2M325.4 204.6h.2M325.4 199.1h.2M325.5 207.0h.2M325.5 203.1h.2M325.5 201.2h.2M325.6 205.8h.2M325.6 205.8h.2M325.7 209.8h.2M325.7 199.1h.2M325.8 203.1h.2M325.8 206.4h.2M325.8 196.3h.2M325.9 206.4h.2M325.9 210.6h.2M326.0 205.2h.2M326.0 201.2h.2M326.0 199.1h.2M326.1 204.6h.2M326.1 213.3h.2M326.2 200.8h.2M326.2 203.1h.2M326.3 203.1h.2M326.3 203.6h.2M326.3 196.0h.2M326.4 211.4h.2M326.4 203.6h.2M326.5 196.0h.2M326.5 198.4h.2M326.5 202.6h.2M326.6 201.2h.2M326.6 197.0h.2M326.7 199.9h.2M326.7 196.0h.2M326.8 200.3h.2M326.8 201.6h.2M326.8 200.8h.2M326.9 198.7h.2M326.9 198.7h.2M327.0 198.4h.2M327.0 199.5h.2M327.0 200.3h.2M327.1 197.0h.2M327.1 205.2h.2M327.2 198.0h.2M327.2 198.7h.2M327.2 197.0h.2M327.3 202.6h.2M327.3 200.8h.2M327.4 203.1h.2M327.4 203.6h.2M327.5 196.6h.2M327.5 196.3h.2M327.5 196.3h.2M327.6 197.7h.2M327.6 197.7h.2M327.7 199.5h.2M327.7 196.6h.2M327.7 196.6h.2M327.8 194.5h.2M327.8 193.7h.2M327.9 198.4h.2M327.9 196.6h.2M328.0 194.8h.2M328.0 197.3h.2M328.0 193.9h.2M328.1 198.0h.2M328.1 194.8h.2M328.2 197.7h.2M328.2 194.5h.2M328.2 197.3h.2M328.3 195.4h.2M328.3 196.6h.2M328.4 195.4h.2M328.4 196.3h.2M328.5 195.4h.2M328.5 189.4h.2M328.5 193.7h.2M328.6 193.9h.2M328.6 193.9h.2M328.7 193.4h.2M328.7 191.6h.2M328.7 195.4h.2M328.8 191.2h.2M328.8 192.9h.2M328.9 192.9h.2M328.9 191.4h.2M329.0 194.5h.2M329.0 190.1h.2M329.0 193.7h.2M329.1 190.3h.2M329.1 190.5h.2M329.2 192.6h.2M329.2 191.9h.2M329.2 192.9h.2M329.3 193.1h.2M329.3 190.9h.2M329.4 190.3h.2M329.4 188.1h.2M329.4 190.3h.2M329.5 192.4h.2M329.5 188.2h.2M329.6 189.4h.2M329.6 188.6h.2M329.7 190.9h.2M329.7 187.1h.2M329.7 191.9h.2M329.8 186.5h.2M329.8 188.2h.2M329.9 190.9h.2M329.9 184.1h.2M329.9 188.8h.2M330.0 187.7h.2M330.0 186.6h.2M330.1 188.6h.2M330.1 189.6h.2M330.2 187.9h.2M330.2 191.9h.2M330.2 190.1h.2M330.3 186.8h.2M330.3 189.0h.2M330.4 186.3h.2M330.4 185.0h.2M330.4 187.0h.2M330.5 185.0h.2M330.5 186.8h.2M330.6 186.3h.2M330.6 183.3h.2M330.7 183.7h.2M330.7 186.5h.2M330.7 182.8h.2M330.8 183.5h.2M330.8 183.8h.2M330.9 184.7h.2M330.9 184.1h.2M330.9 183.8h.2M331.0 183.8h.2M331.0 184.1h.2M331.1 184.1h.2M331.1 184.8h.2M331.2 182.4h.2M331.2 182.2h.2M331.2 186.1h.2M331.3 182.2h.2M331.3 181.8h.2M331.4 180.6h.2M331.4 180.8h.2M331.4 181.0h.2M331.5 181.8h.2M331.5 178.5h.2M331.6 179.1h.2M331.6 182.3h.2M331.6 181.1h.2M331.7 183.8h.2M331.7 179.9h.2M331.8 179.2h.2M331.8 180.5h.2M331.9 177.9h.2M331.9 180.5h.2M331.9 181.6h.2M332.0 176.7h.2M332.0 179.1h.2M332.1 179.1h.2M332.1 180.1h.2M332.1 180.5h.2M332.2 179.3h.2M332.2 181.6h.2M332.3 178.2h.2M332.3 179.5h.2M332.4 176.5h.2M332.4 181.6h.2M332.4 179.9h.2M332.5 179.4h.2M332.5 179.7h.2M332.6 180.8h.2M332.6 178.3h.2M332.6 179.7h.2M332.7 180.0h.2M332.7 180.8h.2M332.8 177.8h.2M332.8 178.2h.2M332.9 180.8h.2M332.9 183.8h.2M332.9 180.7h.2M333.0 180.6h.2M333.0 179.5h.2M333.1 181.8h.2M333.1 182.2h.2M333.1 181.0h.2M333.2 181.3h.2M333.2 182.7h.2M333.3 183.0h.2M333.3 186.8h.2M333.3 187.9h.2M333.4 184.5h.2M333.4 190.3h.2M333.5 190.7h.2M333.5 189.0h.2M333.6 193.9h.2M333.6 190.9h.2M333.6 191.4h.2M333.7 191.4h.2M333.7 192.1h.2M333.8 194.8h.2M333.8 197.3h.2M333.8 196.6h.2M333.9 196.3h.2M333.9 201.6h.2M334.0 198.7h.2M334.0 200.8h.2M334.1 199.5h.2M334.1 201.2h.2M334.1 200.3h.2M334.2 204.6h.2M334.2 209.1h.2M334.3 201.2h.2M334.3 204.1h.2M334.3 205.8h.2M334.4 209.1h.2M334.4 211.4h.2M334.5 199.9h.2M334.5 204.6h.2M334.6 217.7h.2M334.6 220.5h.2M334.6 209.8h.2M334.7 210.6h.2M334.7 213.3h.2M334.8 216.5h.2M334.8 223.9h.2M334.8 231.2h.2M334.9 209.8h.2M334.9 209.1h.2M335.0 215.3h.2M335.0 219.0h.2M335.1 223.9h.2M335.1 216.5h.2M335.1 220.5h.2M335.2 223.9h.2M335.2 234.6h.2M335.3 222.1h.2M335.3 231.2h.2M335.3 223.9h.2M335.4 239.1h.2M335.4 231.2h.2M335.5 226.0h.2M335.5 214.2h.2M335.5 234.6h.2M335.6 228.4h.2M335.6 255.6h.2M335.7 226.0h.2M335.7 231.2h.2M335.8 245.3h.2M335.9 239.1h.2M335.9 245.3h.2M336.0 239.1h.2M336.1 245.3h.2M336.1 245.3h.2M336.2 239.1h.2M336.3 245.3h.2M336.3 239.1h.2M336.3 223.9h.2M336.4 228.4h.2M336.4 255.6h.2M336.5 255.6h.2M336.5 255.6h.2M336.5 234.6h.2M336.6 245.3h.2M336.8 239.1h.2M336.8 255.6h.2M336.8 245.3h.2M336.9 228.4h.2M336.9 239.1h.2M337.0 239.1h.2M337.0 255.6h.2M337.1 245.3h.2M337.1 255.6h.2M337.2 239.1h.2M337.2 239.1h.2M337.3 245.3h.2M337.3 239.1h.2M337.3 255.6h.2M337.4 234.6h.2M337.4 255.6h.2M337.5 255.6h.2M337.5 239.1h.2M337.5 245.3h.2M337.6 239.1h.2M337.7 245.3h.2M337.7 255.6h.2M337.7 245.3h.2M337.8 234.6h.2M337.9 255.6h.2M337.9 245.3h.2M338.0 245.3h.2M338.0 255.6h.2M338.1 239.1h.2M338.1 245.3h.2M338.2 255.6h.2M338.2 255.6h.2M338.3 245.3h.2M338.3 255.6h.2M338.4 239.1h.2M338.4 245.3h.2M338.5 239.1h.2M338.5 245.3h.2M338.5 234.6h.2M338.6 234.6h.2M338.7 245.3h.2M338.7 255.6h.2M338.8 239.1h.2M338.8 245.3h.2M338.9 245.3h.2M338.9 245.3h.2M339.0 255.6h.2M339.0 239.1h.2M339.0 245.3h.2M339.1 255.6h.2M339.1 228.4h.2M339.2 255.6h.2M339.2 245.3h.2M339.3 234.6h.2M339.3 245.3h.2M339.4 255.6h.2M339.4 255.6h.2M339.5 239.1h.2M339.6 239.1h.2M339.6 239.1h.2M339.7 239.1h.2M339.7 255.6h.2M339.8 239.1h.2M339.8 245.3h.2M339.9 255.6h.2M339.9 239.1h.2M340.0 239.1h.2M340.0 245.3h.2M340.1 245.3h.2M340.1 255.6h.2M340.2 245.3h.2M340.2 245.3h.2M340.3 255.6h.2M340.3 255.6h.2M340.4 239.1h.2M340.4 239.1h.2M340.5 239.1h.2M340.5 234.6h.2M340.6 231.2h.2M340.7 245.3h.2M340.7 255.6h.2M340.7 234.6h.2M340.8 255.6h.2M341.0 255.6h.2M341.0 231.2h.2M341.1 234.6h.2M341.1 228.4h.2M341.2 245.3h.2M341.2 239.1h.2M341.2 255.6h.2M341.3 239.1h.2M341.4 255.6h.2M341.4 255.6h.2M341.4 234.6h.2M341.5 239.1h.2M341.5 234.6h.2M341.6 255.6h.2M341.6 255.6h.2M341.6 239.1h.2M341.7 255.6h.2M341.7 245.3h.2M341.8 255.6h.2M341.9 239.1h.2M341.9 255.6h.2M341.9 255.6h.2M342.0 239.1h.2M342.0 228.4h.2M342.2 255.6h.2M342.3 239.1h.2M342.4 255.6h.2M342.4 255.6h.2M342.4 245.3h.2M342.5 255.6h.2M342.5 245.3h.2M342.6 255.6h.2M342.6 239.1h.2M342.6 231.2h.2M342.7 255.6h.2M342.8 255.6h.2M342.9 255.6h.2M342.9 245.3h.2M343.0 255.6h.2M343.0 239.1h.2M343.1 245.3h.2M343.3 239.1h.2M343.3 245.3h.2M343.4 245.3h.2M343.5 255.6h.2M343.5 255.6h.2M343.6 255.6h.2M343.6 239.1h.2M343.7 255.6h.2M343.7 239.1h.2M343.8 245.3h.2M343.8 245.3h.2M343.8 234.6h.2M343.9 255.6h.2M344.0 255.6h.2M344.1 239.1h.2M344.1 245.3h.2M344.1 234.6h.2M344.2 255.6h.2M344.3 255.6h.2M344.3 255.6h.2M344.4 245.3h.2M344.5 239.1h.2M344.5 255.6h.2M344.6 245.3h.2M344.6 255.6h.2M344.6 245.3h.2M344.7 255.6h.2M344.7 255.6h.2M344.8 239.1h.2M344.8 245.3h.2M344.8 245.3h.2M344.9 239.1h.2M344.9 239.1h.2M345.0 245.3h.2M345.1 245.3h.2M345.1 234.6h.2M345.1 239.1h.2M345.2 255.6h.2M345.2 239.1h.2M345.3 245.3h.2M345.4 234.6h.2M345.4 245.3h.2M345.5 245.3h.2M345.6 234.6h.2M345.7 255.6h.2M345.8 239.1h.2M345.8 239.1h.2M345.8 239.1h.2M345.9 245.3h.2M345.9 255.6h.2M346.0 255.6h.2M346.0 255.6h.2M346.0 255.6h.2M346.1 234.6h.2M346.2 245.3h.2M346.2 239.1h.2M346.3 239.1h.2M346.4 255.6h.2M346.4 255.6h.2M346.5 234.6h.2M346.5 231.2h.2M346.5 245.3h.2M346.6 231.2h.2M346.6 231.2h.2M346.7 255.6h.2M346.7 245.3h.2M346.8 245.3h.2M346.8 255.6h.2M346.9 245.3h.2M347.0 255.6h.2M347.2 255.6h.2M347.3 234.6h.2M347.3 245.3h.2M347.4 245.3h.2M347.4 228.4h.2M347.5 239.1h.2M347.5 245.3h.2M347.6 255.6h.2M347.6 239.1h.2M347.7 255.6h.2M347.8 245.3h.2M347.9 255.6h.2M347.9 255.6h.2M348.0 255.6h.2M348.0 234.6h.2M348.0 255.6h.2M348.1 245.3h.2M348.2 255.6h.2M348.2 234.6h.2M348.2 255.6h.2M348.3 245.3h.2M348.3 234.6h.2M348.4 255.6h.2M348.5 245.3h.2M348.5 245.3h.2M348.6 255.6h.2M348.6 255.6h.2M348.7 245.3h.2M348.9 255.6h.2M348.9 255.6h.2M349.0 234.6h.2M349.0 255.6h.2M349.0 223.9h.2M349.1 245.3h.2M349.2 234.6h.2M349.2 234.6h.2M349.2 234.6h.2M349.3 245.3h.2M349.3 239.1h.2M349.4 239.1h.2M349.5 245.3h.2M349.5 245.3h.2M349.5 245.3h.2M349.6 239.1h.2M349.7 255.6h.2M349.7 245.3h.2M349.8 255.6h.2M349.9 255.6h.2M349.9 255.6h.2M349.9 255.6h.2M350.0 245.3h.2M350.1 255.6h.2M350.1 255.6h.2M350.2 245.3h.2M350.2 255.6h.2M350.2 255.6h.2M350.3 245.3h.2M350.3 234.6h.2M350.4 239.1h.2M350.4 234.6h.2M350.4 231.2h.2M350.5 255.6h.2M350.6 234.6h.2M350.6 255.6h.2M350.7 245.3h.2M350.7 245.3h.2M350.7 245.3h.2M350.8 255.6h.2M350.8 234.6h.2M350.9 255.6h.2M350.9 255.6h.2M351.0 255.6h.2M351.1 255.6h.2M351.1 245.3h.2M351.2 245.3h.2M351.3 228.4h.2M351.3 245.3h.2M351.4 255.6h.2M351.4 239.1h.2M351.5 255.6h.2M351.5 239.1h.2M351.6 245.3h.2M351.6 234.6h.2M351.6 255.6h.2M351.7 245.3h.2M351.7 255.6h.2M351.8 245.3h.2M351.9 239.1h.2M351.9 245.3h.2M352.0 245.3h.2M352.1 228.4h.2M352.1 245.3h.2M352.2 245.3h.2M352.2 255.6h.2M352.3 255.6h.2M352.4 255.6h.2M352.4 239.1h.2M352.4 255.6h.2M352.5 239.1h.2M352.5 239.1h.2M352.6 231.2h.2M352.6 255.6h.2M352.6 239.1h.2M352.7 245.3h.2M352.7 239.1h.2M352.8 234.6h.2M352.8 255.6h.2M352.9 255.6h.2M352.9 245.3h.2M352.9 245.3h.2M353.0 239.1h.2M353.1 245.3h.2M353.1 255.6h.2M353.1 255.6h.2M353.2 255.6h.2M353.3 255.6h.2M353.3 255.6h.2M353.4 255.6h.2M353.4 223.9h.2M353.4 255.6h.2M353.5 234.6h.2M353.6 245.3h.2M353.6 239.1h.2M353.7 245.3h.2M353.7 245.3h.2M353.8 245.3h.2M353.8 234.6h.2M353.8 245.3h.2M353.9 239.1h.2M353.9 239.1h.2M354.0 255.6h.2M354.0 255.6h.2M354.1 255.6h.2M354.1 245.3h.2M354.2 255.6h.2M354.3 234.6h.2M354.3 231.2h.2M354.3 255.6h.2M354.4 245.3h.2M354.4 245.3h.2M354.5 245.3h.2M354.5 245.3h.2M354.6 255.6h.2M354.8 234.6h.2M354.8 255.6h.2M354.8 255.6h.2M354.9 245.3h.2M354.9 245.3h.2M355.0 228.4h.2M355.1 234.6h.2M355.1 234.6h.2M355.2 226.0h.2M355.2 234.6h.2M355.3 239.1h.2M355.3 245.3h.2M355.4 234.6h.2M355.5 255.6h.2M355.5 245.3h.2M355.6 245.3h.2M355.6 239.1h.2M355.6 231.2h.2M355.7 255.6h.2M355.7 255.6h.2M355.8 255.6h.2M355.8 245.3h.2M355.8 239.1h.2M355.9 245.3h.2M355.9 239.1h.2M356.0 245.3h.2M356.0 234.6h.2M356.1 245.3h.2M356.2 255.6h.2M356.2 239.1h.2M356.3 234.6h.2M356.3 255.6h.2M356.4 245.3h.2M356.4 234.6h.2M356.5 239.1h.2M356.5 245.3h.2M356.5 255.6h.2M356.6 245.3h.2M356.6 245.3h.2M356.7 255.6h.2M356.7 245.3h.2M356.8 239.1h.2M356.8 255.6h.2M356.8 231.2h.2M356.9 234.6h.2M356.9 255.6h.2M357.0 239.1h.2M357.0 239.1h.2M357.0 245.3h.2M357.1 255.6h.2M357.1 255.6h.2M357.2 255.6h.2M357.3 239.1h.2M357.3 245.3h.2M357.3 255.6h.2M357.4 255.6h.2M357.4 239.1h.2M357.5 231.2h.2M357.5 245.3h.2M357.5 245.3h.2M357.6 255.6h.2M357.6 239.1h.2M357.7 234.6h.2M357.7 255.6h.2M357.7 255.6h.2M357.9 245.3h.2M357.9 245.3h.2M358.0 231.2h.2M358.0 245.3h.2M358.1 228.4h.2M358.2 255.6h.2M358.2 239.1h.2M358.3 239.1h.2M358.3 245.3h.2M358.4 245.3h.2M358.4 239.1h.2M358.5 245.3h.2M358.5 255.6h.2M358.6 255.6h.2M358.7 255.6h.2M358.7 245.3h.2M358.7 239.1h.2M358.8 245.3h.2M358.9 255.6h.2M358.9 239.1h.2M359.0 255.6h.2M359.0 239.1h.2M359.1 255.6h.2M359.1 245.3h.2M359.2 245.3h.2M359.2 255.6h.2M359.2 226.0h.2M359.3 245.3h.2M359.3 239.1h.2M359.4 239.1h.2M359.4 239.1h.2M359.5 234.6h.2M359.5 245.3h.2M359.5 255.6h.2M359.6 255.6h.2M359.6 239.1h.2M359.7 245.3h.2M359.8 239.1h.2M359.8 234.6h.2M359.9 245.3h.2M360.0 239.1h.2M360.0 226.0h.2M360.1 239.1h.2M360.1 234.6h.2M360.2 255.6h.2M360.2 245.3h.2M360.4 255.6h.2M360.4 255.6h.2M360.4 245.3h.2M360.5 239.1h.2M360.5 255.6h.2M360.6 255.6h.2M360.6 231.2h.2M360.7 231.2h.2M360.7 228.4h.2M360.8 255.6h.2M360.8 255.6h.2M360.9 255.6h.2M360.9 255.6h.2M360.9 226.0h.2M361.0 234.6h.2M361.0 234.6h.2M361.1 220.5h.2M361.1 234.6h.2M361.2 255.6h.2M361.2 255.6h.2M361.3 245.3h.2M361.3 245.3h.2M361.4 234.6h.2M361.4 245.3h.2M361.6 245.3h.2M361.6 255.6h.2M361.7 228.4h.2M361.7 255.6h.2M361.7 255.6h.2M361.8 239.1h.2M361.8 255.6h.2M361.9 255.6h.2M361.9 245.3h.2M362.0 255.6h.2M362.0 231.2h.2M362.1 255.6h.2M362.1 239.1h.2M362.2 239.1h.2M362.2 234.6h.2M362.3 231.2h.2M362.4 231.2h.2M362.4 255.6h.2M362.5 245.3h.2M362.5 255.6h.2M362.6 255.6h.2M362.6 239.1h.2M362.6 245.3h.2M362.7 245.3h.2M362.7 239.1h.2M362.8 245.3h.2M362.8 245.3h.2M362.9 245.3h.2M362.9 255.6h.2M362.9 245.3h.2M363.0 234.6h.2M363.0 245.3h.2M363.1 245.3h.2M363.1 245.3h.2M363.1 234.6h.2M363.2 234.6h.2M363.2 245.3h.2M363.3 245.3h.2M363.3 239.1h.2M363.4 245.3h.2M363.4 234.6h.2M363.5 239.1h.2M363.5 245.3h.2M363.6 245.3h.2M363.6 239.1h.2M363.6 245.3h.2M363.8 255.6h.2M363.8 255.6h.2M363.8 245.3h.2M363.9 255.6h.2M363.9 255.6h.2M364.0 228.4h.2M364.0 255.6h.2M364.1 231.2h.2M364.1 234.6h.2M364.2 245.3h.2M364.3 245.3h.2M364.3 231.2h.2M364.4 245.3h.2M364.4 255.6h.2M364.5 255.6h.2M364.5 234.6h.2M364.6 255.6h.2M364.6 255.6h.2M364.7 245.3h.2M364.7 239.1h.2M364.8 231.2h.2M364.8 255.6h.2M364.9 245.3h.2M364.9 234.6h.2M365.0 255.6h.2M365.0 245.3h.2M365.1 226.0h.2M365.1 255.6h.2M365.2 245.3h.2M365.2 234.6h.2M365.3 245.3h.2M365.3 245.3h.2M365.4 239.1h.2M365.4 245.3h.2M365.5 255.6h.2M365.6 255.6h.2M365.6 255.6h.2M365.7 255.6h.2M365.8 255.6h.2M365.8 255.6h.2M365.9 245.3h.2M365.9 245.3h.2M366.0 231.2h.2M366.0 255.6h.2M366.0 255.6h.2M366.1 255.6h.2M366.2 245.3h.2M366.2 245.3h.2M366.3 255.6h.2M366.3 245.3h.2M366.3 255.6h.2M366.4 226.0h.2M366.4 239.1h.2M366.5 255.6h.2M366.5 234.6h.2M366.5 234.6h.2M366.6 255.6h.2M366.6 231.2h.2M366.7 255.6h.2M366.7 245.3h.2M366.8 255.6h.2M366.8 255.6h.2M366.8 239.1h.2M366.9 245.3h.2M366.9 234.6h.2M367.0 222.1h.2M367.0 231.2h.2M367.1 234.6h.2M367.2 239.1h.2M367.3 234.6h.2M367.3 255.6h.2M367.3 245.3h.2M367.4 255.6h.2M367.5 255.6h.2M367.5 255.6h.2M367.5 239.1h.2M367.6 245.3h.2M367.6 255.6h.2M367.7 255.6h.2M367.7 239.1h.2M367.8 255.6h.2M367.8 239.1h.2M367.8 245.3h.2M367.9 255.6h.2M368.0 245.3h.2M368.0 231.2h.2M368.0 245.3h.2M368.1 255.6h.2M368.2 255.6h.2M368.3 231.2h.2M368.3 245.3h.2M368.4 228.4h.2M368.5 255.6h.2M368.5 255.6h.2M368.5 245.3h.2M368.6 245.3h.2M368.6 245.3h.2M368.7 239.1h.2M368.7 234.6h.2M368.7 234.6h.2M368.8 255.6h.2M368.8 245.3h.2M368.9 239.1h.2M369.0 255.6h.2M369.0 245.3h.2M369.0 228.4h.2M369.1 245.3h.2M369.1 226.0h.2M369.2 231.2h.2M369.2 255.6h.2M369.3 255.6h.2M369.3 234.6h.2M369.4 255.6h.2M369.5 239.1h.2M369.5 255.6h.2M369.5 255.6h.2M369.6 228.4h.2M369.6 231.2h.2M369.7 231.2h.2M369.7 234.6h.2M369.8 234.6h.2M369.9 239.1h.2M369.9 239.1h.2M370.0 255.6h.2M370.1 245.3h.2M370.1 255.6h.2M370.3 239.1h.2M370.4 255.6h.2M370.4 231.2h.2M370.5 226.0h.2M370.6 234.6h.2M370.6 245.3h.2M370.7 239.1h.2M370.7 245.3h.2M370.8 239.1h.2M370.8 239.1h.2M370.9 228.4h.2M370.9 239.1h.2M371.0 231.2h.2M371.1 245.3h.2M371.2 255.6h.2M371.2 231.2h.2M371.2 255.6h.2M371.3 245.3h.2M371.3 239.1h.2M371.4 255.6h.2M371.4 239.1h.2M371.5 255.6h.2M371.5 231.2h.2M371.6 255.6h.2M371.6 234.6h.2M371.7 245.3h.2M371.8 255.6h.2M371.9 255.6h.2M371.9 231.2h.2M371.9 231.2h.2M372.0 245.3h.2M372.1 239.1h.2M372.1 245.3h.2M372.2 228.4h.2M372.2 239.1h.2M372.3 234.6h.2M372.3 239.1h.2M372.4 231.2h.2M372.4 239.1h.2M372.4 245.3h.2M372.5 245.3h.2M372.6 234.6h.2M372.6 245.3h.2M372.6 245.3h.2M372.7 245.3h.2M372.7 239.1h.2M372.8 245.3h.2M372.9 239.1h.2M373.0 245.3h.2M373.1 228.4h.2M373.1 255.6h.2M373.2 255.6h.2M373.3 245.3h.2M373.3 239.1h.2M373.4 234.6h.2M373.4 255.6h.2M373.4 234.6h.2M373.5 255.6h.2M373.5 239.1h.2M373.6 255.6h.2M373.6 234.6h.2M373.6 234.6h.2M373.7 234.6h.2M373.7 255.6h.2M373.8 255.6h.2M373.8 245.3h.2M373.9 234.6h.2M373.9 255.6h.2M373.9 255.6h.2M374.0 231.2h.2M374.1 255.6h.2M374.1 239.1h.2M374.1 234.6h.2M374.2 234.6h.2M374.2 231.2h.2M374.3 255.6h.2M374.3 245.3h.2M374.4 239.1h.2M374.5 245.3h.2M374.5 255.6h.2M374.6 239.1h.2M374.6 245.3h.2M374.6 239.1h.2M374.7 239.1h.2M374.7 239.1h.2M374.8 245.3h.2M374.8 245.3h.2M374.8 245.3h.2M374.9 255.6h.2M374.9 255.6h.2M375.0 245.3h.2M375.0 245.3h.2M375.1 228.4h.2M375.1 234.6h.2M375.1 234.6h.2M375.2 231.2h.2M375.3 255.6h.2M375.3 255.6h.2M375.3 255.6h.2M375.4 222.1h.2M375.4 255.6h.2M375.5 245.3h.2M375.5 245.3h.2M375.6 223.9h.2M375.6 228.4h.2M375.7 255.6h.2M375.7 255.6h.2M375.8 245.3h.2M375.8 239.1h.2M375.8 245.3h.2M375.9 255.6h.2M375.9 245.3h.2M376.0 245.3h.2M376.0 255.6h.2M376.1 255.6h.2M376.1 245.3h.2M376.2 223.9h.2M376.3 245.3h.2M376.3 245.3h.2M376.4 245.3h.2M376.4 239.1h.2M376.5 228.4h.2M376.5 245.3h.2M376.6 234.6h.2M376.6 226.0h.2M376.7 255.6h.2M376.8 245.3h.2M376.8 239.1h.2M376.9 239.1h.2M377.0 231.2h.2M377.0 231.2h.2M377.1 239.1h.2M377.1 231.2h.2M377.2 234.6h.2M377.2 255.6h.2M377.3 239.1h.2M377.3 234.6h.2M377.4 239.1h.2M377.4 239.1h.2M377.5 255.6h.2M377.6 239.1h.2M377.6 239.1h.2M377.8 245.3h.2M377.8 245.3h.2M377.8 239.1h.2M377.9 239.1h.2M377.9 231.2h.2M378.0 245.3h.2M378.1 239.1h.2M378.1 255.6h.2M378.2 234.6h.2M378.2 245.3h.2M378.2 245.3h.2M378.3 231.2h.2M378.3 234.6h.2M378.4 255.6h.2M378.4 245.3h.2M378.5 255.6h.2M378.5 245.3h.2M378.6 245.3h.2M378.6 255.6h.2M378.7 245.3h.2M378.7 255.6h.2M378.8 255.6h.2M378.8 255.6h.2M378.9 223.9h.2M378.9 239.1h.2M379.0 239.1h.2M379.0 239.1h.2M379.0 234.6h.2M379.1 239.1h.2M379.1 245.3h.2M379.2 234.6h.2M379.2 239.1h.2M379.3 255.6h.2M379.4 239.1h.2M379.4 255.6h.2M379.5 245.3h.2M379.5 234.6h.2M379.5 255.6h.2M379.6 255.6h.2M379.7 239.1h.2M379.7 255.6h.2M379.8 239.1h.2M379.8 245.3h.2M379.9 255.6h.2M379.9 245.3h.2M380.0 231.2h.2M380.1 239.1h.2M380.1 239.1h.2M380.2 228.4h.2M380.2 239.1h.2M380.2 245.3h.2M380.3 245.3h.2M380.3 231.2h.2M380.4 255.6h.2M380.4 245.3h.2M380.4 255.6h.2M380.5 255.6h.2M380.5 228.4h.2M380.6 239.1h.2M380.6 239.1h.2M380.7 239.1h.2M380.7 245.3h.2M380.7 222.1h.2M380.8 245.3h.2M380.8 255.6h.2M380.9 245.3h.2M380.9 228.4h.2M380.9 234.6h.2M381.0 228.4h.2M381.0 228.4h.2M381.1 245.3h.2M381.1 239.1h.2M381.2 255.6h.2M381.2 245.3h.2M381.2 255.6h.2M381.3 255.6h.2M381.4 234.6h.2M381.4 255.6h.2M381.4 255.6h.2M381.5 239.1h.2M381.5 234.6h.2M381.6 234.6h.2M381.6 239.1h.2M381.7 239.1h.2M381.7 255.6h.2M381.8 245.3h.2M381.8 245.3h.2M381.9 255.6h.2M381.9 255.6h.2M382.0 228.4h.2M382.1 234.6h.2M382.1 245.3h.2M382.2 234.6h.2M382.2 255.6h.2M382.3 255.6h.2M382.3 215.3h.2M382.4 255.6h.2M382.4 255.6h.2M382.4 245.3h.2M382.5 234.6h.2M382.5 255.6h.2M382.6 245.3h.2M382.6 255.6h.2M382.6 234.6h.2M382.7 239.1h.2M382.7 255.6h.2M382.8 255.6h.2M382.9 234.6h.2M382.9 255.6h.2M383.0 234.6h.2M383.0 239.1h.2M383.1 239.1h.2M383.1 234.6h.2M383.1 234.6h.2M383.2 234.6h.2M383.3 255.6h.2M383.4 245.3h.2M383.4 239.1h.2M383.5 245.3h.2M383.5 239.1h.2M383.6 255.6h.2M383.6 231.2h.2M383.6 255.6h.2M383.7 245.3h.2M383.7 255.6h.2M383.8 255.6h.2M383.8 234.6h.2M383.9 239.1h.2M383.9 239.1h.2M383.9 255.6h.2M384.0 239.1h.2M384.0 255.6h.2M384.1 255.6h.2M384.1 255.6h.2" stroke="#000" stroke-width="1.6" stroke-linecap="square" fill="none"/>
<path d="M240.4 50.6h.5M240.5 50.6h.5M240.5 51.6h.5M240.5 51.6h.5M240.6 52.6h.5M240.6 53.6h.5M240.7 55.6h.5M240.7 57.6h.5M240.7 60.6h.5M240.8 62.6h.5M240.8 64.6h.5M240.9 66.6h.5M240.9 68.6h.5M241.0 70.6h.5M241.0 72.6h.5M241.0 74.6h.5M241.1 76.6h.5M241.1 78.6h.5M241.2 80.6h.5M241.2 82.6h.5M241.2 84.6h.5M241.3 86.6h.5M241.3 88.6h.5M241.4 90.6h.5M241.4 92.6h.5M241.5 95.6h.5M241.5 97.6h.5M241.5 100.6h.5M241.6 102.6h.5M241.6 105.6h.5M241.7 107.6h.5M241.7 110.6h.5M241.7 112.6h.5M241.8 115.6h.5M241.8 117.6h.5M241.9 120.6h.5M241.9 122.6h.5M241.9 125.6h.5M242.0 128.6h.5M242.0 130.6h.5M242.1 133.6h.5M242.1 135.6h.5M242.2 138.6h.5M242.2 140.6h.5M242.2 143.6h.5M242.3 145.6h.5M242.3 148.6h.5M242.4 150.6h.5" stroke="#000" stroke-width="1.2" stroke-linecap="square" fill="none"/>
<line x1="53.6" y1="7.6" x2="53.6" y2="257.8" stroke="#000" stroke-width="1.2" stroke-dasharray="4.6 4.56" stroke-dashoffset="-4.84"/>
<rect x="44.3" y="7.6" width="339.9" height="250.20000000000002" fill="none" stroke="#000" stroke-width="1.5"/>
<path d="M44.2 257.8v3M44.2 7.6v3M53.6 257.8v5M53.6 7.6v5M63.0 257.8v3M63.0 7.6v3M72.5 257.8v3M72.5 7.6v3M81.9 257.8v3M81.9 7.6v3M91.4 257.8v3M91.4 7.6v3M100.8 257.8v5M100.8 7.6v5M110.2 257.8v3M110.2 7.6v3M119.7 257.8v3M119.7 7.6v3M129.1 257.8v3M129.1 7.6v3M138.6 257.8v3M138.6 7.6v3M148.0 257.8v5M148.0 7.6v5M157.4 257.8v3M157.4 7.6v3M166.9 257.8v3M166.9 7.6v3M176.3 257.8v3M176.3 7.6v3M185.8 257.8v3M185.8 7.6v3M195.2 257.8v5M195.2 7.6v5M204.6 257.8v3M204.6 7.6v3M214.1 257.8v3M214.1 7.6v3M223.5 257.8v3M223.5 7.6v3M233.0 257.8v3M233.0 7.6v3M242.4 257.8v5M242.4 7.6v5M251.8 257.8v3M251.8 7.6v3M261.3 257.8v3M261.3 7.6v3M270.7 257.8v3M270.7 7.6v3M280.2 257.8v3M280.2 7.6v3M289.6 257.8v5M289.6 7.6v5M299.0 257.8v3M299.0 7.6v3M308.5 257.8v3M308.5 7.6v3M317.9 257.8v3M317.9 7.6v3M327.4 257.8v3M327.4 7.6v3M336.8 257.8v5M336.8 7.6v5M346.2 257.8v3M346.2 7.6v3M355.7 257.8v3M355.7 7.6v3M365.1 257.8v3M365.1 7.6v3M374.6 257.8v3M374.6 7.6v3M384.0 257.8v5M384.0 7.6v5M44.3 256.0h-5M384.2 256.0h-5M44.3 245.3h-3M384.2 245.3h-3M44.3 239.1h-3M384.2 239.1h-3M44.3 234.6h-3M384.2 234.6h-3M44.3 231.2h-3M384.2 231.2h-3M44.3 228.4h-3M384.2 228.4h-3M44.3 226.0h-3M384.2 226.0h-3M44.3 223.9h-3M384.2 223.9h-3M44.3 222.1h-3M384.2 222.1h-3M44.3 220.5h-5M384.2 220.5h-5M44.3 209.8h-3M384.2 209.8h-3M44.3 203.6h-3M384.2 203.6h-3M44.3 199.1h-3M384.2 199.1h-3M44.3 195.7h-3M384.2 195.7h-3M44.3 192.9h-3M384.2 192.9h-3M44.3 190.5h-3M384.2 190.5h-3M44.3 188.4h-3M384.2 188.4h-3M44.3 186.6h-3M384.2 186.6h-3M44.3 185.0h-5M384.2 185.0h-5M44.3 174.3h-3M384.2 174.3h-3M44.3 168.1h-3M384.2 168.1h-3M44.3 163.6h-3M384.2 163.6h-3M44.3 160.2h-3M384.2 160.2h-3M44.3 157.4h-3M384.2 157.4h-3M44.3 155.0h-3M384.2 155.0h-3M44.3 152.9h-3M384.2 152.9h-3M44.3 151.1h-3M384.2 151.1h-3M44.3 149.5h-5M384.2 149.5h-5M44.3 138.8h-3M384.2 138.8h-3M44.3 132.6h-3M384.2 132.6h-3M44.3 128.1h-3M384.2 128.1h-3M44.3 124.7h-3M384.2 124.7h-3M44.3 121.9h-3M384.2 121.9h-3M44.3 119.5h-3M384.2 119.5h-3M44.3 117.4h-3M384.2 117.4h-3M44.3 115.6h-3M384.2 115.6h-3M44.3 114.0h-5M384.2 114.0h-5M44.3 103.3h-3M384.2 103.3h-3M44.3 97.1h-3M384.2 97.1h-3M44.3 92.6h-3M384.2 92.6h-3M44.3 89.2h-3M384.2 89.2h-3M44.3 86.4h-3M384.2 86.4h-3M44.3 84.0h-3M384.2 84.0h-3M44.3 81.9h-3M384.2 81.9h-3M44.3 80.1h-3M384.2 80.1h-3M44.3 78.5h-5M384.2 78.5h-5M44.3 67.8h-3M384.2 67.8h-3M44.3 61.6h-3M384.2 61.6h-3M44.3 57.1h-3M384.2 57.1h-3M44.3 53.7h-3M384.2 53.7h-3M44.3 50.9h-3M384.2 50.9h-3M44.3 48.5h-3M384.2 48.5h-3M44.3 46.4h-3M384.2 46.4h-3M44.3 44.6h-3M384.2 44.6h-3M44.3 43.0h-5M384.2 43.0h-5M44.3 32.3h-3M384.2 32.3h-3M44.3 26.1h-3M384.2 26.1h-3M44.3 21.6h-3M384.2 21.6h-3M44.3 18.2h-3M384.2 18.2h-3M44.3 15.4h-3M384.2 15.4h-3M44.3 13.0h-3M384.2 13.0h-3M44.3 10.9h-3M384.2 10.9h-3M44.3 9.1h-3M384.2 9.1h-3M44.3 7.5h-5M384.2 7.5h-5" stroke="#000" stroke-width="1.3" fill="none"/>
<text x="53.6" y="274.3" font-size="10" text-anchor="middle" stroke="#000" stroke-width="0.2">1</text>
<text x="100.8" y="274.3" font-size="10" text-anchor="middle" stroke="#000" stroke-width="0.2">2</text>
<text x="148.0" y="274.3" font-size="10" text-anchor="middle" stroke="#000" stroke-width="0.2">3</text>
<text x="195.2" y="274.3" font-size="10" text-anchor="middle" stroke="#000" stroke-width="0.2">4</text>
<text x="242.4" y="274.3" font-size="10" text-anchor="middle" stroke="#000" stroke-width="0.2">5</text>
<text x="289.6" y="274.3" font-size="10" text-anchor="middle" stroke="#000" stroke-width="0.2">6</text>
<text x="336.8" y="274.3" font-size="10" text-anchor="middle" stroke="#000" stroke-width="0.2">7</text>
<text x="384.0" y="274.3" font-size="10" text-anchor="middle" stroke="#000" stroke-width="0.2">8</text>
<text x="32.8" y="259.8" font-size="9.4" text-anchor="end" stroke="#000" stroke-width="0.2">10</text>
<text x="32.7" y="254.3" font-size="6.5" stroke="#000" stroke-width="0.2">0</text>
<text x="32.8" y="224.3" font-size="9.4" text-anchor="end" stroke="#000" stroke-width="0.2">10</text>
<text x="32.7" y="218.8" font-size="6.5" stroke="#000" stroke-width="0.2">1</text>
<text x="32.8" y="188.8" font-size="9.4" text-anchor="end" stroke="#000" stroke-width="0.2">10</text>
<text x="32.7" y="183.3" font-size="6.5" stroke="#000" stroke-width="0.2">2</text>
<text x="32.8" y="153.3" font-size="9.4" text-anchor="end" stroke="#000" stroke-width="0.2">10</text>
<text x="32.7" y="147.8" font-size="6.5" stroke="#000" stroke-width="0.2">3</text>
<text x="32.8" y="117.8" font-size="9.4" text-anchor="end" stroke="#000" stroke-width="0.2">10</text>
<text x="32.7" y="112.3" font-size="6.5" stroke="#000" stroke-width="0.2">4</text>
<text x="32.8" y="82.3" font-size="9.4" text-anchor="end" stroke="#000" stroke-width="0.2">10</text>
<text x="32.7" y="76.8" font-size="6.5" stroke="#000" stroke-width="0.2">5</text>
<text x="32.8" y="46.8" font-size="9.4" text-anchor="end" stroke="#000" stroke-width="0.2">10</text>
<text x="32.7" y="41.3" font-size="6.5" stroke="#000" stroke-width="0.2">6</text>
<text x="32.8" y="11.3" font-size="9.4" text-anchor="end" stroke="#000" stroke-width="0.2">10</text>
<text x="32.7" y="5.8" font-size="6.5" stroke="#000" stroke-width="0.2">7</text>
<text x="220.1" y="292.8" font-size="14" text-anchor="middle" stroke="#000" stroke-width="0.2">Energy (MeV)</text>
<text transform="translate(13.2 133.8) rotate(-90)" font-size="14" text-anchor="middle" stroke="#000" stroke-width="0.2">Number of events</text>
<text x="104.9" y="39.7" font-size="12.1" stroke="#000" stroke-width="0.2">source 2</text>
<text x="274" y="39.4" font-size="12.4" stroke="#000" stroke-width="0.2">pileup</text>
<text x="274" y="54.2" font-size="12.4" stroke="#000" stroke-width="0.2">background</text>
<text x="274" y="69.2" font-size="12.4" stroke="#000" stroke-width="0.2">impurities</text>
<text x="202.7" y="57.9" font-size="7.5" text-anchor="end" stroke="#000" stroke-width="0.2">209</text>
<text x="202.4" y="64.4" font-size="12.6" stroke="#000" stroke-width="0.2">Po</text>
<text x="273.9" y="115.8" font-size="7.0" text-anchor="end" stroke="#000" stroke-width="0.2">224</text>
<text x="274.9" y="121.6" font-size="11.8" stroke="#000" stroke-width="0.2">Ra</text>
<text x="258.4" y="134.1" font-size="7.0" text-anchor="end" stroke="#000" stroke-width="0.2">228</text>
<text x="258.7" y="139.9" font-size="11.8" stroke="#000" stroke-width="0.2">Th</text>
<text x="247.3" y="149.1" font-size="7.0" text-anchor="end" stroke="#000" stroke-width="0.2">232</text>
<text x="247.5" y="154.9" font-size="11.8" stroke="#000" stroke-width="0.2">U</text>
<text x="294.1" y="149.8" font-size="7.0" text-anchor="end" stroke="#000" stroke-width="0.2">212</text>
<text x="294.5" y="155.6" font-size="11.8" stroke="#000" stroke-width="0.2">Bi</text>
<text x="302.4" y="132.9" font-size="7.0" text-anchor="end" stroke="#000" stroke-width="0.2">220</text>
<text x="302.5" y="138.7" font-size="11.8" stroke="#000" stroke-width="0.2">Rn</text>
<text x="331.1" y="127.0" font-size="7.0" text-anchor="end" stroke="#000" stroke-width="0.2">216</text>
<text x="331.1" y="132.8" font-size="11.8" stroke="#000" stroke-width="0.2">Po</text>
<path d="M252.1 163.5V172.0" stroke="#000" stroke-width="1" fill="none"/>
<path d="M252.1 178.5l-2.1 -7.5h4.2z"/>
<path d="M257.6 159.3V169.2" stroke="#000" stroke-width="1" fill="none"/>
<path d="M257.6 175.7l-2.1 -7.5h4.2z"/>
<path d="M259.8 147V159.39999999999998" stroke="#000" stroke-width="1" fill="none"/>
<path d="M259.8 165.89999999999998l-2.1 -7.5h4.2z"/>
<path d="M265.4 147V166.1" stroke="#000" stroke-width="1" fill="none"/>
<path d="M265.4 172.6l-2.1 -7.5h4.2z"/>
<path d="M279.3 129.3V147.79999999999998" stroke="#000" stroke-width="1" fill="none"/>
<path d="M279.3 154.29999999999998l-2.1 -7.5h4.2z"/>
<path d="M297.7 159.7V176.2" stroke="#000" stroke-width="1" fill="none"/>
<path d="M297.7 182.7l-2.1 -7.5h4.2z"/>
<path d="M308.8 142.7V159.7" stroke="#000" stroke-width="1" fill="none"/>
<path d="M308.8 166.2l-2.1 -7.5h4.2z"/>
<path d="M332.7 140.9V158.39999999999998" stroke="#000" stroke-width="1" fill="none"/>
<path d="M332.7 164.89999999999998l-2.1 -7.5h4.2z"/>
<path d="M262.1 81.6H363.5" stroke="#000" stroke-width="1" fill="none"/>
<path d="M255.6 81.6l7.5 -2v4z"/>
<path d="M370 81.6l-7.5 -2v4z"/>
</svg></body></html>
